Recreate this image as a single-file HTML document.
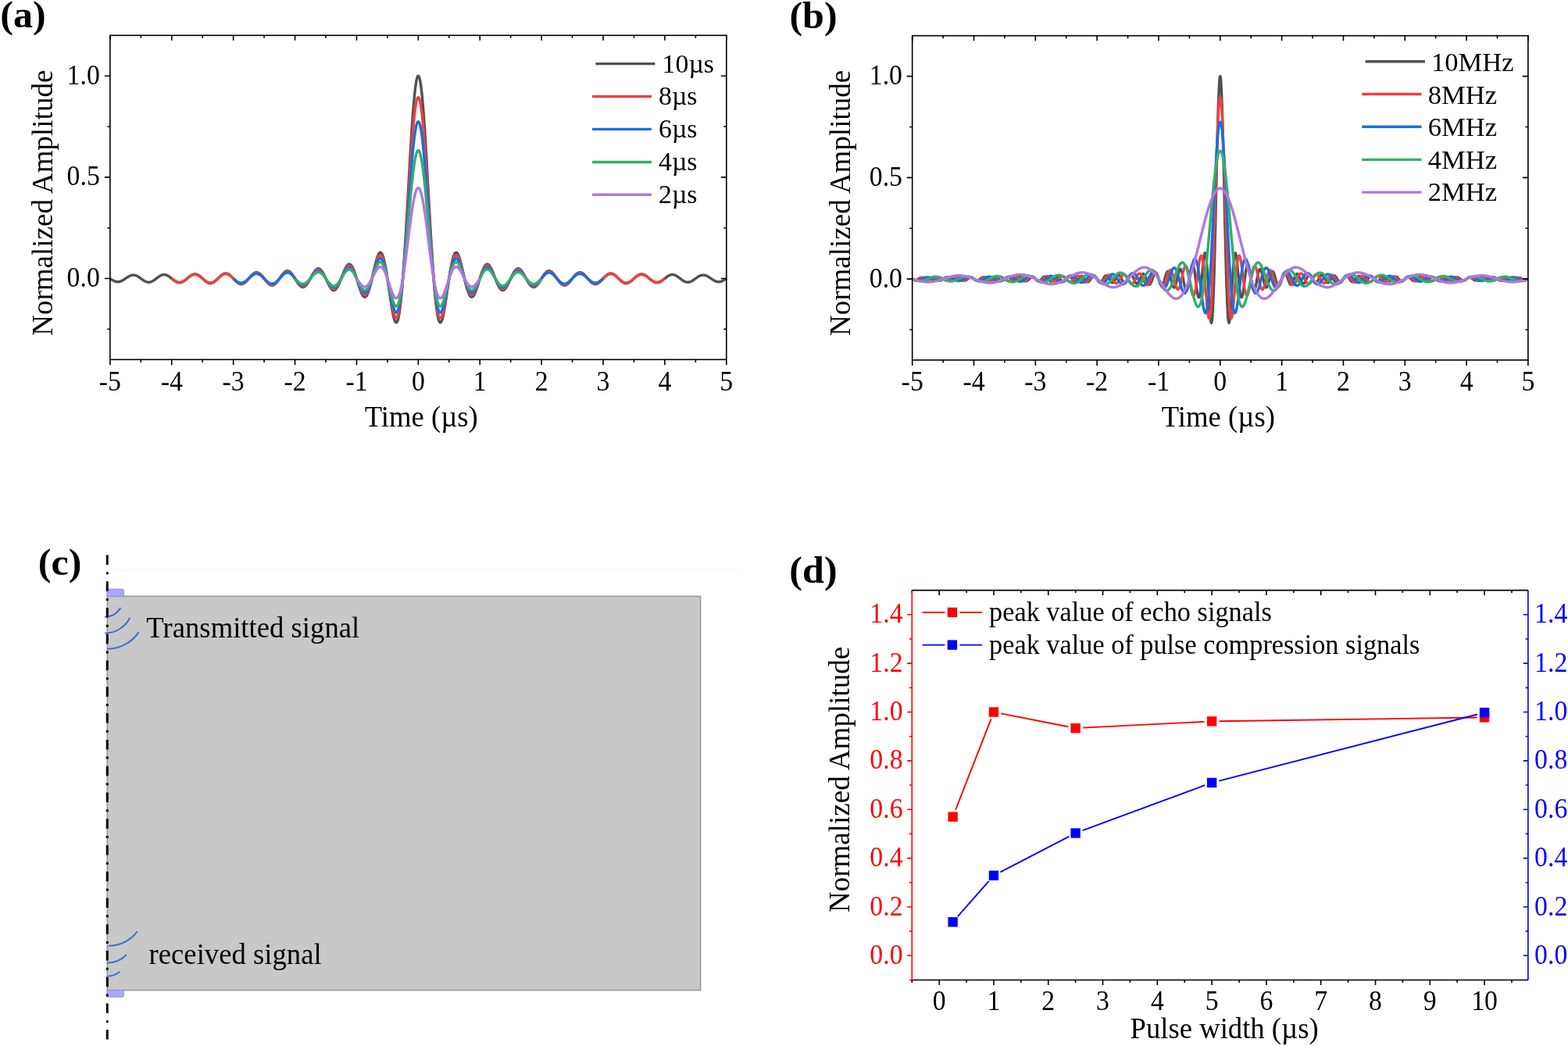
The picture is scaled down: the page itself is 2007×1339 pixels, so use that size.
<!DOCTYPE html><html><head><meta charset="utf-8"><style>html,body{margin:0;padding:0;background:#fff;overflow:hidden;width:2007px;height:1339px}svg{display:block}text{font-family:'Liberation Serif','Times New Roman',serif}</style></head><body>
<svg width="2007" height="1339" viewBox="0 0 2007 1339">
<rect width="2007" height="1339" fill="#fff"/>
<g fill="none" stroke-width="3.4" stroke-linejoin="round" stroke-linecap="butt">
<polyline stroke="#515151" points="140.9,356.6 141.5,357.0 142.2,357.4 142.8,357.8 143.4,358.2 144.1,358.6 144.7,358.9 145.3,359.2 145.9,359.6 146.6,359.8 147.2,360.1 147.8,360.3 148.5,360.5 149.1,360.6 149.7,360.7 150.4,360.8 151.0,360.8 151.6,360.8 152.3,360.7 152.9,360.6 153.5,360.4 154.1,360.2 154.8,360.0 155.4,359.7 156.0,359.4 156.7,359.1 157.3,358.7 157.9,358.3 158.6,357.9 159.2,357.5 159.8,357.1 160.4,356.7 161.1,356.2 161.7,355.8 162.3,355.4 163.0,355.0 163.6,354.5 164.2,354.2 164.9,353.8 165.5,353.5 166.1,353.2 166.8,352.9 167.4,352.7 168.0,352.5 168.6,352.3 169.3,352.2 169.9,352.1 170.5,352.1 171.2,352.1 171.8,352.2 172.4,352.3 173.1,352.4 173.7,352.6 174.3,352.9 175.0,353.1 175.6,353.4 176.2,353.8 176.8,354.1 177.5,354.5 178.1,355.0 178.7,355.4 179.4,355.8 180.0,356.3 180.6,356.8 181.3,357.2 181.9,357.7 182.5,358.1 183.2,358.5 183.8,359.0 184.4,359.4 185.0,359.7 185.7,360.0 186.3,360.3 186.9,360.6 187.6,360.8 188.2,361.0 188.8,361.1 189.5,361.2 190.1,361.3 190.7,361.3 191.3,361.2 192.0,361.1 192.6,361.0 193.2,360.8 193.9,360.5 194.5,360.3 195.1,359.9 195.8,359.6 196.4,359.2 197.0,358.8 197.7,358.4 198.3,357.9 198.9,357.4 199.5,357.0 200.2,356.5 200.8,356.0 201.4,355.5 202.1,355.0 202.7,354.6 203.3,354.1 204.0,353.7 204.6,353.3 205.2,352.9 205.9,352.6 206.5,352.3 207.1,352.1 207.7,351.9 208.4,351.7 209.0,351.6 209.6,351.6 210.3,351.5 210.9,351.6 211.5,351.7 212.2,351.8 212.8,352.0 213.4,352.3 214.1,352.5 214.7,352.9 215.3,353.2 215.9,353.6 216.6,354.0 217.2,354.5 217.8,355.0 218.5,355.5 219.1,356.0 219.7,356.5 220.4,357.0 221.0,357.5 221.6,358.0 222.2,358.5 222.9,359.0 223.5,359.5 224.1,359.9 224.8,360.3 225.4,360.6 226.0,361.0 226.7,361.2 227.3,361.5 227.9,361.6 228.6,361.8 229.2,361.9 229.8,361.9 230.4,361.8 231.1,361.8 231.7,361.6 232.3,361.4 233.0,361.2 233.6,360.9 234.2,360.6 234.9,360.2 235.5,359.8 236.1,359.3 236.8,358.9 237.4,358.4 238.0,357.8 238.6,357.3 239.3,356.8 239.9,356.2 240.5,355.7 241.2,355.1 241.8,354.6 242.4,354.1 243.1,353.6 243.7,353.1 244.3,352.7 245.0,352.3 245.6,351.9 246.2,351.6 246.8,351.4 247.5,351.2 248.1,351.0 248.7,350.9 249.4,350.9 250.0,350.9 250.6,350.9 251.3,351.1 251.9,351.3 252.5,351.5 253.1,351.8 253.8,352.1 254.4,352.5 255.0,353.0 255.7,353.4 256.3,353.9 256.9,354.5 257.6,355.0 258.2,355.6 258.8,356.2 259.5,356.8 260.1,357.3 260.7,357.9 261.3,358.5 262.0,359.1 262.6,359.6 263.2,360.1 263.9,360.6 264.5,361.0 265.1,361.4 265.8,361.8 266.4,362.1 267.0,362.3 267.7,362.5 268.3,362.6 268.9,362.7 269.5,362.7 270.2,362.6 270.8,362.5 271.4,362.3 272.1,362.1 272.7,361.8 273.3,361.4 274.0,361.0 274.6,360.6 275.2,360.1 275.9,359.5 276.5,359.0 277.1,358.4 277.7,357.8 278.4,357.1 279.0,356.5 279.6,355.9 280.3,355.2 280.9,354.6 281.5,354.0 282.2,353.4 282.8,352.9 283.4,352.3 284.0,351.9 284.7,351.4 285.3,351.0 285.9,350.7 286.6,350.4 287.2,350.2 287.8,350.1 288.5,350.0 289.1,349.9 289.7,350.0 290.4,350.1 291.0,350.3 291.6,350.5 292.2,350.8 292.9,351.2 293.5,351.6 294.1,352.1 294.8,352.6 295.4,353.2 296.0,353.8 296.7,354.4 297.3,355.1 297.9,355.7 298.6,356.4 299.2,357.1 299.8,357.8 300.4,358.5 301.1,359.1 301.7,359.8 302.3,360.4 303.0,361.0 303.6,361.5 304.2,362.0 304.9,362.4 305.5,362.8 306.1,363.1 306.8,363.4 307.4,363.6 308.0,363.7 308.6,363.7 309.3,363.7 309.9,363.6 310.5,363.4 311.2,363.2 311.8,362.9 312.4,362.5 313.1,362.1 313.7,361.6 314.3,361.0 314.9,360.4 315.6,359.8 316.2,359.1 316.8,358.4 317.5,357.7 318.1,356.9 318.7,356.2 319.4,355.4 320.0,354.7 320.6,353.9 321.3,353.2 321.9,352.5 322.5,351.9 323.1,351.3 323.8,350.7 324.4,350.2 325.0,349.8 325.7,349.4 326.3,349.1 326.9,348.9 327.6,348.8 328.2,348.7 328.8,348.7 329.5,348.8 330.1,348.9 330.7,349.2 331.3,349.5 332.0,349.9 332.6,350.4 333.2,350.9 333.9,351.5 334.5,352.1 335.1,352.8 335.8,353.5 336.4,354.3 337.0,355.1 337.7,355.9 338.3,356.8 338.9,357.6 339.5,358.4 340.2,359.2 340.8,360.0 341.4,360.8 342.1,361.5 342.7,362.2 343.3,362.8 344.0,363.4 344.6,363.9 345.2,364.3 345.9,364.7 346.5,364.9 347.1,365.1 347.7,365.2 348.4,365.2 349.0,365.2 349.6,365.0 350.3,364.8 350.9,364.4 351.5,364.0 352.2,363.5 352.8,363.0 353.4,362.4 354.0,361.7 354.7,360.9 355.3,360.1 355.9,359.3 356.6,358.4 357.2,357.5 357.8,356.6 358.5,355.6 359.1,354.7 359.7,353.8 360.4,352.9 361.0,352.1 361.6,351.3 362.2,350.5 362.9,349.8 363.5,349.1 364.1,348.5 364.8,348.0 365.4,347.6 366.0,347.3 366.7,347.0 367.3,346.9 367.9,346.8 368.6,346.9 369.2,347.0 369.8,347.3 370.4,347.6 371.1,348.0 371.7,348.5 372.3,349.2 373.0,349.8 373.6,350.6 374.2,351.4 374.9,352.3 375.5,353.2 376.1,354.2 376.8,355.2 377.4,356.2 378.0,357.3 378.6,358.3 379.3,359.3 379.9,360.4 380.5,361.3 381.2,362.3 381.8,363.2 382.4,364.0 383.1,364.7 383.7,365.4 384.3,366.0 384.9,366.5 385.6,367.0 386.2,367.3 386.8,367.5 387.5,367.6 388.1,367.5 388.7,367.4 389.4,367.2 390.0,366.8 390.6,366.4 391.3,365.8 391.9,365.2 392.5,364.4 393.1,363.6 393.8,362.7 394.4,361.7 395.0,360.6 395.7,359.5 396.3,358.4 396.9,357.2 397.6,356.0 398.2,354.9 398.8,353.7 399.5,352.5 400.1,351.4 400.7,350.3 401.3,349.2 402.0,348.3 402.6,347.4 403.2,346.5 403.9,345.8 404.5,345.2 405.1,344.7 405.8,344.3 406.4,344.0 407.0,343.9 407.7,343.8 408.3,343.9 408.9,344.2 409.5,344.5 410.2,345.0 410.8,345.6 411.4,346.3 412.1,347.2 412.7,348.1 413.3,349.2 414.0,350.3 414.6,351.5 415.2,352.7 415.8,354.0 416.5,355.4 417.1,356.8 417.7,358.1 418.4,359.5 419.0,360.9 419.6,362.2 420.3,363.5 420.9,364.8 421.5,366.0 422.2,367.1 422.8,368.1 423.4,368.9 424.0,369.7 424.7,370.4 425.3,370.9 425.9,371.3 426.6,371.5 427.2,371.6 427.8,371.5 428.5,371.3 429.1,370.9 429.7,370.4 430.4,369.7 431.0,368.9 431.6,368.0 432.2,366.9 432.9,365.7 433.5,364.4 434.1,363.0 434.8,361.5 435.4,360.0 436.0,358.4 436.7,356.8 437.3,355.1 437.9,353.4 438.6,351.8 439.2,350.1 439.8,348.5 440.4,347.0 441.1,345.5 441.7,344.2 442.3,342.9 443.0,341.8 443.6,340.8 444.2,339.9 444.9,339.2 445.5,338.7 446.1,338.4 446.7,338.2 447.4,338.2 448.0,338.4 448.6,338.8 449.3,339.3 449.9,340.1 450.5,341.0 451.2,342.1 451.8,343.4 452.4,344.8 453.1,346.3 453.7,348.0 454.3,349.8 454.9,351.7 455.6,353.7 456.2,355.7 456.8,357.8 457.5,359.9 458.1,362.0 458.7,364.1 459.4,366.1 460.0,368.1 460.6,370.0 461.3,371.7 461.9,373.4 462.5,374.9 463.1,376.3 463.8,377.5 464.4,378.4 465.0,379.2 465.7,379.8 466.3,380.1 466.9,380.2 467.6,380.1 468.2,379.7 468.8,379.1 469.5,378.3 470.1,377.2 470.7,375.8 471.3,374.3 472.0,372.5 472.6,370.6 473.2,368.4 473.9,366.1 474.5,363.7 475.1,361.1 475.8,358.4 476.4,355.6 477.0,352.8 477.6,350.0 478.3,347.2 478.9,344.4 479.5,341.7 480.2,339.0 480.8,336.5 481.4,334.1 482.1,331.9 482.7,329.9 483.3,328.1 484.0,326.6 484.6,325.3 485.2,324.4 485.8,323.7 486.5,323.3 487.1,323.3 487.7,323.6 488.4,324.2 489.0,325.2 489.6,326.6 490.3,328.3 490.9,330.3 491.5,332.7 492.2,335.3 492.8,338.3 493.4,341.5 494.0,345.0 494.7,348.8 495.3,352.7 495.9,356.8 496.6,361.0 497.2,365.3 497.8,369.6 498.5,374.0 499.1,378.4 499.7,382.6 500.4,386.8 501.0,390.8 501.6,394.6 502.2,398.2 502.9,401.5 503.5,404.4 504.1,407.0 504.8,409.1 505.4,410.8 506.0,412.0 506.7,412.7 507.3,412.9 507.9,412.5 508.5,411.4 509.2,409.8 509.8,407.5 510.4,404.6 511.1,401.1 511.7,396.9 512.3,392.0 513.0,386.5 513.6,380.4 514.2,373.6 514.9,366.3 515.5,358.4 516.1,350.0 516.7,341.0 517.4,331.6 518.0,321.8 518.6,311.6 519.3,301.0 519.9,290.2 520.5,279.2 521.2,268.0 521.8,256.7 522.4,245.3 523.1,234.0 523.7,222.7 524.3,211.6 524.9,200.6 525.6,190.0 526.2,179.6 526.8,169.7 527.5,160.2 528.1,151.1 528.7,142.7 529.4,134.8 530.0,127.6 530.6,121.0 531.3,115.2 531.9,110.2 532.5,105.9 533.1,102.5 533.8,99.9 534.4,98.2 535.0,97.3 535.7,97.3 536.3,98.2 536.9,99.9 537.6,102.5 538.2,105.9 538.8,110.2 539.4,115.2 540.1,121.0 540.7,127.6 541.3,134.8 542.0,142.7 542.6,151.1 543.2,160.2 543.9,169.7 544.5,179.6 545.1,190.0 545.8,200.6 546.4,211.6 547.0,222.7 547.6,234.0 548.3,245.3 548.9,256.7 549.5,268.0 550.2,279.2 550.8,290.2 551.4,301.0 552.1,311.6 552.7,321.8 553.3,331.6 554.0,341.0 554.6,350.0 555.2,358.4 555.8,366.3 556.5,373.6 557.1,380.4 557.7,386.5 558.4,392.0 559.0,396.9 559.6,401.1 560.3,404.6 560.9,407.5 561.5,409.8 562.2,411.4 562.8,412.5 563.4,412.9 564.0,412.7 564.7,412.0 565.3,410.8 565.9,409.1 566.6,407.0 567.2,404.4 567.8,401.5 568.5,398.2 569.1,394.6 569.7,390.8 570.3,386.8 571.0,382.6 571.6,378.4 572.2,374.0 572.9,369.6 573.5,365.3 574.1,361.0 574.8,356.8 575.4,352.7 576.0,348.8 576.7,345.0 577.3,341.5 577.9,338.3 578.5,335.3 579.2,332.7 579.8,330.3 580.4,328.3 581.1,326.6 581.7,325.2 582.3,324.2 583.0,323.6 583.6,323.3 584.2,323.3 584.9,323.7 585.5,324.4 586.1,325.3 586.7,326.6 587.4,328.1 588.0,329.9 588.6,331.9 589.3,334.1 589.9,336.5 590.5,339.0 591.2,341.7 591.8,344.4 592.4,347.2 593.1,350.0 593.7,352.8 594.3,355.6 594.9,358.4 595.6,361.1 596.2,363.7 596.8,366.1 597.5,368.4 598.1,370.6 598.7,372.5 599.4,374.3 600.0,375.8 600.6,377.2 601.2,378.3 601.9,379.1 602.5,379.7 603.1,380.1 603.8,380.2 604.4,380.1 605.0,379.8 605.7,379.2 606.3,378.4 606.9,377.5 607.6,376.3 608.2,374.9 608.8,373.4 609.4,371.7 610.1,370.0 610.7,368.1 611.3,366.1 612.0,364.1 612.6,362.0 613.2,359.9 613.9,357.8 614.5,355.7 615.1,353.7 615.8,351.7 616.4,349.8 617.0,348.0 617.6,346.3 618.3,344.8 618.9,343.4 619.5,342.1 620.2,341.0 620.8,340.1 621.4,339.3 622.1,338.8 622.7,338.4 623.3,338.2 624.0,338.2 624.6,338.4 625.2,338.7 625.8,339.2 626.5,339.9 627.1,340.8 627.7,341.8 628.4,342.9 629.0,344.2 629.6,345.5 630.3,347.0 630.9,348.5 631.5,350.1 632.1,351.8 632.8,353.4 633.4,355.1 634.0,356.8 634.7,358.4 635.3,360.0 635.9,361.5 636.6,363.0 637.2,364.4 637.8,365.7 638.5,366.9 639.1,368.0 639.7,368.9 640.3,369.7 641.0,370.4 641.6,370.9 642.2,371.3 642.9,371.5 643.5,371.6 644.1,371.5 644.8,371.3 645.4,370.9 646.0,370.4 646.7,369.7 647.3,368.9 647.9,368.1 648.5,367.1 649.2,366.0 649.8,364.8 650.4,363.5 651.1,362.2 651.7,360.9 652.3,359.5 653.0,358.1 653.6,356.8 654.2,355.4 654.9,354.0 655.5,352.7 656.1,351.5 656.7,350.3 657.4,349.2 658.0,348.1 658.6,347.2 659.3,346.3 659.9,345.6 660.5,345.0 661.2,344.5 661.8,344.2 662.4,343.9 663.0,343.8 663.7,343.9 664.3,344.0 664.9,344.3 665.6,344.7 666.2,345.2 666.8,345.8 667.5,346.5 668.1,347.4 668.7,348.3 669.4,349.2 670.0,350.3 670.6,351.4 671.2,352.5 671.9,353.7 672.5,354.9 673.1,356.0 673.8,357.2 674.4,358.4 675.0,359.5 675.7,360.6 676.3,361.7 676.9,362.7 677.6,363.6 678.2,364.4 678.8,365.2 679.4,365.8 680.1,366.4 680.7,366.8 681.3,367.2 682.0,367.4 682.6,367.5 683.2,367.6 683.9,367.5 684.5,367.3 685.1,367.0 685.8,366.5 686.4,366.0 687.0,365.4 687.6,364.7 688.3,364.0 688.9,363.2 689.5,362.3 690.2,361.3 690.8,360.4 691.4,359.3 692.1,358.3 692.7,357.3 693.3,356.2 693.9,355.2 694.6,354.2 695.2,353.2 695.8,352.3 696.5,351.4 697.1,350.6 697.7,349.8 698.4,349.2 699.0,348.5 699.6,348.0 700.3,347.6 700.9,347.3 701.5,347.0 702.1,346.9 702.8,346.8 703.4,346.9 704.0,347.0 704.7,347.3 705.3,347.6 705.9,348.0 706.6,348.5 707.2,349.1 707.8,349.8 708.5,350.5 709.1,351.3 709.7,352.1 710.3,352.9 711.0,353.8 711.6,354.7 712.2,355.6 712.9,356.6 713.5,357.5 714.1,358.4 714.8,359.3 715.4,360.1 716.0,360.9 716.7,361.7 717.3,362.4 717.9,363.0 718.5,363.5 719.2,364.0 719.8,364.4 720.4,364.8 721.1,365.0 721.7,365.2 722.3,365.2 723.0,365.2 723.6,365.1 724.2,364.9 724.8,364.7 725.5,364.3 726.1,363.9 726.7,363.4 727.4,362.8 728.0,362.2 728.6,361.5 729.3,360.8 729.9,360.0 730.5,359.2 731.2,358.4 731.8,357.6 732.4,356.8 733.0,355.9 733.7,355.1 734.3,354.3 734.9,353.5 735.6,352.8 736.2,352.1 736.8,351.5 737.5,350.9 738.1,350.4 738.7,349.9 739.4,349.5 740.0,349.2 740.6,348.9 741.2,348.8 741.9,348.7 742.5,348.7 743.1,348.8 743.8,348.9 744.4,349.1 745.0,349.4 745.7,349.8 746.3,350.2 746.9,350.7 747.6,351.3 748.2,351.9 748.8,352.5 749.4,353.2 750.1,353.9 750.7,354.7 751.3,355.4 752.0,356.2 752.6,356.9 753.2,357.7 753.9,358.4 754.5,359.1 755.1,359.8 755.8,360.4 756.4,361.0 757.0,361.6 757.6,362.1 758.3,362.5 758.9,362.9 759.5,363.2 760.2,363.4 760.8,363.6 761.4,363.7 762.1,363.7 762.7,363.7 763.3,363.6 763.9,363.4 764.6,363.1 765.2,362.8 765.8,362.4 766.5,362.0 767.1,361.5 767.7,361.0 768.4,360.4 769.0,359.8 769.6,359.1 770.3,358.5 770.9,357.8 771.5,357.1 772.1,356.4 772.8,355.7 773.4,355.1 774.0,354.4 774.7,353.8 775.3,353.2 775.9,352.6 776.6,352.1 777.2,351.6 777.8,351.2 778.5,350.8 779.1,350.5 779.7,350.3 780.3,350.1 781.0,350.0 781.6,349.9 782.2,350.0 782.9,350.1 783.5,350.2 784.1,350.4 784.8,350.7 785.4,351.0 786.0,351.4 786.7,351.9 787.3,352.3 787.9,352.9 788.5,353.4 789.2,354.0 789.8,354.6 790.4,355.2 791.1,355.9 791.7,356.5 792.3,357.1 793.0,357.8 793.6,358.4 794.2,359.0 794.8,359.5 795.5,360.1 796.1,360.6 796.7,361.0 797.4,361.4 798.0,361.8 798.6,362.1 799.3,362.3 799.9,362.5 800.5,362.6 801.2,362.7 801.8,362.7 802.4,362.6 803.0,362.5 803.7,362.3 804.3,362.1 804.9,361.8 805.6,361.4 806.2,361.0 806.8,360.6 807.5,360.1 808.1,359.6 808.7,359.1 809.4,358.5 810.0,357.9 810.6,357.3 811.2,356.8 811.9,356.2 812.5,355.6 813.1,355.0 813.8,354.5 814.4,353.9 815.0,353.4 815.7,353.0 816.3,352.5 816.9,352.1 817.6,351.8 818.2,351.5 818.8,351.3 819.4,351.1 820.1,350.9 820.7,350.9 821.3,350.9 822.0,350.9 822.6,351.0 823.2,351.2 823.9,351.4 824.5,351.6 825.1,351.9 825.7,352.3 826.4,352.7 827.0,353.1 827.6,353.6 828.3,354.1 828.9,354.6 829.5,355.1 830.2,355.7 830.8,356.2 831.4,356.8 832.1,357.3 832.7,357.8 833.3,358.4 833.9,358.9 834.6,359.3 835.2,359.8 835.8,360.2 836.5,360.6 837.1,360.9 837.7,361.2 838.4,361.4 839.0,361.6 839.6,361.8 840.3,361.8 840.9,361.9 841.5,361.9 842.1,361.8 842.8,361.6 843.4,361.5 844.0,361.2 844.7,361.0 845.3,360.6 845.9,360.3 846.6,359.9 847.2,359.5 847.8,359.0 848.5,358.5 849.1,358.0 849.7,357.5 850.3,357.0 851.0,356.5 851.6,356.0 852.2,355.5 852.9,355.0 853.5,354.5 854.1,354.0 854.8,353.6 855.4,353.2 856.0,352.9 856.6,352.5 857.3,352.3 857.9,352.0 858.5,351.8 859.2,351.7 859.8,351.6 860.4,351.5 861.1,351.6 861.7,351.6 862.3,351.7 863.0,351.9 863.6,352.1 864.2,352.3 864.8,352.6 865.5,352.9 866.1,353.3 866.7,353.7 867.4,354.1 868.0,354.6 868.6,355.0 869.3,355.5 869.9,356.0 870.5,356.5 871.2,357.0 871.8,357.4 872.4,357.9 873.0,358.4 873.7,358.8 874.3,359.2 874.9,359.6 875.6,359.9 876.2,360.3 876.8,360.5 877.5,360.8 878.1,361.0 878.7,361.1 879.4,361.2 880.0,361.3 880.6,361.3 881.2,361.2 881.9,361.1 882.5,361.0 883.1,360.8 883.8,360.6 884.4,360.3 885.0,360.0 885.7,359.7 886.3,359.4 886.9,359.0 887.5,358.5 888.2,358.1 888.8,357.7 889.4,357.2 890.1,356.8 890.7,356.3 891.3,355.8 892.0,355.4 892.6,355.0 893.2,354.5 893.9,354.1 894.5,353.8 895.1,353.4 895.7,353.1 896.4,352.9 897.0,352.6 897.6,352.4 898.3,352.3 898.9,352.2 899.5,352.1 900.2,352.1 900.8,352.1 901.4,352.2 902.1,352.3 902.7,352.5 903.3,352.7 903.9,352.9 904.6,353.2 905.2,353.5 905.8,353.8 906.5,354.2 907.1,354.5 907.7,355.0 908.4,355.4 909.0,355.8 909.6,356.2 910.3,356.7 910.9,357.1 911.5,357.5 912.1,357.9 912.8,358.3 913.4,358.7 914.0,359.1 914.7,359.4 915.3,359.7 915.9,360.0 916.6,360.2 917.2,360.4 917.8,360.6 918.4,360.7 919.1,360.8 919.7,360.8 920.3,360.8 921.0,360.7 921.6,360.6 922.2,360.5 922.9,360.3 923.5,360.1 924.1,359.8 924.8,359.6 925.4,359.2 926.0,358.9 926.6,358.6 927.3,358.2 927.9,357.8 928.5,357.4 929.2,357.0 929.8,356.6"/>
<polyline stroke="#F14040" points="219.8,356.6 220.4,357.0 221.1,357.5 221.7,357.9 222.3,358.4 222.9,358.8 223.6,359.2 224.2,359.6 224.8,359.9 225.5,360.2 226.1,360.5 226.7,360.8 227.4,361.0 228.0,361.1 228.6,361.2 229.2,361.3 229.9,361.3 230.5,361.3 231.1,361.2 231.8,361.1 232.4,360.9 233.0,360.7 233.7,360.4 234.3,360.1 234.9,359.8 235.6,359.4 236.2,359.0 236.8,358.6 237.4,358.1 238.1,357.7 238.7,357.2 239.3,356.7 240.0,356.2 240.6,355.7 241.2,355.2 241.9,354.7 242.5,354.3 243.1,353.8 243.7,353.4 244.4,353.0 245.0,352.7 245.6,352.4 246.3,352.1 246.9,351.9 247.5,351.7 248.2,351.6 248.8,351.5 249.4,351.5 250.1,351.5 250.7,351.5 251.3,351.7 251.9,351.8 252.6,352.1 253.2,352.3 253.8,352.6 254.5,353.0 255.1,353.4 255.7,353.8 256.4,354.2 257.0,354.7 257.6,355.2 258.2,355.7 258.9,356.3 259.5,356.8 260.1,357.3 260.8,357.8 261.4,358.3 262.0,358.8 262.7,359.3 263.3,359.8 263.9,360.2 264.6,360.6 265.2,360.9 265.8,361.2 266.4,361.5 267.1,361.7 267.7,361.9 268.3,362.0 269.0,362.0 269.6,362.0 270.2,362.0 270.9,361.8 271.5,361.7 272.1,361.5 272.8,361.2 273.4,360.9 274.0,360.5 274.6,360.1 275.3,359.7 275.9,359.2 276.5,358.7 277.2,358.1 277.8,357.6 278.4,357.0 279.1,356.5 279.7,355.9 280.3,355.3 280.9,354.8 281.6,354.2 282.2,353.7 282.8,353.2 283.5,352.7 284.1,352.3 284.7,351.9 285.4,351.6 286.0,351.3 286.6,351.0 287.3,350.9 287.9,350.7 288.5,350.7 289.1,350.6 289.8,350.7 290.4,350.8 291.0,351.0 291.7,351.2 292.3,351.5 292.9,351.8 293.6,352.2 294.2,352.6 294.8,353.1 295.4,353.6 296.1,354.1 296.7,354.7 297.3,355.3 298.0,355.9 298.6,356.5 299.2,357.1 299.9,357.7 300.5,358.3 301.1,358.9 301.8,359.5 302.4,360.0 303.0,360.5 303.6,361.0 304.3,361.5 304.9,361.8 305.5,362.2 306.2,362.5 306.8,362.7 307.4,362.8 308.1,362.9 308.7,363.0 309.3,362.9 309.9,362.8 310.6,362.7 311.2,362.5 311.8,362.2 312.5,361.8 313.1,361.4 313.7,361.0 314.4,360.5 315.0,360.0 315.6,359.4 316.3,358.8 316.9,358.1 317.5,357.5 318.1,356.8 318.8,356.1 319.4,355.5 320.0,354.8 320.7,354.2 321.3,353.5 321.9,352.9 322.6,352.3 323.2,351.8 323.8,351.3 324.5,350.9 325.1,350.5 325.7,350.2 326.3,349.9 327.0,349.7 327.6,349.6 328.2,349.5 328.9,349.5 329.5,349.6 330.1,349.8 330.8,350.0 331.4,350.3 332.0,350.6 332.6,351.0 333.3,351.5 333.9,352.1 334.5,352.6 335.2,353.3 335.8,353.9 336.4,354.6 337.1,355.3 337.7,356.0 338.3,356.8 339.0,357.5 339.6,358.3 340.2,359.0 340.8,359.7 341.5,360.4 342.1,361.0 342.7,361.6 343.4,362.2 344.0,362.7 344.6,363.1 345.3,363.5 345.9,363.8 346.5,364.1 347.1,364.2 347.8,364.3 348.4,364.3 349.0,364.3 349.7,364.1 350.3,363.9 350.9,363.6 351.6,363.2 352.2,362.8 352.8,362.3 353.5,361.7 354.1,361.1 354.7,360.4 355.3,359.7 356.0,358.9 356.6,358.2 357.2,357.3 357.9,356.5 358.5,355.7 359.1,354.9 359.8,354.1 360.4,353.3 361.0,352.5 361.7,351.8 362.3,351.1 362.9,350.5 363.5,349.9 364.2,349.4 364.8,348.9 365.4,348.5 366.1,348.2 366.7,348.0 367.3,347.9 368.0,347.9 368.6,347.9 369.2,348.0 369.8,348.3 370.5,348.6 371.1,349.0 371.7,349.4 372.4,350.0 373.0,350.6 373.6,351.3 374.3,352.0 374.9,352.8 375.5,353.6 376.2,354.5 376.8,355.4 377.4,356.3 378.0,357.2 378.7,358.2 379.3,359.1 379.9,360.0 380.6,360.9 381.2,361.7 381.8,362.5 382.5,363.2 383.1,363.9 383.7,364.5 384.3,365.1 385.0,365.5 385.6,365.9 386.2,366.1 386.9,366.3 387.5,366.4 388.1,366.4 388.8,366.3 389.4,366.0 390.0,365.7 390.7,365.3 391.3,364.8 391.9,364.2 392.5,363.5 393.2,362.8 393.8,362.0 394.4,361.1 395.1,360.2 395.7,359.2 396.3,358.2 397.0,357.1 397.6,356.1 398.2,355.0 398.8,353.9 399.5,352.9 400.1,351.9 400.7,350.9 401.4,350.0 402.0,349.1 402.6,348.3 403.3,347.6 403.9,346.9 404.5,346.4 405.2,345.9 405.8,345.6 406.4,345.3 407.0,345.2 407.7,345.2 408.3,345.3 408.9,345.5 409.6,345.8 410.2,346.3 410.8,346.8 411.5,347.5 412.1,348.2 412.7,349.0 413.4,350.0 414.0,351.0 414.6,352.0 415.2,353.2 415.9,354.3 416.5,355.6 417.1,356.8 417.8,358.0 418.4,359.3 419.0,360.5 419.7,361.7 420.3,362.9 420.9,364.0 421.5,365.0 422.2,366.0 422.8,366.9 423.4,367.7 424.1,368.4 424.7,368.9 425.3,369.4 426.0,369.7 426.6,369.9 427.2,370.0 427.9,369.9 428.5,369.7 429.1,369.4 429.7,368.9 430.4,368.3 431.0,367.6 431.6,366.7 432.3,365.8 432.9,364.7 433.5,363.6 434.2,362.3 434.8,361.0 435.4,359.6 436.0,358.2 436.7,356.7 437.3,355.2 437.9,353.7 438.6,352.2 439.2,350.8 439.8,349.3 440.5,348.0 441.1,346.7 441.7,345.5 442.4,344.3 443.0,343.3 443.6,342.4 444.2,341.7 444.9,341.1 445.5,340.6 446.1,340.3 446.8,340.1 447.4,340.1 448.0,340.3 448.7,340.6 449.3,341.2 449.9,341.8 450.5,342.7 451.2,343.7 451.8,344.8 452.4,346.1 453.1,347.5 453.7,349.0 454.3,350.6 455.0,352.3 455.6,354.0 456.2,355.9 456.9,357.7 457.5,359.6 458.1,361.5 458.7,363.3 459.4,365.1 460.0,366.9 460.6,368.6 461.3,370.2 461.9,371.7 462.5,373.0 463.2,374.2 463.8,375.3 464.4,376.1 465.1,376.8 465.7,377.3 466.3,377.6 466.9,377.7 467.6,377.6 468.2,377.3 468.8,376.7 469.5,375.9 470.1,375.0 470.7,373.8 471.4,372.4 472.0,370.8 472.6,369.0 473.2,367.1 473.9,365.1 474.5,362.9 475.1,360.6 475.8,358.2 476.4,355.7 477.0,353.2 477.7,350.7 478.3,348.1 478.9,345.6 479.6,343.2 480.2,340.8 480.8,338.6 481.4,336.5 482.1,334.5 482.7,332.7 483.3,331.1 484.0,329.7 484.6,328.6 485.2,327.7 485.9,327.1 486.5,326.8 487.1,326.8 487.7,327.1 488.4,327.7 489.0,328.6 489.6,329.8 490.3,331.3 490.9,333.1 491.5,335.2 492.2,337.6 492.8,340.3 493.4,343.2 494.1,346.3 494.7,349.6 495.3,353.1 495.9,356.8 496.6,360.6 497.2,364.4 497.8,368.3 498.5,372.2 499.1,376.1 499.7,379.9 500.4,383.7 501.0,387.2 501.6,390.6 502.2,393.8 502.9,396.7 503.5,399.4 504.1,401.7 504.8,403.6 505.4,405.1 506.0,406.2 506.7,406.8 507.3,406.9 507.9,406.5 508.6,405.6 509.2,404.2 509.8,402.1 510.4,399.5 511.1,396.3 511.7,392.6 512.3,388.2 513.0,383.3 513.6,377.8 514.2,371.8 514.9,365.2 515.5,358.2 516.1,350.6 516.8,342.6 517.4,334.2 518.0,325.4 518.6,316.3 519.3,306.9 519.9,297.2 520.5,287.3 521.2,277.3 521.8,267.2 522.4,257.0 523.1,246.9 523.7,236.8 524.3,226.8 524.9,217.1 525.6,207.5 526.2,198.3 526.8,189.4 527.5,180.9 528.1,172.8 528.7,165.2 529.4,158.2 530.0,151.7 530.6,145.9 531.3,140.7 531.9,136.2 532.5,132.4 533.1,129.3 533.8,127.0 534.4,125.4 535.0,124.7 535.7,124.7 536.3,125.4 536.9,127.0 537.6,129.3 538.2,132.4 538.8,136.2 539.4,140.7 540.1,145.9 540.7,151.7 541.3,158.2 542.0,165.2 542.6,172.8 543.2,180.9 543.9,189.4 544.5,198.3 545.1,207.5 545.8,217.1 546.4,226.8 547.0,236.8 547.6,246.9 548.3,257.0 548.9,267.2 549.5,277.3 550.2,287.3 550.8,297.2 551.4,306.9 552.1,316.3 552.7,325.4 553.3,334.2 553.9,342.6 554.6,350.6 555.2,358.2 555.8,365.2 556.5,371.8 557.1,377.8 557.7,383.3 558.4,388.2 559.0,392.6 559.6,396.3 560.3,399.5 560.9,402.1 561.5,404.2 562.1,405.6 562.8,406.5 563.4,406.9 564.0,406.8 564.7,406.2 565.3,405.1 565.9,403.6 566.6,401.7 567.2,399.4 567.8,396.7 568.5,393.8 569.1,390.6 569.7,387.2 570.3,383.7 571.0,379.9 571.6,376.1 572.2,372.2 572.9,368.3 573.5,364.4 574.1,360.6 574.8,356.8 575.4,353.1 576.0,349.6 576.6,346.3 577.3,343.2 577.9,340.3 578.5,337.6 579.2,335.2 579.8,333.1 580.4,331.3 581.1,329.8 581.7,328.6 582.3,327.7 583.0,327.1 583.6,326.8 584.2,326.8 584.8,327.1 585.5,327.7 586.1,328.6 586.7,329.7 587.4,331.1 588.0,332.7 588.6,334.5 589.3,336.5 589.9,338.6 590.5,340.8 591.1,343.2 591.8,345.6 592.4,348.1 593.0,350.7 593.7,353.2 594.3,355.7 594.9,358.2 595.6,360.6 596.2,362.9 596.8,365.1 597.5,367.1 598.1,369.0 598.7,370.8 599.3,372.4 600.0,373.8 600.6,375.0 601.2,375.9 601.9,376.7 602.5,377.3 603.1,377.6 603.8,377.7 604.4,377.6 605.0,377.3 605.6,376.8 606.3,376.1 606.9,375.3 607.5,374.2 608.2,373.0 608.8,371.7 609.4,370.2 610.1,368.6 610.7,366.9 611.3,365.1 612.0,363.3 612.6,361.5 613.2,359.6 613.8,357.7 614.5,355.9 615.1,354.0 615.7,352.3 616.4,350.6 617.0,349.0 617.6,347.5 618.3,346.1 618.9,344.8 619.5,343.7 620.2,342.7 620.8,341.8 621.4,341.2 622.0,340.6 622.7,340.3 623.3,340.1 623.9,340.1 624.6,340.3 625.2,340.6 625.8,341.1 626.5,341.7 627.1,342.4 627.7,343.3 628.3,344.3 629.0,345.5 629.6,346.7 630.2,348.0 630.9,349.3 631.5,350.8 632.1,352.2 632.8,353.7 633.4,355.2 634.0,356.7 634.7,358.2 635.3,359.6 635.9,361.0 636.5,362.3 637.2,363.6 637.8,364.7 638.4,365.8 639.1,366.7 639.7,367.6 640.3,368.3 641.0,368.9 641.6,369.4 642.2,369.7 642.8,369.9 643.5,370.0 644.1,369.9 644.7,369.7 645.4,369.4 646.0,368.9 646.6,368.4 647.3,367.7 647.9,366.9 648.5,366.0 649.2,365.0 649.8,364.0 650.4,362.9 651.0,361.7 651.7,360.5 652.3,359.3 652.9,358.0 653.6,356.8 654.2,355.6 654.8,354.3 655.5,353.2 656.1,352.0 656.7,351.0 657.3,350.0 658.0,349.0 658.6,348.2 659.2,347.5 659.9,346.8 660.5,346.3 661.1,345.8 661.8,345.5 662.4,345.3 663.0,345.2 663.7,345.2 664.3,345.3 664.9,345.6 665.5,345.9 666.2,346.4 666.8,346.9 667.4,347.6 668.1,348.3 668.7,349.1 669.3,350.0 670.0,350.9 670.6,351.9 671.2,352.9 671.9,353.9 672.5,355.0 673.1,356.1 673.7,357.1 674.4,358.2 675.0,359.2 675.6,360.2 676.3,361.1 676.9,362.0 677.5,362.8 678.2,363.5 678.8,364.2 679.4,364.8 680.0,365.3 680.7,365.7 681.3,366.0 681.9,366.3 682.6,366.4 683.2,366.4 683.8,366.3 684.5,366.1 685.1,365.9 685.7,365.5 686.4,365.1 687.0,364.5 687.6,363.9 688.2,363.2 688.9,362.5 689.5,361.7 690.1,360.9 690.8,360.0 691.4,359.1 692.0,358.2 692.7,357.2 693.3,356.3 693.9,355.4 694.5,354.5 695.2,353.6 695.8,352.8 696.4,352.0 697.1,351.3 697.7,350.6 698.3,350.0 699.0,349.4 699.6,349.0 700.2,348.6 700.9,348.3 701.5,348.0 702.1,347.9 702.7,347.9 703.4,347.9 704.0,348.0 704.6,348.2 705.3,348.5 705.9,348.9 706.5,349.4 707.2,349.9 707.8,350.5 708.4,351.1 709.0,351.8 709.7,352.5 710.3,353.3 710.9,354.1 711.6,354.9 712.2,355.7 712.8,356.5 713.5,357.3 714.1,358.2 714.7,358.9 715.4,359.7 716.0,360.4 716.6,361.1 717.2,361.7 717.9,362.3 718.5,362.8 719.1,363.2 719.8,363.6 720.4,363.9 721.0,364.1 721.7,364.3 722.3,364.3 722.9,364.3 723.6,364.2 724.2,364.1 724.8,363.8 725.4,363.5 726.1,363.1 726.7,362.7 727.3,362.2 728.0,361.6 728.6,361.0 729.2,360.4 729.9,359.7 730.5,359.0 731.1,358.3 731.7,357.5 732.4,356.8 733.0,356.0 733.6,355.3 734.3,354.6 734.9,353.9 735.5,353.3 736.2,352.6 736.8,352.1 737.4,351.5 738.1,351.0 738.7,350.6 739.3,350.3 739.9,350.0 740.6,349.8 741.2,349.6 741.8,349.5 742.5,349.5 743.1,349.6 743.7,349.7 744.4,349.9 745.0,350.2 745.6,350.5 746.2,350.9 746.9,351.3 747.5,351.8 748.1,352.3 748.8,352.9 749.4,353.5 750.0,354.2 750.7,354.8 751.3,355.5 751.9,356.1 752.6,356.8 753.2,357.5 753.8,358.1 754.4,358.8 755.1,359.4 755.7,360.0 756.3,360.5 757.0,361.0 757.6,361.4 758.2,361.8 758.9,362.2 759.5,362.5 760.1,362.7 760.8,362.8 761.4,362.9 762.0,363.0 762.6,362.9 763.3,362.8 763.9,362.7 764.5,362.5 765.2,362.2 765.8,361.8 766.4,361.5 767.1,361.0 767.7,360.5 768.3,360.0 768.9,359.5 769.6,358.9 770.2,358.3 770.8,357.7 771.5,357.1 772.1,356.5 772.7,355.9 773.4,355.3 774.0,354.7 774.6,354.1 775.3,353.6 775.9,353.1 776.5,352.6 777.1,352.2 777.8,351.8 778.4,351.5 779.0,351.2 779.7,351.0 780.3,350.8 780.9,350.7 781.6,350.6 782.2,350.7 782.8,350.7 783.4,350.9 784.1,351.0 784.7,351.3 785.3,351.6 786.0,351.9 786.6,352.3 787.2,352.7 787.9,353.2 788.5,353.7 789.1,354.2 789.8,354.8 790.4,355.3 791.0,355.9 791.6,356.5 792.3,357.0 792.9,357.6 793.5,358.1 794.2,358.7 794.8,359.2 795.4,359.7 796.1,360.1 796.7,360.5 797.3,360.9 797.9,361.2 798.6,361.5 799.2,361.7 799.8,361.8 800.5,362.0 801.1,362.0 801.7,362.0 802.4,362.0 803.0,361.9 803.6,361.7 804.3,361.5 804.9,361.2 805.5,360.9 806.1,360.6 806.8,360.2 807.4,359.8 808.0,359.3 808.7,358.8 809.3,358.3 809.9,357.8 810.6,357.3 811.2,356.8 811.8,356.3 812.5,355.7 813.1,355.2 813.7,354.7 814.3,354.2 815.0,353.8 815.6,353.4 816.2,353.0 816.9,352.6 817.5,352.3 818.1,352.1 818.8,351.8 819.4,351.7 820.0,351.5 820.6,351.5 821.3,351.5 821.9,351.5 822.5,351.6 823.2,351.7 823.8,351.9 824.4,352.1 825.1,352.4 825.7,352.7 826.3,353.0 827.0,353.4 827.6,353.8 828.2,354.3 828.8,354.7 829.5,355.2 830.1,355.7 830.7,356.2 831.4,356.7 832.0,357.2 832.6,357.7 833.3,358.1 833.9,358.6 834.5,359.0 835.1,359.4 835.8,359.8 836.4,360.1 837.0,360.4 837.7,360.7 838.3,360.9 838.9,361.1 839.6,361.2 840.2,361.3 840.8,361.3 841.5,361.3 842.1,361.2 842.7,361.1 843.3,361.0 844.0,360.8 844.6,360.5 845.2,360.2 845.9,359.9 846.5,359.6 847.1,359.2 847.8,358.8 848.4,358.4 849.0,357.9 849.6,357.5 850.3,357.0 850.9,356.6"/>
<polyline stroke="#1A6FDF" points="298.7,356.6 299.3,357.1 299.9,357.6 300.6,358.1 301.2,358.7 301.8,359.1 302.5,359.6 303.1,360.1 303.7,360.5 304.4,360.8 305.0,361.2 305.6,361.5 306.2,361.7 306.9,361.9 307.5,362.0 308.1,362.1 308.8,362.1 309.4,362.1 310.0,362.0 310.7,361.8 311.3,361.6 311.9,361.4 312.5,361.1 313.2,360.7 313.8,360.4 314.4,359.9 315.1,359.5 315.7,358.9 316.3,358.4 317.0,357.9 317.6,357.3 318.2,356.7 318.8,356.1 319.5,355.6 320.1,355.0 320.7,354.4 321.4,353.9 322.0,353.3 322.6,352.9 323.3,352.4 323.9,352.0 324.5,351.6 325.2,351.3 325.8,351.0 326.4,350.8 327.0,350.6 327.7,350.5 328.3,350.5 328.9,350.5 329.6,350.6 330.2,350.7 330.8,350.9 331.5,351.1 332.1,351.5 332.7,351.8 333.3,352.2 334.0,352.7 334.6,353.2 335.2,353.8 335.9,354.3 336.5,354.9 337.1,355.5 337.8,356.2 338.4,356.8 339.0,357.5 339.6,358.1 340.3,358.7 340.9,359.3 341.5,359.9 342.2,360.5 342.8,361.0 343.4,361.5 344.1,361.9 344.7,362.3 345.3,362.6 346.0,362.9 346.6,363.1 347.2,363.2 347.8,363.3 348.5,363.3 349.1,363.2 349.7,363.1 350.4,362.9 351.0,362.6 351.6,362.3 352.3,361.9 352.9,361.5 353.5,361.0 354.1,360.4 354.8,359.8 355.4,359.2 356.0,358.6 356.7,357.9 357.3,357.2 357.9,356.5 358.6,355.7 359.2,355.0 359.8,354.3 360.4,353.6 361.1,353.0 361.7,352.4 362.3,351.8 363.0,351.2 363.6,350.7 364.2,350.3 364.9,349.9 365.5,349.6 366.1,349.3 366.8,349.2 367.4,349.1 368.0,349.0 368.6,349.1 369.3,349.2 369.9,349.4 370.5,349.7 371.2,350.0 371.8,350.4 372.4,350.9 373.1,351.4 373.7,352.0 374.3,352.7 374.9,353.4 375.6,354.1 376.2,354.8 376.8,355.6 377.5,356.4 378.1,357.2 378.7,358.0 379.4,358.8 380.0,359.6 380.6,360.4 381.2,361.1 381.9,361.8 382.5,362.4 383.1,363.0 383.8,363.5 384.4,363.9 385.0,364.3 385.7,364.6 386.3,364.9 386.9,365.0 387.5,365.1 388.2,365.1 388.8,365.0 389.4,364.8 390.1,364.5 390.7,364.1 391.3,363.7 392.0,363.2 392.6,362.6 393.2,361.9 393.9,361.2 394.5,360.4 395.1,359.6 395.7,358.8 396.4,357.9 397.0,357.0 397.6,356.1 398.3,355.1 398.9,354.2 399.5,353.3 400.2,352.4 400.8,351.6 401.4,350.8 402.0,350.1 402.7,349.4 403.3,348.7 403.9,348.2 404.6,347.7 405.2,347.3 405.8,347.0 406.5,346.8 407.1,346.7 407.7,346.7 408.3,346.8 409.0,347.0 409.6,347.3 410.2,347.7 410.9,348.1 411.5,348.7 412.1,349.4 412.8,350.1 413.4,350.9 414.0,351.8 414.7,352.7 415.3,353.7 415.9,354.7 416.5,355.8 417.2,356.8 417.8,357.9 418.4,359.0 419.1,360.0 419.7,361.1 420.3,362.1 421.0,363.0 421.6,363.9 422.2,364.8 422.8,365.5 423.5,366.2 424.1,366.8 424.7,367.3 425.4,367.7 426.0,368.0 426.6,368.1 427.3,368.2 427.9,368.1 428.5,368.0 429.1,367.7 429.8,367.2 430.4,366.7 431.0,366.1 431.7,365.3 432.3,364.5 432.9,363.6 433.6,362.6 434.2,361.5 434.8,360.3 435.5,359.1 436.1,357.9 436.7,356.6 437.3,355.3 438.0,354.0 438.6,352.7 439.2,351.5 439.9,350.2 440.5,349.1 441.1,347.9 441.8,346.9 442.4,345.9 443.0,345.1 443.6,344.3 444.3,343.6 444.9,343.1 445.5,342.7 446.2,342.4 446.8,342.3 447.4,342.3 448.1,342.5 448.7,342.8 449.3,343.2 449.9,343.8 450.6,344.6 451.2,345.4 451.8,346.4 452.5,347.5 453.1,348.7 453.7,350.0 454.4,351.4 455.0,352.9 455.6,354.4 456.2,356.0 456.9,357.6 457.5,359.2 458.1,360.9 458.8,362.5 459.4,364.0 460.0,365.6 460.7,367.0 461.3,368.4 461.9,369.7 462.6,370.8 463.2,371.9 463.8,372.8 464.4,373.5 465.1,374.1 465.7,374.6 466.3,374.8 467.0,374.9 467.6,374.8 468.2,374.5 468.9,374.0 469.5,373.3 470.1,372.5 470.7,371.4 471.4,370.2 472.0,368.8 472.6,367.3 473.3,365.6 473.9,363.9 474.5,362.0 475.2,360.0 475.8,357.9 476.4,355.7 477.0,353.6 477.7,351.4 478.3,349.2 478.9,347.0 479.6,344.9 480.2,342.9 480.8,340.9 481.5,339.1 482.1,337.4 482.7,335.9 483.4,334.5 484.0,333.3 484.6,332.3 485.2,331.6 485.9,331.1 486.5,330.8 487.1,330.8 487.8,331.0 488.4,331.5 489.0,332.3 489.7,333.4 490.3,334.7 490.9,336.3 491.5,338.1 492.2,340.2 492.8,342.5 493.4,345.0 494.1,347.7 494.7,350.6 495.3,353.7 496.0,356.8 496.6,360.1 497.2,363.4 497.8,366.8 498.5,370.2 499.1,373.6 499.7,376.9 500.4,380.1 501.0,383.2 501.6,386.1 502.3,388.9 502.9,391.4 503.5,393.7 504.2,395.6 504.8,397.3 505.4,398.6 506.0,399.5 506.7,400.1 507.3,400.2 507.9,399.8 508.6,399.0 509.2,397.8 509.8,396.0 510.5,393.7 511.1,391.0 511.7,387.7 512.3,383.9 513.0,379.7 513.6,374.9 514.2,369.7 514.9,364.0 515.5,357.9 516.1,351.3 516.8,344.4 517.4,337.1 518.0,329.5 518.6,321.6 519.3,313.4 519.9,305.1 520.5,296.5 521.2,287.8 521.8,279.1 522.4,270.3 523.1,261.5 523.7,252.8 524.3,244.2 525.0,235.7 525.6,227.5 526.2,219.5 526.8,211.7 527.5,204.4 528.1,197.4 528.7,190.8 529.4,184.7 530.0,179.2 530.6,174.1 531.3,169.6 531.9,165.7 532.5,162.4 533.1,159.7 533.8,157.7 534.4,156.4 535.0,155.7 535.7,155.7 536.3,156.4 536.9,157.7 537.6,159.7 538.2,162.4 538.8,165.7 539.4,169.6 540.1,174.1 540.7,179.2 541.3,184.7 542.0,190.8 542.6,197.4 543.2,204.4 543.9,211.7 544.5,219.5 545.1,227.5 545.7,235.7 546.4,244.2 547.0,252.8 547.6,261.5 548.3,270.3 548.9,279.1 549.5,287.8 550.2,296.5 550.8,305.1 551.4,313.4 552.1,321.6 552.7,329.5 553.3,337.1 553.9,344.4 554.6,351.3 555.2,357.9 555.8,364.0 556.5,369.7 557.1,374.9 557.7,379.7 558.4,383.9 559.0,387.7 559.6,391.0 560.2,393.7 560.9,396.0 561.5,397.8 562.1,399.0 562.8,399.8 563.4,400.2 564.0,400.1 564.7,399.5 565.3,398.6 565.9,397.3 566.5,395.6 567.2,393.7 567.8,391.4 568.4,388.9 569.1,386.1 569.7,383.2 570.3,380.1 571.0,376.9 571.6,373.6 572.2,370.2 572.9,366.8 573.5,363.4 574.1,360.1 574.7,356.8 575.4,353.7 576.0,350.6 576.6,347.7 577.3,345.0 577.9,342.5 578.5,340.2 579.2,338.1 579.8,336.3 580.4,334.7 581.0,333.4 581.7,332.3 582.3,331.5 582.9,331.0 583.6,330.8 584.2,330.8 584.8,331.1 585.5,331.6 586.1,332.3 586.7,333.3 587.3,334.5 588.0,335.9 588.6,337.4 589.2,339.1 589.9,340.9 590.5,342.9 591.1,344.9 591.8,347.0 592.4,349.2 593.0,351.4 593.7,353.6 594.3,355.7 594.9,357.9 595.5,360.0 596.2,362.0 596.8,363.9 597.4,365.6 598.1,367.3 598.7,368.8 599.3,370.2 600.0,371.4 600.6,372.5 601.2,373.3 601.8,374.0 602.5,374.5 603.1,374.8 603.7,374.9 604.4,374.8 605.0,374.6 605.6,374.1 606.3,373.5 606.9,372.8 607.5,371.9 608.1,370.8 608.8,369.7 609.4,368.4 610.0,367.0 610.7,365.6 611.3,364.0 611.9,362.5 612.6,360.9 613.2,359.2 613.8,357.6 614.5,356.0 615.1,354.4 615.7,352.9 616.3,351.4 617.0,350.0 617.6,348.7 618.2,347.5 618.9,346.4 619.5,345.4 620.1,344.6 620.8,343.8 621.4,343.2 622.0,342.8 622.6,342.5 623.3,342.3 623.9,342.3 624.5,342.4 625.2,342.7 625.8,343.1 626.4,343.6 627.1,344.3 627.7,345.1 628.3,345.9 628.9,346.9 629.6,347.9 630.2,349.1 630.8,350.2 631.5,351.5 632.1,352.7 632.7,354.0 633.4,355.3 634.0,356.6 634.6,357.9 635.2,359.1 635.9,360.3 636.5,361.5 637.1,362.6 637.8,363.6 638.4,364.5 639.0,365.3 639.7,366.1 640.3,366.7 640.9,367.2 641.6,367.7 642.2,368.0 642.8,368.1 643.4,368.2 644.1,368.1 644.7,368.0 645.3,367.7 646.0,367.3 646.6,366.8 647.2,366.2 647.9,365.5 648.5,364.8 649.1,363.9 649.7,363.0 650.4,362.1 651.0,361.1 651.6,360.0 652.3,359.0 652.9,357.9 653.5,356.8 654.2,355.8 654.8,354.7 655.4,353.7 656.0,352.7 656.7,351.8 657.3,350.9 657.9,350.1 658.6,349.4 659.2,348.7 659.8,348.1 660.5,347.7 661.1,347.3 661.7,347.0 662.4,346.8 663.0,346.7 663.6,346.7 664.2,346.8 664.9,347.0 665.5,347.3 666.1,347.7 666.8,348.2 667.4,348.7 668.0,349.4 668.7,350.1 669.3,350.8 669.9,351.6 670.5,352.4 671.2,353.3 671.8,354.2 672.4,355.1 673.1,356.1 673.7,357.0 674.3,357.9 675.0,358.8 675.6,359.6 676.2,360.4 676.8,361.2 677.5,361.9 678.1,362.6 678.7,363.2 679.4,363.7 680.0,364.1 680.6,364.5 681.3,364.8 681.9,365.0 682.5,365.1 683.2,365.1 683.8,365.0 684.4,364.9 685.0,364.6 685.7,364.3 686.3,363.9 686.9,363.5 687.6,363.0 688.2,362.4 688.8,361.8 689.5,361.1 690.1,360.4 690.7,359.6 691.3,358.8 692.0,358.0 692.6,357.2 693.2,356.4 693.9,355.6 694.5,354.8 695.1,354.1 695.8,353.4 696.4,352.7 697.0,352.0 697.6,351.4 698.3,350.9 698.9,350.4 699.5,350.0 700.2,349.7 700.8,349.4 701.4,349.2 702.1,349.1 702.7,349.0 703.3,349.1 703.9,349.2 704.6,349.3 705.2,349.6 705.8,349.9 706.5,350.3 707.1,350.7 707.7,351.2 708.4,351.8 709.0,352.4 709.6,353.0 710.3,353.6 710.9,354.3 711.5,355.0 712.1,355.7 712.8,356.5 713.4,357.2 714.0,357.9 714.7,358.6 715.3,359.2 715.9,359.8 716.6,360.4 717.2,361.0 717.8,361.5 718.4,361.9 719.1,362.3 719.7,362.6 720.3,362.9 721.0,363.1 721.6,363.2 722.2,363.3 722.9,363.3 723.5,363.2 724.1,363.1 724.7,362.9 725.4,362.6 726.0,362.3 726.6,361.9 727.3,361.5 727.9,361.0 728.5,360.5 729.2,359.9 729.8,359.3 730.4,358.7 731.1,358.1 731.7,357.5 732.3,356.8 732.9,356.2 733.6,355.5 734.2,354.9 734.8,354.3 735.5,353.8 736.1,353.2 736.7,352.7 737.4,352.2 738.0,351.8 738.6,351.5 739.2,351.1 739.9,350.9 740.5,350.7 741.1,350.6 741.8,350.5 742.4,350.5 743.0,350.5 743.7,350.6 744.3,350.8 744.9,351.0 745.5,351.3 746.2,351.6 746.8,352.0 747.4,352.4 748.1,352.9 748.7,353.3 749.3,353.9 750.0,354.4 750.6,355.0 751.2,355.6 751.9,356.1 752.5,356.7 753.1,357.3 753.7,357.9 754.4,358.4 755.0,358.9 755.6,359.5 756.3,359.9 756.9,360.4 757.5,360.7 758.2,361.1 758.8,361.4 759.4,361.6 760.0,361.8 760.7,362.0 761.3,362.1 761.9,362.1 762.6,362.1 763.2,362.0 763.8,361.9 764.5,361.7 765.1,361.5 765.7,361.2 766.3,360.8 767.0,360.5 767.6,360.1 768.2,359.6 768.9,359.1 769.5,358.7 770.1,358.1 770.8,357.6 771.4,357.1 772.0,356.6"/>
<polyline stroke="#37AD6B" points="377.6,356.6 378.2,357.2 378.8,357.9 379.5,358.5 380.1,359.1 380.7,359.8 381.3,360.3 382.0,360.9 382.6,361.4 383.2,361.9 383.9,362.3 384.5,362.6 385.1,362.9 385.8,363.2 386.4,363.4 387.0,363.5 387.6,363.5 388.3,363.5 388.9,363.4 389.5,363.2 390.2,363.0 390.8,362.7 391.4,362.3 392.1,361.9 392.7,361.4 393.3,360.8 393.9,360.3 394.6,359.6 395.2,358.9 395.8,358.2 396.5,357.5 397.1,356.8 397.7,356.0 398.4,355.3 399.0,354.5 399.6,353.8 400.2,353.1 400.9,352.4 401.5,351.8 402.1,351.2 402.8,350.6 403.4,350.1 404.0,349.7 404.7,349.3 405.3,349.0 405.9,348.7 406.5,348.6 407.2,348.5 407.8,348.5 408.4,348.6 409.1,348.8 409.7,349.0 410.3,349.3 411.0,349.7 411.6,350.2 412.2,350.8 412.8,351.4 413.5,352.0 414.1,352.7 414.7,353.5 415.4,354.3 416.0,355.1 416.6,356.0 417.3,356.9 417.9,357.8 418.5,358.6 419.1,359.5 419.8,360.3 420.4,361.2 421.0,361.9 421.7,362.7 422.3,363.3 422.9,364.0 423.5,364.5 424.2,365.0 424.8,365.4 425.4,365.7 426.1,365.9 426.7,366.0 427.3,366.1 428.0,366.0 428.6,365.8 429.2,365.6 429.8,365.2 430.5,364.8 431.1,364.3 431.7,363.7 432.4,363.0 433.0,362.2 433.6,361.4 434.3,360.5 434.9,359.5 435.5,358.5 436.1,357.5 436.8,356.5 437.4,355.4 438.0,354.4 438.7,353.3 439.3,352.3 439.9,351.3 440.6,350.3 441.2,349.4 441.8,348.6 442.4,347.8 443.1,347.1 443.7,346.5 444.3,346.0 445.0,345.5 445.6,345.2 446.2,345.0 446.9,344.9 447.5,344.9 448.1,345.1 448.7,345.3 449.4,345.7 450.0,346.2 450.6,346.8 451.3,347.5 451.9,348.3 452.5,349.3 453.2,350.3 453.8,351.3 454.4,352.5 455.0,353.7 455.7,354.9 456.3,356.2 456.9,357.5 457.6,358.9 458.2,360.2 458.8,361.5 459.5,362.8 460.1,364.0 460.7,365.2 461.3,366.3 462.0,367.3 462.6,368.3 463.2,369.1 463.9,369.9 464.5,370.5 465.1,370.9 465.8,371.3 466.4,371.5 467.0,371.5 467.6,371.4 468.3,371.2 468.9,370.8 469.5,370.2 470.2,369.5 470.8,368.6 471.4,367.6 472.0,366.5 472.7,365.3 473.3,363.9 473.9,362.4 474.6,360.9 475.2,359.2 475.8,357.5 476.5,355.8 477.1,354.0 477.7,352.2 478.3,350.4 479.0,348.7 479.6,347.0 480.2,345.3 480.9,343.7 481.5,342.2 482.1,340.8 482.8,339.6 483.4,338.5 484.0,337.5 484.6,336.7 485.3,336.1 485.9,335.7 486.5,335.5 487.2,335.5 487.8,335.7 488.4,336.2 489.1,336.8 489.7,337.7 490.3,338.8 490.9,340.1 491.6,341.6 492.2,343.3 492.8,345.2 493.5,347.2 494.1,349.4 494.7,351.8 495.4,354.3 496.0,356.9 496.6,359.5 497.2,362.3 497.9,365.0 498.5,367.8 499.1,370.5 499.8,373.2 500.4,375.9 501.0,378.4 501.7,380.8 502.3,383.0 502.9,385.1 503.5,386.9 504.2,388.5 504.8,389.9 505.4,390.9 506.1,391.7 506.7,392.1 507.3,392.2 508.0,391.9 508.6,391.2 509.2,390.2 509.8,388.7 510.5,386.9 511.1,384.6 511.7,381.9 512.4,378.8 513.0,375.3 513.6,371.4 514.2,367.2 514.9,362.5 515.5,357.5 516.1,352.2 516.8,346.5 517.4,340.6 518.0,334.4 518.7,327.9 519.3,321.2 519.9,314.4 520.5,307.4 521.2,300.3 521.8,293.2 522.4,286.0 523.1,278.9 523.7,271.7 524.3,264.7 525.0,257.8 525.6,251.1 526.2,244.5 526.8,238.3 527.5,232.3 528.1,226.6 528.7,221.2 529.4,216.2 530.0,211.7 530.6,207.6 531.3,203.9 531.9,200.7 532.5,198.0 533.1,195.9 533.8,194.2 534.4,193.1 535.0,192.6 535.7,192.6 536.3,193.1 536.9,194.2 537.6,195.9 538.2,198.0 538.8,200.7 539.4,203.9 540.1,207.6 540.7,211.7 541.3,216.2 542.0,221.2 542.6,226.6 543.2,232.3 543.9,238.3 544.5,244.5 545.1,251.1 545.7,257.8 546.4,264.7 547.0,271.7 547.6,278.9 548.3,286.0 548.9,293.2 549.5,300.3 550.2,307.4 550.8,314.4 551.4,321.2 552.0,327.9 552.7,334.4 553.3,340.6 553.9,346.5 554.6,352.2 555.2,357.5 555.8,362.5 556.5,367.2 557.1,371.4 557.7,375.3 558.3,378.8 559.0,381.9 559.6,384.6 560.2,386.9 560.9,388.7 561.5,390.2 562.1,391.2 562.7,391.9 563.4,392.2 564.0,392.1 564.6,391.7 565.3,390.9 565.9,389.9 566.5,388.5 567.2,386.9 567.8,385.1 568.4,383.0 569.0,380.8 569.7,378.4 570.3,375.9 570.9,373.2 571.6,370.5 572.2,367.8 572.8,365.0 573.5,362.3 574.1,359.5 574.7,356.9 575.3,354.3 576.0,351.8 576.6,349.4 577.2,347.2 577.9,345.2 578.5,343.3 579.1,341.6 579.8,340.1 580.4,338.8 581.0,337.7 581.6,336.8 582.3,336.2 582.9,335.7 583.5,335.5 584.2,335.5 584.8,335.7 585.4,336.1 586.1,336.7 586.7,337.5 587.3,338.5 587.9,339.6 588.6,340.8 589.2,342.2 589.8,343.7 590.5,345.3 591.1,347.0 591.7,348.7 592.4,350.4 593.0,352.2 593.6,354.0 594.2,355.8 594.9,357.5 595.5,359.2 596.1,360.9 596.8,362.4 597.4,363.9 598.0,365.3 598.7,366.5 599.3,367.6 599.9,368.6 600.5,369.5 601.2,370.2 601.8,370.8 602.4,371.2 603.1,371.4 603.7,371.5 604.3,371.5 604.9,371.3 605.6,370.9 606.2,370.5 606.8,369.9 607.5,369.1 608.1,368.3 608.7,367.3 609.4,366.3 610.0,365.2 610.6,364.0 611.2,362.8 611.9,361.5 612.5,360.2 613.1,358.9 613.8,357.5 614.4,356.2 615.0,354.9 615.7,353.7 616.3,352.5 616.9,351.3 617.5,350.3 618.2,349.3 618.8,348.3 619.4,347.5 620.1,346.8 620.7,346.2 621.3,345.7 622.0,345.3 622.6,345.1 623.2,344.9 623.8,344.9 624.5,345.0 625.1,345.2 625.7,345.5 626.4,346.0 627.0,346.5 627.6,347.1 628.3,347.8 628.9,348.6 629.5,349.4 630.1,350.3 630.8,351.3 631.4,352.3 632.0,353.3 632.7,354.4 633.3,355.4 633.9,356.5 634.6,357.5 635.2,358.5 635.8,359.5 636.4,360.5 637.1,361.4 637.7,362.2 638.3,363.0 639.0,363.7 639.6,364.3 640.2,364.8 640.9,365.2 641.5,365.6 642.1,365.8 642.7,366.0 643.4,366.1 644.0,366.0 644.6,365.9 645.3,365.7 645.9,365.4 646.5,365.0 647.2,364.5 647.8,364.0 648.4,363.3 649.0,362.7 649.7,361.9 650.3,361.2 650.9,360.3 651.6,359.5 652.2,358.6 652.8,357.8 653.4,356.9 654.1,356.0 654.7,355.1 655.3,354.3 656.0,353.5 656.6,352.7 657.2,352.0 657.9,351.4 658.5,350.8 659.1,350.2 659.7,349.7 660.4,349.3 661.0,349.0 661.6,348.8 662.3,348.6 662.9,348.5 663.5,348.5 664.2,348.6 664.8,348.7 665.4,349.0 666.0,349.3 666.7,349.7 667.3,350.1 667.9,350.6 668.6,351.2 669.2,351.8 669.8,352.4 670.5,353.1 671.1,353.8 671.7,354.5 672.3,355.3 673.0,356.0 673.6,356.8 674.2,357.5 674.9,358.2 675.5,358.9 676.1,359.6 676.8,360.3 677.4,360.8 678.0,361.4 678.6,361.9 679.3,362.3 679.9,362.7 680.5,363.0 681.2,363.2 681.8,363.4 682.4,363.5 683.1,363.5 683.7,363.5 684.3,363.4 684.9,363.2 685.6,362.9 686.2,362.6 686.8,362.3 687.5,361.9 688.1,361.4 688.7,360.9 689.4,360.3 690.0,359.8 690.6,359.1 691.2,358.5 691.9,357.9 692.5,357.2 693.1,356.6"/>
<polyline stroke="#B177DE" points="456.5,356.6 457.1,357.5 457.7,358.4 458.3,359.3 459.0,360.3 459.6,361.2 460.2,362.0 460.9,362.9 461.5,363.6 462.1,364.3 462.7,365.0 463.4,365.6 464.0,366.1 464.6,366.5 465.3,366.8 465.9,367.0 466.5,367.1 467.1,367.1 467.8,367.0 468.4,366.8 469.0,366.5 469.7,366.1 470.3,365.6 470.9,365.0 471.5,364.2 472.2,363.4 472.8,362.5 473.4,361.5 474.1,360.5 474.7,359.4 475.3,358.2 475.9,357.0 476.6,355.8 477.2,354.5 477.8,353.3 478.5,352.0 479.1,350.8 479.7,349.6 480.3,348.4 481.0,347.3 481.6,346.2 482.2,345.3 482.9,344.4 483.5,343.7 484.1,343.0 484.7,342.5 485.4,342.1 486.0,341.8 486.6,341.7 487.3,341.7 487.9,341.9 488.5,342.2 489.1,342.7 489.8,343.3 490.4,344.1 491.0,345.0 491.7,346.1 492.3,347.3 492.9,348.7 493.5,350.2 494.2,351.7 494.8,353.4 495.4,355.2 496.1,357.0 496.7,358.9 497.3,360.8 497.9,362.8 498.6,364.7 499.2,366.7 499.8,368.6 500.5,370.4 501.1,372.2 501.7,373.9 502.3,375.4 503.0,376.9 503.6,378.1 504.2,379.3 504.9,380.2 505.5,380.9 506.1,381.4 506.7,381.7 507.4,381.7 508.0,381.5 508.6,381.0 509.3,380.2 509.9,379.2 510.5,377.9 511.1,376.2 511.8,374.3 512.4,372.1 513.0,369.6 513.7,366.9 514.3,363.9 514.9,360.6 515.5,357.0 516.2,353.2 516.8,349.2 517.4,345.0 518.1,340.6 518.7,336.0 519.3,331.3 519.9,326.5 520.6,321.6 521.2,316.6 521.8,311.5 522.5,306.5 523.1,301.4 523.7,296.4 524.3,291.4 525.0,286.6 525.6,281.8 526.2,277.2 526.9,272.8 527.5,268.6 528.1,264.5 528.7,260.8 529.4,257.3 530.0,254.1 530.6,251.2 531.3,248.6 531.9,246.3 532.5,244.4 533.1,242.9 533.8,241.8 534.4,241.0 535.0,240.6 535.7,240.6 536.3,241.0 536.9,241.8 537.6,242.9 538.2,244.4 538.8,246.3 539.4,248.6 540.1,251.2 540.7,254.1 541.3,257.3 542.0,260.8 542.6,264.5 543.2,268.6 543.8,272.8 544.5,277.2 545.1,281.8 545.7,286.6 546.4,291.4 547.0,296.4 547.6,301.4 548.2,306.5 548.9,311.5 549.5,316.6 550.1,321.6 550.8,326.5 551.4,331.3 552.0,336.0 552.6,340.6 553.3,345.0 553.9,349.2 554.5,353.2 555.2,357.0 555.8,360.6 556.4,363.9 557.0,366.9 557.7,369.6 558.3,372.1 558.9,374.3 559.6,376.2 560.2,377.9 560.8,379.2 561.4,380.2 562.1,381.0 562.7,381.5 563.3,381.7 564.0,381.7 564.6,381.4 565.2,380.9 565.8,380.2 566.5,379.3 567.1,378.1 567.7,376.9 568.4,375.4 569.0,373.9 569.6,372.2 570.2,370.4 570.9,368.6 571.5,366.7 572.1,364.7 572.8,362.8 573.4,360.8 574.0,358.9 574.6,357.0 575.3,355.2 575.9,353.4 576.5,351.7 577.2,350.2 577.8,348.7 578.4,347.3 579.0,346.1 579.7,345.0 580.3,344.1 580.9,343.3 581.6,342.7 582.2,342.2 582.8,341.9 583.4,341.7 584.1,341.7 584.7,341.8 585.3,342.1 586.0,342.5 586.6,343.0 587.2,343.7 587.8,344.4 588.5,345.3 589.1,346.2 589.7,347.3 590.4,348.4 591.0,349.6 591.6,350.8 592.2,352.0 592.9,353.3 593.5,354.5 594.1,355.8 594.8,357.0 595.4,358.2 596.0,359.4 596.6,360.5 597.3,361.5 597.9,362.5 598.5,363.4 599.2,364.2 599.8,365.0 600.4,365.6 601.0,366.1 601.7,366.5 602.3,366.8 602.9,367.0 603.6,367.1 604.2,367.1 604.8,367.0 605.4,366.8 606.1,366.5 606.7,366.1 607.3,365.6 608.0,365.0 608.6,364.3 609.2,363.6 609.8,362.9 610.5,362.0 611.1,361.2 611.7,360.3 612.4,359.3 613.0,358.4 613.6,357.5 614.2,356.6"/>
</g>
<rect x="140.90" y="45.30" width="788.90" height="415.00" fill="none" stroke="#000" stroke-width="1.6"/>
<path d="M140.90,460.30v7.0 M140.90,45.30v6.5 M180.34,460.30v3.7 M180.34,45.30v3.5 M219.79,460.30v7.0 M219.79,45.30v6.5 M259.24,460.30v3.7 M259.24,45.30v3.5 M298.68,460.30v7.0 M298.68,45.30v6.5 M338.12,460.30v3.7 M338.12,45.30v3.5 M377.57,460.30v7.0 M377.57,45.30v6.5 M417.01,460.30v3.7 M417.01,45.30v3.5 M456.46,460.30v7.0 M456.46,45.30v6.5 M495.90,460.30v3.7 M495.90,45.30v3.5 M535.35,460.30v7.0 M535.35,45.30v6.5 M574.80,460.30v3.7 M574.80,45.30v3.5 M614.24,460.30v7.0 M614.24,45.30v6.5 M653.68,460.30v3.7 M653.68,45.30v3.5 M693.13,460.30v7.0 M693.13,45.30v6.5 M732.57,460.30v3.7 M732.57,45.30v3.5 M772.02,460.30v7.0 M772.02,45.30v6.5 M811.46,460.30v3.7 M811.46,45.30v3.5 M850.91,460.30v7.0 M850.91,45.30v6.5 M890.35,460.30v3.7 M890.35,45.30v3.5 M929.80,460.30v7.0 M929.80,45.30v6.5 M140.90,421.39h-3.5 M929.80,421.39h-3.5 M140.90,356.55h-7.0 M929.80,356.55h-7.0 M140.90,291.71h-3.5 M929.80,291.71h-3.5 M140.90,226.86h-7.0 M929.80,226.86h-7.0 M140.90,162.02h-3.5 M929.80,162.02h-3.5 M140.90,97.18h-7.0 M929.80,97.18h-7.0" stroke="#000" stroke-width="1.6" fill="none"/>
<text transform="translate(140.90,499.50) scale(1,1.04)" text-anchor="middle" font-size="33.8" fill="#000" font-weight="normal" >-5</text>
<text transform="translate(219.79,499.50) scale(1,1.04)" text-anchor="middle" font-size="33.8" fill="#000" font-weight="normal" >-4</text>
<text transform="translate(298.68,499.50) scale(1,1.04)" text-anchor="middle" font-size="33.8" fill="#000" font-weight="normal" >-3</text>
<text transform="translate(377.57,499.50) scale(1,1.04)" text-anchor="middle" font-size="33.8" fill="#000" font-weight="normal" >-2</text>
<text transform="translate(456.46,499.50) scale(1,1.04)" text-anchor="middle" font-size="33.8" fill="#000" font-weight="normal" >-1</text>
<text transform="translate(535.35,499.50) scale(1,1.04)" text-anchor="middle" font-size="33.8" fill="#000" font-weight="normal" >0</text>
<text transform="translate(614.24,499.50) scale(1,1.04)" text-anchor="middle" font-size="33.8" fill="#000" font-weight="normal" >1</text>
<text transform="translate(693.13,499.50) scale(1,1.04)" text-anchor="middle" font-size="33.8" fill="#000" font-weight="normal" >2</text>
<text transform="translate(772.02,499.50) scale(1,1.04)" text-anchor="middle" font-size="33.8" fill="#000" font-weight="normal" >3</text>
<text transform="translate(850.91,499.50) scale(1,1.04)" text-anchor="middle" font-size="33.8" fill="#000" font-weight="normal" >4</text>
<text transform="translate(929.80,499.50) scale(1,1.04)" text-anchor="middle" font-size="33.8" fill="#000" font-weight="normal" >5</text>
<text transform="translate(127.80,107.78) scale(1,1.04)" text-anchor="end" font-size="33.8" fill="#000" font-weight="normal" >1.0</text>
<text transform="translate(127.80,237.46) scale(1,1.04)" text-anchor="end" font-size="33.8" fill="#000" font-weight="normal" >0.5</text>
<text transform="translate(127.80,367.15) scale(1,1.04)" text-anchor="end" font-size="33.8" fill="#000" font-weight="normal" >0.0</text>
<text transform="translate(539.20,545.70) scale(1,1.02)" text-anchor="middle" font-size="36.7" fill="#000" font-weight="normal" >Time (µs)</text>
<text transform="translate(66.70,259.70) rotate(-90) scale(1,1.0)" text-anchor="middle" font-size="37.0" fill="#000" font-weight="normal" >Normalized Amplitude</text>
<line x1="762.4" y1="81.6" x2="838.4" y2="81.6" stroke="#515151" stroke-width="3.4"/>
<text x="847.60" y="93.20" text-anchor="start" font-size="33.8" fill="#000" font-weight="normal" >10µs</text>
<line x1="758" y1="123.5" x2="834" y2="123.5" stroke="#F14040" stroke-width="3.4"/>
<text x="843.00" y="134.20" text-anchor="start" font-size="33.8" fill="#000" font-weight="normal" >8µs</text>
<line x1="758" y1="165.4" x2="834" y2="165.4" stroke="#1A6FDF" stroke-width="3.4"/>
<text x="843.00" y="176.20" text-anchor="start" font-size="33.8" fill="#000" font-weight="normal" >6µs</text>
<line x1="758" y1="207.5" x2="834" y2="207.5" stroke="#37AD6B" stroke-width="3.4"/>
<text x="843.00" y="218.00" text-anchor="start" font-size="33.8" fill="#000" font-weight="normal" >4µs</text>
<line x1="758" y1="249.3" x2="834" y2="249.3" stroke="#B177DE" stroke-width="3.4"/>
<text x="843.00" y="260.00" text-anchor="start" font-size="33.8" fill="#000" font-weight="normal" >2µs</text>
<text transform="translate(0.20,35.40) scale(1.045,1.0)" text-anchor="start" font-size="48" fill="#000" font-weight="bold" >(a)</text>
<g fill="none" stroke-width="3.4" stroke-linejoin="round" stroke-linecap="butt">
<polyline stroke="#515151" points="1167.7,357.1 1168.0,357.3 1168.3,357.5 1168.6,357.7 1169.0,357.9 1169.3,358.1 1169.6,358.2 1169.9,358.4 1170.2,358.5 1170.5,358.6 1170.9,358.7 1171.2,358.7 1171.5,358.8 1171.8,358.8 1172.1,358.7 1172.4,358.7 1172.7,358.6 1173.1,358.5 1173.4,358.4 1173.7,358.2 1174.0,358.1 1174.3,357.9 1174.6,357.7 1174.9,357.5 1175.3,357.3 1175.6,357.1 1175.9,356.9 1176.2,356.7 1176.5,356.5 1176.8,356.3 1177.2,356.1 1177.5,355.9 1177.8,355.8 1178.1,355.7 1178.4,355.6 1178.7,355.5 1179.0,355.4 1179.4,355.4 1179.7,355.4 1180.0,355.4 1180.3,355.5 1180.6,355.6 1180.9,355.7 1181.3,355.8 1181.6,355.9 1181.9,356.1 1182.2,356.3 1182.5,356.5 1182.8,356.7 1183.1,356.9 1183.5,357.1 1183.8,357.3 1184.1,357.5 1184.4,357.7 1184.7,357.9 1185.0,358.1 1185.3,358.3 1185.7,358.4 1186.0,358.6 1186.3,358.7 1186.6,358.7 1186.9,358.8 1187.2,358.8 1187.6,358.8 1187.9,358.8 1188.2,358.8 1188.5,358.7 1188.8,358.6 1189.1,358.4 1189.4,358.3 1189.8,358.1 1190.1,357.9 1190.4,357.8 1190.7,357.5 1191.0,357.3 1191.3,357.1 1191.7,356.9 1192.0,356.7 1192.3,356.5 1192.6,356.3 1192.9,356.1 1193.2,355.9 1193.5,355.7 1193.9,355.6 1194.2,355.5 1194.5,355.4 1194.8,355.4 1195.1,355.3 1195.4,355.3 1195.7,355.4 1196.1,355.4 1196.4,355.5 1196.7,355.6 1197.0,355.7 1197.3,355.9 1197.6,356.0 1198.0,356.2 1198.3,356.4 1198.6,356.6 1198.9,356.9 1199.2,357.1 1199.5,357.3 1199.8,357.5 1200.2,357.8 1200.5,358.0 1200.8,358.2 1201.1,358.3 1201.4,358.5 1201.7,358.6 1202.1,358.7 1202.4,358.8 1202.7,358.9 1203.0,358.9 1203.3,358.9 1203.6,358.9 1203.9,358.8 1204.3,358.8 1204.6,358.6 1204.9,358.5 1205.2,358.4 1205.5,358.2 1205.8,358.0 1206.1,357.8 1206.5,357.6 1206.8,357.3 1207.1,357.1 1207.4,356.9 1207.7,356.7 1208.0,356.4 1208.4,356.2 1208.7,356.0 1209.0,355.8 1209.3,355.7 1209.6,355.5 1209.9,355.4 1210.2,355.3 1210.6,355.3 1210.9,355.2 1211.2,355.2 1211.5,355.3 1211.8,355.3 1212.1,355.4 1212.5,355.5 1212.8,355.7 1213.1,355.8 1213.4,356.0 1213.7,356.2 1214.0,356.4 1214.3,356.6 1214.7,356.9 1215.0,357.1 1215.3,357.3 1215.6,357.6 1215.9,357.8 1216.2,358.0 1216.5,358.2 1216.9,358.4 1217.2,358.5 1217.5,358.7 1217.8,358.8 1218.1,358.9 1218.4,359.0 1218.8,359.0 1219.1,359.0 1219.4,359.0 1219.7,358.9 1220.0,358.8 1220.3,358.7 1220.6,358.6 1221.0,358.4 1221.3,358.2 1221.6,358.0 1221.9,357.8 1222.2,357.6 1222.5,357.4 1222.9,357.1 1223.2,356.9 1223.5,356.6 1223.8,356.4 1224.1,356.2 1224.4,356.0 1224.7,355.8 1225.1,355.6 1225.4,355.5 1225.7,355.4 1226.0,355.3 1226.3,355.2 1226.6,355.2 1226.9,355.2 1227.3,355.2 1227.6,355.2 1227.9,355.3 1228.2,355.4 1228.5,355.6 1228.8,355.7 1229.2,355.9 1229.5,356.1 1229.8,356.4 1230.1,356.6 1230.4,356.8 1230.7,357.1 1231.0,357.3 1231.4,357.6 1231.7,357.8 1232.0,358.0 1232.3,358.2 1232.6,358.4 1232.9,358.6 1233.3,358.8 1233.6,358.9 1233.9,359.0 1234.2,359.0 1234.5,359.1 1234.8,359.1 1235.1,359.1 1235.5,359.0 1235.8,358.9 1236.1,358.8 1236.4,358.7 1236.7,358.5 1237.0,358.3 1237.3,358.1 1237.7,357.9 1238.0,357.6 1238.3,357.4 1238.6,357.1 1238.9,356.9 1239.2,356.6 1239.6,356.4 1239.9,356.1 1240.2,355.9 1240.5,355.7 1240.8,355.6 1241.1,355.4 1241.4,355.3 1241.8,355.2 1242.1,355.1 1242.4,355.1 1242.7,355.1 1243.0,355.1 1243.3,355.1 1243.7,355.2 1244.0,355.4 1244.3,355.5 1244.6,355.7 1244.9,355.9 1245.2,356.1 1245.5,356.3 1245.9,356.6 1246.2,356.8 1246.5,357.1 1246.8,357.3 1247.1,357.6 1247.4,357.8 1247.7,358.1 1248.1,358.3 1248.4,358.5 1248.7,358.7 1249.0,358.8 1249.3,359.0 1249.6,359.1 1250.0,359.1 1250.3,359.2 1250.6,359.2 1250.9,359.2 1251.2,359.1 1251.5,359.0 1251.8,358.9 1252.2,358.7 1252.5,358.6 1252.8,358.4 1253.1,358.1 1253.4,357.9 1253.7,357.7 1254.1,357.4 1254.4,357.1 1254.7,356.9 1255.0,356.6 1255.3,356.3 1255.6,356.1 1255.9,355.9 1256.3,355.7 1256.6,355.5 1256.9,355.3 1257.2,355.2 1257.5,355.1 1257.8,355.0 1258.1,355.0 1258.5,355.0 1258.8,355.0 1259.1,355.0 1259.4,355.1 1259.7,355.3 1260.0,355.4 1260.4,355.6 1260.7,355.8 1261.0,356.0 1261.3,356.3 1261.6,356.5 1261.9,356.8 1262.2,357.1 1262.6,357.3 1262.9,357.6 1263.2,357.9 1263.5,358.1 1263.8,358.4 1264.1,358.6 1264.5,358.8 1264.8,358.9 1265.1,359.1 1265.4,359.2 1265.7,359.3 1266.0,359.3 1266.3,359.3 1266.7,359.3 1267.0,359.2 1267.3,359.1 1267.6,359.0 1267.9,358.8 1268.2,358.6 1268.5,358.4 1268.9,358.2 1269.2,358.0 1269.5,357.7 1269.8,357.4 1270.1,357.1 1270.4,356.9 1270.8,356.6 1271.1,356.3 1271.4,356.1 1271.7,355.8 1272.0,355.6 1272.3,355.4 1272.6,355.2 1273.0,355.1 1273.3,355.0 1273.6,354.9 1273.9,354.8 1274.2,354.8 1274.5,354.9 1274.9,354.9 1275.2,355.0 1275.5,355.2 1275.8,355.3 1276.1,355.5 1276.4,355.7 1276.7,356.0 1277.1,356.2 1277.4,356.5 1277.7,356.8 1278.0,357.1 1278.3,357.3 1278.6,357.6 1278.9,357.9 1279.3,358.2 1279.6,358.4 1279.9,358.7 1280.2,358.9 1280.5,359.0 1280.8,359.2 1281.2,359.3 1281.5,359.4 1281.8,359.4 1282.1,359.4 1282.4,359.4 1282.7,359.3 1283.0,359.2 1283.4,359.1 1283.7,358.9 1284.0,358.7 1284.3,358.5 1284.6,358.3 1284.9,358.0 1285.3,357.7 1285.6,357.4 1285.9,357.1 1286.2,356.8 1286.5,356.6 1286.8,356.3 1287.1,356.0 1287.5,355.7 1287.8,355.5 1288.1,355.3 1288.4,355.1 1288.7,355.0 1289.0,354.8 1289.3,354.8 1289.7,354.7 1290.0,354.7 1290.3,354.7 1290.6,354.8 1290.9,354.9 1291.2,355.0 1291.6,355.2 1291.9,355.4 1292.2,355.6 1292.5,355.9 1292.8,356.2 1293.1,356.5 1293.4,356.7 1293.8,357.1 1294.1,357.4 1294.4,357.7 1294.7,358.0 1295.0,358.2 1295.3,358.5 1295.7,358.7 1296.0,359.0 1296.3,359.1 1296.6,359.3 1296.9,359.4 1297.2,359.5 1297.5,359.6 1297.9,359.6 1298.2,359.5 1298.5,359.5 1298.8,359.4 1299.1,359.2 1299.4,359.0 1299.7,358.8 1300.1,358.6 1300.4,358.3 1300.7,358.1 1301.0,357.8 1301.3,357.5 1301.6,357.2 1302.0,356.8 1302.3,356.5 1302.6,356.2 1302.9,355.9 1303.2,355.7 1303.5,355.4 1303.8,355.2 1304.2,355.0 1304.5,354.8 1304.8,354.7 1305.1,354.6 1305.4,354.6 1305.7,354.6 1306.1,354.6 1306.4,354.7 1306.7,354.8 1307.0,354.9 1307.3,355.1 1307.6,355.3 1307.9,355.5 1308.3,355.8 1308.6,356.1 1308.9,356.4 1309.2,356.7 1309.5,357.0 1309.8,357.4 1310.1,357.7 1310.5,358.0 1310.8,358.3 1311.1,358.6 1311.4,358.8 1311.7,359.1 1312.0,359.3 1312.4,359.4 1312.7,359.6 1313.0,359.7 1313.3,359.7 1313.6,359.7 1313.9,359.7 1314.2,359.6 1314.6,359.5 1314.9,359.4 1315.2,359.2 1315.5,359.0 1315.8,358.7 1316.1,358.4 1316.5,358.1 1316.8,357.8 1317.1,357.5 1317.4,357.2 1317.7,356.8 1318.0,356.5 1318.3,356.2 1318.7,355.9 1319.0,355.6 1319.3,355.3 1319.6,355.1 1319.9,354.9 1320.2,354.7 1320.5,354.6 1320.9,354.5 1321.2,354.4 1321.5,354.4 1321.8,354.4 1322.1,354.5 1322.4,354.6 1322.8,354.8 1323.1,355.0 1323.4,355.2 1323.7,355.4 1324.0,355.7 1324.3,356.0 1324.6,356.4 1325.0,356.7 1325.3,357.0 1325.6,357.4 1325.9,357.7 1326.2,358.1 1326.5,358.4 1326.9,358.7 1327.2,358.9 1327.5,359.2 1327.8,359.4 1328.1,359.6 1328.4,359.7 1328.7,359.8 1329.1,359.9 1329.4,359.9 1329.7,359.9 1330.0,359.8 1330.3,359.7 1330.6,359.5 1330.9,359.3 1331.3,359.1 1331.6,358.8 1331.9,358.5 1332.2,358.2 1332.5,357.9 1332.8,357.5 1333.2,357.2 1333.5,356.8 1333.8,356.5 1334.1,356.1 1334.4,355.8 1334.7,355.5 1335.0,355.2 1335.4,354.9 1335.7,354.7 1336.0,354.5 1336.3,354.4 1336.6,354.3 1336.9,354.2 1337.3,354.2 1337.6,354.2 1337.9,354.3 1338.2,354.4 1338.5,354.6 1338.8,354.8 1339.1,355.0 1339.5,355.3 1339.8,355.6 1340.1,355.9 1340.4,356.3 1340.7,356.7 1341.0,357.0 1341.3,357.4 1341.7,357.8 1342.0,358.1 1342.3,358.5 1342.6,358.8 1342.9,359.1 1343.2,359.3 1343.6,359.6 1343.9,359.8 1344.2,359.9 1344.5,360.0 1344.8,360.1 1345.1,360.1 1345.4,360.1 1345.8,360.0 1346.1,359.9 1346.4,359.7 1346.7,359.5 1347.0,359.2 1347.3,359.0 1347.7,358.6 1348.0,358.3 1348.3,357.9 1348.6,357.6 1348.9,357.2 1349.2,356.8 1349.5,356.4 1349.9,356.1 1350.2,355.7 1350.5,355.4 1350.8,355.1 1351.1,354.8 1351.4,354.5 1351.7,354.3 1352.1,354.2 1352.4,354.1 1352.7,354.0 1353.0,354.0 1353.3,354.0 1353.6,354.1 1354.0,354.2 1354.3,354.4 1354.6,354.6 1354.9,354.9 1355.2,355.2 1355.5,355.5 1355.8,355.8 1356.2,356.2 1356.5,356.6 1356.8,357.0 1357.1,357.4 1357.4,357.8 1357.7,358.2 1358.1,358.6 1358.4,358.9 1358.7,359.2 1359.0,359.5 1359.3,359.8 1359.6,360.0 1359.9,360.1 1360.3,360.3 1360.6,360.3 1360.9,360.3 1361.2,360.3 1361.5,360.2 1361.8,360.1 1362.1,359.9 1362.5,359.7 1362.8,359.4 1363.1,359.1 1363.4,358.8 1363.7,358.4 1364.0,358.0 1364.4,357.6 1364.7,357.2 1365.0,356.8 1365.3,356.4 1365.6,356.0 1365.9,355.6 1366.2,355.2 1366.6,354.9 1366.9,354.6 1367.2,354.3 1367.5,354.1 1367.8,353.9 1368.1,353.8 1368.5,353.7 1368.8,353.7 1369.1,353.8 1369.4,353.8 1369.7,354.0 1370.0,354.2 1370.3,354.4 1370.7,354.7 1371.0,355.0 1371.3,355.4 1371.6,355.7 1371.9,356.1 1372.2,356.6 1372.6,357.0 1372.9,357.4 1373.2,357.8 1373.5,358.3 1373.8,358.7 1374.1,359.0 1374.4,359.4 1374.8,359.7 1375.1,360.0 1375.4,360.2 1375.7,360.4 1376.0,360.5 1376.3,360.6 1376.6,360.6 1377.0,360.6 1377.3,360.5 1377.6,360.3 1377.9,360.2 1378.2,359.9 1378.5,359.6 1378.9,359.3 1379.2,358.9 1379.5,358.5 1379.8,358.1 1380.1,357.7 1380.4,357.2 1380.7,356.8 1381.1,356.3 1381.4,355.9 1381.7,355.5 1382.0,355.1 1382.3,354.7 1382.6,354.4 1383.0,354.1 1383.3,353.9 1383.6,353.7 1383.9,353.5 1384.2,353.5 1384.5,353.4 1384.8,353.5 1385.2,353.6 1385.5,353.7 1385.8,353.9 1386.1,354.2 1386.4,354.5 1386.7,354.8 1387.0,355.2 1387.4,355.6 1387.7,356.0 1388.0,356.5 1388.3,357.0 1388.6,357.4 1388.9,357.9 1389.3,358.4 1389.6,358.8 1389.9,359.2 1390.2,359.6 1390.5,359.9 1390.8,360.2 1391.1,360.5 1391.5,360.7 1391.8,360.8 1392.1,360.9 1392.4,360.9 1392.7,360.9 1393.0,360.8 1393.4,360.7 1393.7,360.4 1394.0,360.2 1394.3,359.9 1394.6,359.5 1394.9,359.1 1395.2,358.7 1395.6,358.2 1395.9,357.7 1396.2,357.2 1396.5,356.7 1396.8,356.3 1397.1,355.8 1397.4,355.3 1397.8,354.9 1398.1,354.5 1398.4,354.1 1398.7,353.8 1399.0,353.5 1399.3,353.3 1399.7,353.2 1400.0,353.1 1400.3,353.1 1400.6,353.1 1400.9,353.2 1401.2,353.4 1401.5,353.6 1401.9,353.9 1402.2,354.2 1402.5,354.6 1402.8,355.0 1403.1,355.4 1403.4,355.9 1403.8,356.4 1404.1,356.9 1404.4,357.5 1404.7,358.0 1405.0,358.5 1405.3,359.0 1405.6,359.4 1406.0,359.8 1406.3,360.2 1406.6,360.6 1406.9,360.8 1407.2,361.1 1407.5,361.2 1407.8,361.3 1408.2,361.3 1408.5,361.3 1408.8,361.2 1409.1,361.0 1409.4,360.8 1409.7,360.5 1410.1,360.2 1410.4,359.8 1410.7,359.3 1411.0,358.8 1411.3,358.3 1411.6,357.8 1411.9,357.3 1412.3,356.7 1412.6,356.2 1412.9,355.7 1413.2,355.1 1413.5,354.7 1413.8,354.2 1414.2,353.8 1414.5,353.5 1414.8,353.2 1415.1,352.9 1415.4,352.8 1415.7,352.7 1416.0,352.6 1416.4,352.7 1416.7,352.8 1417.0,353.0 1417.3,353.2 1417.6,353.5 1417.9,353.9 1418.2,354.3 1418.6,354.8 1418.9,355.3 1419.2,355.8 1419.5,356.3 1419.8,356.9 1420.1,357.5 1420.5,358.1 1420.8,358.6 1421.1,359.2 1421.4,359.7 1421.7,360.1 1422.0,360.6 1422.3,360.9 1422.7,361.2 1423.0,361.5 1423.3,361.7 1423.6,361.8 1423.9,361.8 1424.2,361.8 1424.6,361.7 1424.9,361.5 1425.2,361.2 1425.5,360.9 1425.8,360.5 1426.1,360.1 1426.4,359.6 1426.8,359.1 1427.1,358.5 1427.4,357.9 1427.7,357.3 1428.0,356.7 1428.3,356.1 1428.6,355.5 1429.0,354.9 1429.3,354.4 1429.6,353.9 1429.9,353.4 1430.2,353.0 1430.5,352.7 1430.9,352.4 1431.2,352.2 1431.5,352.1 1431.8,352.1 1432.1,352.1 1432.4,352.3 1432.7,352.4 1433.1,352.7 1433.4,353.1 1433.7,353.5 1434.0,353.9 1434.3,354.5 1434.6,355.0 1435.0,355.6 1435.3,356.2 1435.6,356.9 1435.9,357.5 1436.2,358.2 1436.5,358.8 1436.8,359.4 1437.2,360.0 1437.5,360.5 1437.8,361.0 1438.1,361.4 1438.4,361.8 1438.7,362.1 1439.0,362.3 1439.4,362.4 1439.7,362.4 1440.0,362.4 1440.3,362.3 1440.6,362.1 1440.9,361.8 1441.3,361.4 1441.6,361.0 1441.9,360.5 1442.2,359.9 1442.5,359.3 1442.8,358.7 1443.1,358.0 1443.5,357.3 1443.8,356.7 1444.1,356.0 1444.4,355.3 1444.7,354.6 1445.0,354.0 1445.4,353.5 1445.7,352.9 1446.0,352.5 1446.3,352.1 1446.6,351.8 1446.9,351.6 1447.2,351.4 1447.6,351.4 1447.9,351.4 1448.2,351.6 1448.5,351.8 1448.8,352.1 1449.1,352.5 1449.4,352.9 1449.8,353.5 1450.1,354.1 1450.4,354.7 1450.7,355.4 1451.0,356.1 1451.3,356.8 1451.7,357.6 1452.0,358.3 1452.3,359.0 1452.6,359.7 1452.9,360.4 1453.2,361.0 1453.5,361.6 1453.9,362.0 1454.2,362.5 1454.5,362.8 1454.8,363.0 1455.1,363.2 1455.4,363.2 1455.8,363.2 1456.1,363.0 1456.4,362.8 1456.7,362.5 1457.0,362.1 1457.3,361.6 1457.6,361.0 1458.0,360.4 1458.3,359.7 1458.6,359.0 1458.9,358.2 1459.2,357.4 1459.5,356.6 1459.8,355.8 1460.2,355.0 1460.5,354.3 1460.8,353.6 1461.1,352.9 1461.4,352.3 1461.7,351.8 1462.1,351.3 1462.4,351.0 1462.7,350.7 1463.0,350.6 1463.3,350.5 1463.6,350.5 1463.9,350.7 1464.3,350.9 1464.6,351.3 1464.9,351.7 1465.2,352.3 1465.5,352.9 1465.8,353.6 1466.2,354.3 1466.5,355.1 1466.8,355.9 1467.1,356.8 1467.4,357.6 1467.7,358.5 1468.0,359.3 1468.4,360.2 1468.7,360.9 1469.0,361.7 1469.3,362.3 1469.6,362.9 1469.9,363.4 1470.2,363.7 1470.6,364.0 1470.9,364.2 1471.2,364.3 1471.5,364.2 1471.8,364.1 1472.1,363.8 1472.5,363.4 1472.8,363.0 1473.1,362.4 1473.4,361.7 1473.7,361.0 1474.0,360.2 1474.3,359.3 1474.7,358.4 1475.0,357.5 1475.3,356.5 1475.6,355.6 1475.9,354.7 1476.2,353.8 1476.6,352.9 1476.9,352.1 1477.2,351.4 1477.5,350.8 1477.8,350.3 1478.1,349.8 1478.4,349.5 1478.8,349.3 1479.1,349.2 1479.4,349.3 1479.7,349.4 1480.0,349.7 1480.3,350.1 1480.6,350.7 1481.0,351.3 1481.3,352.0 1481.6,352.8 1481.9,353.7 1482.2,354.7 1482.5,355.7 1482.9,356.7 1483.2,357.7 1483.5,358.8 1483.8,359.8 1484.1,360.8 1484.4,361.7 1484.7,362.6 1485.1,363.4 1485.4,364.1 1485.7,364.6 1486.0,365.1 1486.3,365.5 1486.6,365.7 1487.0,365.8 1487.3,365.8 1487.6,365.6 1487.9,365.3 1488.2,364.8 1488.5,364.2 1488.8,363.5 1489.2,362.7 1489.5,361.8 1489.8,360.9 1490.1,359.8 1490.4,358.7 1490.7,357.6 1491.0,356.4 1491.4,355.3 1491.7,354.1 1492.0,353.0 1492.3,352.0 1492.6,351.0 1492.9,350.1 1493.3,349.4 1493.6,348.7 1493.9,348.1 1494.2,347.7 1494.5,347.5 1494.8,347.4 1495.1,347.4 1495.5,347.6 1495.8,348.0 1496.1,348.5 1496.4,349.1 1496.7,349.9 1497.0,350.8 1497.4,351.8 1497.7,352.9 1498.0,354.0 1498.3,355.3 1498.6,356.6 1498.9,357.9 1499.2,359.2 1499.6,360.4 1499.9,361.7 1500.2,362.8 1500.5,363.9 1500.8,365.0 1501.1,365.8 1501.4,366.6 1501.8,367.2 1502.1,367.7 1502.4,368.0 1502.7,368.1 1503.0,368.1 1503.3,367.9 1503.7,367.5 1504.0,366.9 1504.3,366.2 1504.6,365.3 1504.9,364.3 1505.2,363.2 1505.5,361.9 1505.9,360.6 1506.2,359.2 1506.5,357.7 1506.8,356.3 1507.1,354.8 1507.4,353.3 1507.8,351.9 1508.1,350.5 1508.4,349.3 1508.7,348.1 1509.0,347.1 1509.3,346.2 1509.6,345.5 1510.0,344.9 1510.3,344.6 1510.6,344.4 1510.9,344.4 1511.2,344.7 1511.5,345.1 1511.8,345.7 1512.2,346.5 1512.5,347.5 1512.8,348.7 1513.1,350.0 1513.4,351.5 1513.7,353.0 1514.1,354.6 1514.4,356.3 1514.7,358.1 1515.0,359.8 1515.3,361.5 1515.6,363.2 1515.9,364.8 1516.3,366.3 1516.6,367.7 1516.9,368.9 1517.2,369.9 1517.5,370.8 1517.8,371.5 1518.2,371.9 1518.5,372.1 1518.8,372.1 1519.1,371.8 1519.4,371.3 1519.7,370.6 1520.0,369.7 1520.4,368.5 1520.7,367.1 1521.0,365.6 1521.3,363.9 1521.6,362.0 1521.9,360.1 1522.2,358.0 1522.6,356.0 1522.9,353.9 1523.2,351.8 1523.5,349.8 1523.8,347.8 1524.1,346.0 1524.5,344.3 1524.8,342.8 1525.1,341.5 1525.4,340.4 1525.7,339.6 1526.0,339.0 1526.3,338.7 1526.7,338.7 1527.0,339.0 1527.3,339.6 1527.6,340.5 1527.9,341.6 1528.2,343.0 1528.6,344.7 1528.9,346.6 1529.2,348.7 1529.5,351.0 1529.8,353.4 1530.1,355.9 1530.4,358.5 1530.8,361.1 1531.1,363.7 1531.4,366.3 1531.7,368.8 1532.0,371.1 1532.3,373.3 1532.6,375.2 1533.0,376.9 1533.3,378.4 1533.6,379.5 1533.9,380.3 1534.2,380.7 1534.5,380.8 1534.9,380.5 1535.2,379.8 1535.5,378.7 1535.8,377.3 1536.1,375.5 1536.4,373.4 1536.7,370.9 1537.1,368.2 1537.4,365.2 1537.7,362.1 1538.0,358.7 1538.3,355.3 1538.6,351.7 1539.0,348.2 1539.3,344.7 1539.6,341.3 1539.9,338.1 1540.2,335.0 1540.5,332.3 1540.8,329.8 1541.2,327.7 1541.5,326.1 1541.8,324.8 1542.1,324.0 1542.4,323.8 1542.7,324.1 1543.0,324.9 1543.4,326.2 1543.7,328.1 1544.0,330.5 1544.3,333.5 1544.6,336.9 1544.9,340.8 1545.3,345.0 1545.6,349.7 1545.9,354.6 1546.2,359.8 1546.5,365.2 1546.8,370.6 1547.1,376.1 1547.5,381.5 1547.8,386.8 1548.1,391.8 1548.4,396.5 1548.7,400.8 1549.0,404.6 1549.4,407.8 1549.7,410.3 1550.0,412.2 1550.3,413.2 1550.6,413.4 1550.9,412.7 1551.2,411.1 1551.6,408.5 1551.9,404.8 1552.2,400.2 1552.5,394.5 1552.8,387.9 1553.1,380.2 1553.4,371.6 1553.8,362.1 1554.1,351.7 1554.4,340.5 1554.7,328.6 1555.0,316.1 1555.3,303.0 1555.7,289.5 1556.0,275.6 1556.3,261.5 1556.6,247.3 1556.9,233.1 1557.2,219.1 1557.5,205.3 1557.9,191.8 1558.2,178.9 1558.5,166.6 1558.8,154.9 1559.1,144.2 1559.4,134.3 1559.8,125.5 1560.1,117.8 1560.4,111.2 1560.7,105.9 1561.0,101.8 1561.3,99.1 1561.6,97.8 1562.0,97.8 1562.3,99.1 1562.6,101.8 1562.9,105.9 1563.2,111.2 1563.5,117.8 1563.8,125.5 1564.2,134.3 1564.5,144.2 1564.8,154.9 1565.1,166.6 1565.4,178.9 1565.7,191.8 1566.1,205.3 1566.4,219.1 1566.7,233.1 1567.0,247.3 1567.3,261.5 1567.6,275.6 1567.9,289.5 1568.3,303.0 1568.6,316.1 1568.9,328.6 1569.2,340.5 1569.5,351.7 1569.8,362.1 1570.2,371.6 1570.5,380.2 1570.8,387.9 1571.1,394.5 1571.4,400.2 1571.7,404.8 1572.0,408.5 1572.4,411.1 1572.7,412.7 1573.0,413.4 1573.3,413.2 1573.6,412.2 1573.9,410.3 1574.2,407.8 1574.6,404.6 1574.9,400.8 1575.2,396.5 1575.5,391.8 1575.8,386.8 1576.1,381.5 1576.5,376.1 1576.8,370.6 1577.1,365.2 1577.4,359.8 1577.7,354.6 1578.0,349.7 1578.3,345.0 1578.7,340.8 1579.0,336.9 1579.3,333.5 1579.6,330.5 1579.9,328.1 1580.2,326.2 1580.6,324.9 1580.9,324.1 1581.2,323.8 1581.5,324.0 1581.8,324.8 1582.1,326.1 1582.4,327.7 1582.8,329.8 1583.1,332.3 1583.4,335.0 1583.7,338.1 1584.0,341.3 1584.3,344.7 1584.6,348.2 1585.0,351.7 1585.3,355.3 1585.6,358.7 1585.9,362.1 1586.2,365.2 1586.5,368.2 1586.9,370.9 1587.2,373.4 1587.5,375.5 1587.8,377.3 1588.1,378.7 1588.4,379.8 1588.7,380.5 1589.1,380.8 1589.4,380.7 1589.7,380.3 1590.0,379.5 1590.3,378.4 1590.6,376.9 1591.0,375.2 1591.3,373.3 1591.6,371.1 1591.9,368.8 1592.2,366.3 1592.5,363.7 1592.8,361.1 1593.2,358.5 1593.5,355.9 1593.8,353.4 1594.1,351.0 1594.4,348.7 1594.7,346.6 1595.0,344.7 1595.4,343.0 1595.7,341.6 1596.0,340.5 1596.3,339.6 1596.6,339.0 1596.9,338.7 1597.3,338.7 1597.6,339.0 1597.9,339.6 1598.2,340.4 1598.5,341.5 1598.8,342.8 1599.1,344.3 1599.5,346.0 1599.8,347.8 1600.1,349.8 1600.4,351.8 1600.7,353.9 1601.0,356.0 1601.4,358.0 1601.7,360.1 1602.0,362.0 1602.3,363.9 1602.6,365.6 1602.9,367.1 1603.2,368.5 1603.6,369.7 1603.9,370.6 1604.2,371.3 1604.5,371.8 1604.8,372.1 1605.1,372.1 1605.4,371.9 1605.8,371.5 1606.1,370.8 1606.4,369.9 1606.7,368.9 1607.0,367.7 1607.3,366.3 1607.7,364.8 1608.0,363.2 1608.3,361.5 1608.6,359.8 1608.9,358.1 1609.2,356.3 1609.5,354.6 1609.9,353.0 1610.2,351.5 1610.5,350.0 1610.8,348.7 1611.1,347.5 1611.4,346.5 1611.8,345.7 1612.1,345.1 1612.4,344.7 1612.7,344.4 1613.0,344.4 1613.3,344.6 1613.6,344.9 1614.0,345.5 1614.3,346.2 1614.6,347.1 1614.9,348.1 1615.2,349.3 1615.5,350.5 1615.8,351.9 1616.2,353.3 1616.5,354.8 1616.8,356.3 1617.1,357.7 1617.4,359.2 1617.7,360.6 1618.1,361.9 1618.4,363.2 1618.7,364.3 1619.0,365.3 1619.3,366.2 1619.6,366.9 1619.9,367.5 1620.3,367.9 1620.6,368.1 1620.9,368.1 1621.2,368.0 1621.5,367.7 1621.8,367.2 1622.2,366.6 1622.5,365.8 1622.8,365.0 1623.1,363.9 1623.4,362.8 1623.7,361.7 1624.0,360.4 1624.4,359.2 1624.7,357.9 1625.0,356.6 1625.3,355.3 1625.6,354.0 1625.9,352.9 1626.2,351.8 1626.6,350.8 1626.9,349.9 1627.2,349.1 1627.5,348.5 1627.8,348.0 1628.1,347.6 1628.5,347.4 1628.8,347.4 1629.1,347.5 1629.4,347.7 1629.7,348.1 1630.0,348.7 1630.3,349.4 1630.7,350.1 1631.0,351.0 1631.3,352.0 1631.6,353.0 1631.9,354.1 1632.2,355.3 1632.6,356.4 1632.9,357.6 1633.2,358.7 1633.5,359.8 1633.8,360.9 1634.1,361.8 1634.4,362.7 1634.8,363.5 1635.1,364.2 1635.4,364.8 1635.7,365.3 1636.0,365.6 1636.3,365.8 1636.6,365.8 1637.0,365.7 1637.3,365.5 1637.6,365.1 1637.9,364.6 1638.2,364.1 1638.5,363.4 1638.9,362.6 1639.2,361.7 1639.5,360.8 1639.8,359.8 1640.1,358.8 1640.4,357.7 1640.7,356.7 1641.1,355.7 1641.4,354.7 1641.7,353.7 1642.0,352.8 1642.3,352.0 1642.6,351.3 1643.0,350.7 1643.3,350.1 1643.6,349.7 1643.9,349.4 1644.2,349.3 1644.5,349.2 1644.8,349.3 1645.2,349.5 1645.5,349.8 1645.8,350.3 1646.1,350.8 1646.4,351.4 1646.7,352.1 1647.0,352.9 1647.4,353.8 1647.7,354.7 1648.0,355.6 1648.3,356.5 1648.6,357.5 1648.9,358.4 1649.3,359.3 1649.6,360.2 1649.9,361.0 1650.2,361.7 1650.5,362.4 1650.8,363.0 1651.1,363.4 1651.5,363.8 1651.8,364.1 1652.1,364.2 1652.4,364.3 1652.7,364.2 1653.0,364.0 1653.4,363.7 1653.7,363.4 1654.0,362.9 1654.3,362.3 1654.6,361.7 1654.9,360.9 1655.2,360.2 1655.6,359.3 1655.9,358.5 1656.2,357.6 1656.5,356.8 1656.8,355.9 1657.1,355.1 1657.4,354.3 1657.8,353.6 1658.1,352.9 1658.4,352.3 1658.7,351.7 1659.0,351.3 1659.3,350.9 1659.7,350.7 1660.0,350.5 1660.3,350.5 1660.6,350.6 1660.9,350.7 1661.2,351.0 1661.5,351.3 1661.9,351.8 1662.2,352.3 1662.5,352.9 1662.8,353.6 1663.1,354.3 1663.4,355.0 1663.8,355.8 1664.1,356.6 1664.4,357.4 1664.7,358.2 1665.0,359.0 1665.3,359.7 1665.6,360.4 1666.0,361.0 1666.3,361.6 1666.6,362.1 1666.9,362.5 1667.2,362.8 1667.5,363.0 1667.8,363.2 1668.2,363.2 1668.5,363.2 1668.8,363.0 1669.1,362.8 1669.4,362.5 1669.7,362.0 1670.1,361.6 1670.4,361.0 1670.7,360.4 1671.0,359.7 1671.3,359.0 1671.6,358.3 1671.9,357.6 1672.3,356.8 1672.6,356.1 1672.9,355.4 1673.2,354.7 1673.5,354.1 1673.8,353.5 1674.2,352.9 1674.5,352.5 1674.8,352.1 1675.1,351.8 1675.4,351.6 1675.7,351.4 1676.0,351.4 1676.4,351.4 1676.7,351.6 1677.0,351.8 1677.3,352.1 1677.6,352.5 1677.9,352.9 1678.2,353.5 1678.6,354.0 1678.9,354.6 1679.2,355.3 1679.5,356.0 1679.8,356.7 1680.1,357.3 1680.5,358.0 1680.8,358.7 1681.1,359.3 1681.4,359.9 1681.7,360.5 1682.0,361.0 1682.3,361.4 1682.7,361.8 1683.0,362.1 1683.3,362.3 1683.6,362.4 1683.9,362.4 1684.2,362.4 1684.6,362.3 1684.9,362.1 1685.2,361.8 1685.5,361.4 1685.8,361.0 1686.1,360.5 1686.4,360.0 1686.8,359.4 1687.1,358.8 1687.4,358.2 1687.7,357.5 1688.0,356.9 1688.3,356.2 1688.6,355.6 1689.0,355.0 1689.3,354.5 1689.6,353.9 1689.9,353.5 1690.2,353.1 1690.5,352.7 1690.9,352.4 1691.2,352.3 1691.5,352.1 1691.8,352.1 1692.1,352.1 1692.4,352.2 1692.7,352.4 1693.1,352.7 1693.4,353.0 1693.7,353.4 1694.0,353.9 1694.3,354.4 1694.6,354.9 1695.0,355.5 1695.3,356.1 1695.6,356.7 1695.9,357.3 1696.2,357.9 1696.5,358.5 1696.8,359.1 1697.2,359.6 1697.5,360.1 1697.8,360.5 1698.1,360.9 1698.4,361.2 1698.7,361.5 1699.0,361.7 1699.4,361.8 1699.7,361.8 1700.0,361.8 1700.3,361.7 1700.6,361.5 1700.9,361.2 1701.3,360.9 1701.6,360.6 1701.9,360.1 1702.2,359.7 1702.5,359.2 1702.8,358.6 1703.1,358.1 1703.5,357.5 1703.8,356.9 1704.1,356.3 1704.4,355.8 1704.7,355.3 1705.0,354.8 1705.4,354.3 1705.7,353.9 1706.0,353.5 1706.3,353.2 1706.6,353.0 1706.9,352.8 1707.2,352.7 1707.6,352.6 1707.9,352.7 1708.2,352.8 1708.5,352.9 1708.8,353.2 1709.1,353.5 1709.4,353.8 1709.8,354.2 1710.1,354.7 1710.4,355.1 1710.7,355.7 1711.0,356.2 1711.3,356.7 1711.7,357.3 1712.0,357.8 1712.3,358.3 1712.6,358.8 1712.9,359.3 1713.2,359.8 1713.5,360.2 1713.9,360.5 1714.2,360.8 1714.5,361.0 1714.8,361.2 1715.1,361.3 1715.4,361.3 1715.8,361.3 1716.1,361.2 1716.4,361.1 1716.7,360.8 1717.0,360.6 1717.3,360.2 1717.6,359.8 1718.0,359.4 1718.3,359.0 1718.6,358.5 1718.9,358.0 1719.2,357.5 1719.5,356.9 1719.8,356.4 1720.2,355.9 1720.5,355.4 1720.8,355.0 1721.1,354.6 1721.4,354.2 1721.7,353.9 1722.1,353.6 1722.4,353.4 1722.7,353.2 1723.0,353.1 1723.3,353.1 1723.6,353.1 1723.9,353.2 1724.3,353.3 1724.6,353.5 1724.9,353.8 1725.2,354.1 1725.5,354.5 1725.8,354.9 1726.2,355.3 1726.5,355.8 1726.8,356.3 1727.1,356.7 1727.4,357.2 1727.7,357.7 1728.0,358.2 1728.4,358.7 1728.7,359.1 1729.0,359.5 1729.3,359.9 1729.6,360.2 1729.9,360.4 1730.2,360.7 1730.6,360.8 1730.9,360.9 1731.2,360.9 1731.5,360.9 1731.8,360.8 1732.1,360.7 1732.5,360.5 1732.8,360.2 1733.1,359.9 1733.4,359.6 1733.7,359.2 1734.0,358.8 1734.3,358.4 1734.7,357.9 1735.0,357.4 1735.3,357.0 1735.6,356.5 1735.9,356.0 1736.2,355.6 1736.6,355.2 1736.9,354.8 1737.2,354.5 1737.5,354.2 1737.8,353.9 1738.1,353.7 1738.4,353.6 1738.8,353.5 1739.1,353.4 1739.4,353.5 1739.7,353.5 1740.0,353.7 1740.3,353.9 1740.6,354.1 1741.0,354.4 1741.3,354.7 1741.6,355.1 1741.9,355.5 1742.2,355.9 1742.5,356.3 1742.9,356.8 1743.2,357.2 1743.5,357.7 1743.8,358.1 1744.1,358.5 1744.4,358.9 1744.7,359.3 1745.1,359.6 1745.4,359.9 1745.7,360.2 1746.0,360.3 1746.3,360.5 1746.6,360.6 1747.0,360.6 1747.3,360.6 1747.6,360.5 1747.9,360.4 1748.2,360.2 1748.5,360.0 1748.8,359.7 1749.2,359.4 1749.5,359.0 1749.8,358.7 1750.1,358.3 1750.4,357.8 1750.7,357.4 1751.0,357.0 1751.4,356.6 1751.7,356.1 1752.0,355.7 1752.3,355.4 1752.6,355.0 1752.9,354.7 1753.3,354.4 1753.6,354.2 1753.9,354.0 1754.2,353.8 1754.5,353.8 1754.8,353.7 1755.1,353.7 1755.5,353.8 1755.8,353.9 1756.1,354.1 1756.4,354.3 1756.7,354.6 1757.0,354.9 1757.4,355.2 1757.7,355.6 1758.0,356.0 1758.3,356.4 1758.6,356.8 1758.9,357.2 1759.2,357.6 1759.6,358.0 1759.9,358.4 1760.2,358.8 1760.5,359.1 1760.8,359.4 1761.1,359.7 1761.5,359.9 1761.8,360.1 1762.1,360.2 1762.4,360.3 1762.7,360.3 1763.0,360.3 1763.3,360.3 1763.7,360.1 1764.0,360.0 1764.3,359.8 1764.6,359.5 1764.9,359.2 1765.2,358.9 1765.5,358.6 1765.9,358.2 1766.2,357.8 1766.5,357.4 1766.8,357.0 1767.1,356.6 1767.4,356.2 1767.8,355.8 1768.1,355.5 1768.4,355.2 1768.7,354.9 1769.0,354.6 1769.3,354.4 1769.6,354.2 1770.0,354.1 1770.3,354.0 1770.6,354.0 1770.9,354.0 1771.2,354.1 1771.5,354.2 1771.9,354.3 1772.2,354.5 1772.5,354.8 1772.8,355.1 1773.1,355.4 1773.4,355.7 1773.7,356.1 1774.1,356.4 1774.4,356.8 1774.7,357.2 1775.0,357.6 1775.3,357.9 1775.6,358.3 1775.9,358.6 1776.3,359.0 1776.6,359.2 1776.9,359.5 1777.2,359.7 1777.5,359.9 1777.8,360.0 1778.2,360.1 1778.5,360.1 1778.8,360.1 1779.1,360.0 1779.4,359.9 1779.7,359.8 1780.0,359.6 1780.4,359.3 1780.7,359.1 1781.0,358.8 1781.3,358.5 1781.6,358.1 1781.9,357.8 1782.3,357.4 1782.6,357.0 1782.9,356.7 1783.2,356.3 1783.5,355.9 1783.8,355.6 1784.1,355.3 1784.5,355.0 1784.8,354.8 1785.1,354.6 1785.4,354.4 1785.7,354.3 1786.0,354.2 1786.3,354.2 1786.7,354.2 1787.0,354.3 1787.3,354.4 1787.6,354.5 1787.9,354.7 1788.2,354.9 1788.6,355.2 1788.9,355.5 1789.2,355.8 1789.5,356.1 1789.8,356.5 1790.1,356.8 1790.4,357.2 1790.8,357.5 1791.1,357.9 1791.4,358.2 1791.7,358.5 1792.0,358.8 1792.3,359.1 1792.7,359.3 1793.0,359.5 1793.3,359.7 1793.6,359.8 1793.9,359.9 1794.2,359.9 1794.5,359.9 1794.9,359.8 1795.2,359.7 1795.5,359.6 1795.8,359.4 1796.1,359.2 1796.4,358.9 1796.7,358.7 1797.1,358.4 1797.4,358.1 1797.7,357.7 1798.0,357.4 1798.3,357.0 1798.6,356.7 1799.0,356.4 1799.3,356.0 1799.6,355.7 1799.9,355.4 1800.2,355.2 1800.5,355.0 1800.8,354.8 1801.2,354.6 1801.5,354.5 1801.8,354.4 1802.1,354.4 1802.4,354.4 1802.7,354.5 1803.1,354.6 1803.4,354.7 1803.7,354.9 1804.0,355.1 1804.3,355.3 1804.6,355.6 1804.9,355.9 1805.3,356.2 1805.6,356.5 1805.9,356.8 1806.2,357.2 1806.5,357.5 1806.8,357.8 1807.1,358.1 1807.5,358.4 1807.8,358.7 1808.1,359.0 1808.4,359.2 1808.7,359.4 1809.0,359.5 1809.4,359.6 1809.7,359.7 1810.0,359.7 1810.3,359.7 1810.6,359.7 1810.9,359.6 1811.2,359.4 1811.6,359.3 1811.9,359.1 1812.2,358.8 1812.5,358.6 1812.8,358.3 1813.1,358.0 1813.5,357.7 1813.8,357.4 1814.1,357.0 1814.4,356.7 1814.7,356.4 1815.0,356.1 1815.3,355.8 1815.7,355.5 1816.0,355.3 1816.3,355.1 1816.6,354.9 1816.9,354.8 1817.2,354.7 1817.5,354.6 1817.9,354.6 1818.2,354.6 1818.5,354.6 1818.8,354.7 1819.1,354.8 1819.4,355.0 1819.8,355.2 1820.1,355.4 1820.4,355.7 1820.7,355.9 1821.0,356.2 1821.3,356.5 1821.6,356.8 1822.0,357.2 1822.3,357.5 1822.6,357.8 1822.9,358.1 1823.2,358.3 1823.5,358.6 1823.9,358.8 1824.2,359.0 1824.5,359.2 1824.8,359.4 1825.1,359.5 1825.4,359.5 1825.7,359.6 1826.1,359.6 1826.4,359.5 1826.7,359.4 1827.0,359.3 1827.3,359.1 1827.6,359.0 1827.9,358.7 1828.3,358.5 1828.6,358.2 1828.9,358.0 1829.2,357.7 1829.5,357.4 1829.8,357.1 1830.2,356.7 1830.5,356.5 1830.8,356.2 1831.1,355.9 1831.4,355.6 1831.7,355.4 1832.0,355.2 1832.4,355.0 1832.7,354.9 1833.0,354.8 1833.3,354.7 1833.6,354.7 1833.9,354.7 1834.3,354.8 1834.6,354.8 1834.9,355.0 1835.2,355.1 1835.5,355.3 1835.8,355.5 1836.1,355.7 1836.5,356.0 1836.8,356.3 1837.1,356.6 1837.4,356.8 1837.7,357.1 1838.0,357.4 1838.3,357.7 1838.7,358.0 1839.0,358.3 1839.3,358.5 1839.6,358.7 1839.9,358.9 1840.2,359.1 1840.6,359.2 1840.9,359.3 1841.2,359.4 1841.5,359.4 1841.8,359.4 1842.1,359.4 1842.4,359.3 1842.8,359.2 1843.1,359.0 1843.4,358.9 1843.7,358.7 1844.0,358.4 1844.3,358.2 1844.7,357.9 1845.0,357.6 1845.3,357.3 1845.6,357.1 1845.9,356.8 1846.2,356.5 1846.5,356.2 1846.9,356.0 1847.2,355.7 1847.5,355.5 1847.8,355.3 1848.1,355.2 1848.4,355.0 1848.7,354.9 1849.1,354.9 1849.4,354.8 1849.7,354.8 1850.0,354.9 1850.3,355.0 1850.6,355.1 1851.0,355.2 1851.3,355.4 1851.6,355.6 1851.9,355.8 1852.2,356.1 1852.5,356.3 1852.8,356.6 1853.2,356.9 1853.5,357.1 1853.8,357.4 1854.1,357.7 1854.4,358.0 1854.7,358.2 1855.1,358.4 1855.4,358.6 1855.7,358.8 1856.0,359.0 1856.3,359.1 1856.6,359.2 1856.9,359.3 1857.3,359.3 1857.6,359.3 1857.9,359.3 1858.2,359.2 1858.5,359.1 1858.8,358.9 1859.1,358.8 1859.5,358.6 1859.8,358.4 1860.1,358.1 1860.4,357.9 1860.7,357.6 1861.0,357.3 1861.4,357.1 1861.7,356.8 1862.0,356.5 1862.3,356.3 1862.6,356.0 1862.9,355.8 1863.2,355.6 1863.6,355.4 1863.9,355.3 1864.2,355.1 1864.5,355.0 1864.8,355.0 1865.1,355.0 1865.5,355.0 1865.8,355.0 1866.1,355.1 1866.4,355.2 1866.7,355.3 1867.0,355.5 1867.3,355.7 1867.7,355.9 1868.0,356.1 1868.3,356.3 1868.6,356.6 1868.9,356.9 1869.2,357.1 1869.5,357.4 1869.9,357.7 1870.2,357.9 1870.5,358.1 1870.8,358.4 1871.1,358.6 1871.4,358.7 1871.8,358.9 1872.1,359.0 1872.4,359.1 1872.7,359.2 1873.0,359.2 1873.3,359.2 1873.6,359.1 1874.0,359.1 1874.3,359.0 1874.6,358.8 1874.9,358.7 1875.2,358.5 1875.5,358.3 1875.9,358.1 1876.2,357.8 1876.5,357.6 1876.8,357.3 1877.1,357.1 1877.4,356.8 1877.7,356.6 1878.1,356.3 1878.4,356.1 1878.7,355.9 1879.0,355.7 1879.3,355.5 1879.6,355.4 1879.9,355.2 1880.3,355.1 1880.6,355.1 1880.9,355.1 1881.2,355.1 1881.5,355.1 1881.8,355.2 1882.2,355.3 1882.5,355.4 1882.8,355.6 1883.1,355.7 1883.4,355.9 1883.7,356.1 1884.0,356.4 1884.4,356.6 1884.7,356.9 1885.0,357.1 1885.3,357.4 1885.6,357.6 1885.9,357.9 1886.3,358.1 1886.6,358.3 1886.9,358.5 1887.2,358.7 1887.5,358.8 1887.8,358.9 1888.1,359.0 1888.5,359.1 1888.8,359.1 1889.1,359.1 1889.4,359.0 1889.7,359.0 1890.0,358.9 1890.3,358.8 1890.7,358.6 1891.0,358.4 1891.3,358.2 1891.6,358.0 1891.9,357.8 1892.2,357.6 1892.6,357.3 1892.9,357.1 1893.2,356.8 1893.5,356.6 1893.8,356.4 1894.1,356.1 1894.4,355.9 1894.8,355.7 1895.1,355.6 1895.4,355.4 1895.7,355.3 1896.0,355.2 1896.3,355.2 1896.7,355.2 1897.0,355.2 1897.3,355.2 1897.6,355.3 1897.9,355.4 1898.2,355.5 1898.5,355.6 1898.9,355.8 1899.2,356.0 1899.5,356.2 1899.8,356.4 1900.1,356.6 1900.4,356.9 1900.7,357.1 1901.1,357.4 1901.4,357.6 1901.7,357.8 1902.0,358.0 1902.3,358.2 1902.6,358.4 1903.0,358.6 1903.3,358.7 1903.6,358.8 1903.9,358.9 1904.2,359.0 1904.5,359.0 1904.8,359.0 1905.2,359.0 1905.5,358.9 1905.8,358.8 1906.1,358.7 1906.4,358.5 1906.7,358.4 1907.1,358.2 1907.4,358.0 1907.7,357.8 1908.0,357.6 1908.3,357.3 1908.6,357.1 1908.9,356.9 1909.3,356.6 1909.6,356.4 1909.9,356.2 1910.2,356.0 1910.5,355.8 1910.8,355.7 1911.1,355.5 1911.5,355.4 1911.8,355.3 1912.1,355.3 1912.4,355.2 1912.7,355.2 1913.0,355.3 1913.4,355.3 1913.7,355.4 1914.0,355.5 1914.3,355.7 1914.6,355.8 1914.9,356.0 1915.2,356.2 1915.6,356.4 1915.9,356.7 1916.2,356.9 1916.5,357.1 1916.8,357.3 1917.1,357.6 1917.5,357.8 1917.8,358.0 1918.1,358.2 1918.4,358.4 1918.7,358.5 1919.0,358.6 1919.3,358.8 1919.7,358.8 1920.0,358.9 1920.3,358.9 1920.6,358.9 1920.9,358.9 1921.2,358.8 1921.5,358.7 1921.9,358.6 1922.2,358.5 1922.5,358.3 1922.8,358.2 1923.1,358.0 1923.4,357.8 1923.8,357.5 1924.1,357.3 1924.4,357.1 1924.7,356.9 1925.0,356.6 1925.3,356.4 1925.6,356.2 1926.0,356.0 1926.3,355.9 1926.6,355.7 1926.9,355.6 1927.2,355.5 1927.5,355.4 1927.9,355.4 1928.2,355.3 1928.5,355.3 1928.8,355.4 1929.1,355.4 1929.4,355.5 1929.7,355.6 1930.1,355.7 1930.4,355.9 1930.7,356.1 1931.0,356.3 1931.3,356.5 1931.6,356.7 1931.9,356.9 1932.3,357.1 1932.6,357.3 1932.9,357.5 1933.2,357.8 1933.5,357.9 1933.8,358.1 1934.2,358.3 1934.5,358.4 1934.8,358.6 1935.1,358.7 1935.4,358.8 1935.7,358.8 1936.0,358.8 1936.4,358.8 1936.7,358.8 1937.0,358.7 1937.3,358.7 1937.6,358.6 1937.9,358.4 1938.3,358.3 1938.6,358.1 1938.9,357.9 1939.2,357.7 1939.5,357.5 1939.8,357.3 1940.1,357.1 1940.5,356.9 1940.8,356.7 1941.1,356.5 1941.4,356.3 1941.7,356.1 1942.0,355.9 1942.3,355.8 1942.7,355.7 1943.0,355.6 1943.3,355.5 1943.6,355.4 1943.9,355.4 1944.2,355.4 1944.6,355.4 1944.9,355.5 1945.2,355.6 1945.5,355.7 1945.8,355.8 1946.1,355.9 1946.4,356.1 1946.8,356.3 1947.1,356.5 1947.4,356.7 1947.7,356.9 1948.0,357.1 1948.3,357.3 1948.7,357.5 1949.0,357.7 1949.3,357.9 1949.6,358.1 1949.9,358.2 1950.2,358.4 1950.5,358.5 1950.9,358.6 1951.2,358.7 1951.5,358.7 1951.8,358.8 1952.1,358.8 1952.4,358.7 1952.7,358.7 1953.1,358.6 1953.4,358.5 1953.7,358.4 1954.0,358.2 1954.3,358.1 1954.6,357.9 1955.0,357.7 1955.3,357.5 1955.6,357.3 1955.9,357.1"/>
<polyline stroke="#F14040" points="1167.7,357.1 1168.1,357.3 1168.5,357.6 1168.9,357.8 1169.3,358.0 1169.7,358.2 1170.1,358.4 1170.5,358.5 1170.9,358.7 1171.2,358.8 1171.6,358.9 1172.0,358.9 1172.4,359.0 1172.8,359.0 1173.2,358.9 1173.6,358.9 1174.0,358.8 1174.4,358.7 1174.8,358.6 1175.2,358.4 1175.6,358.2 1176.0,358.0 1176.4,357.8 1176.8,357.6 1177.2,357.3 1177.5,357.1 1177.9,356.9 1178.3,356.6 1178.7,356.4 1179.1,356.2 1179.5,356.0 1179.9,355.8 1180.3,355.6 1180.7,355.5 1181.1,355.4 1181.5,355.3 1181.9,355.2 1182.3,355.2 1182.7,355.2 1183.1,355.2 1183.5,355.3 1183.9,355.4 1184.2,355.5 1184.6,355.6 1185.0,355.8 1185.4,356.0 1185.8,356.2 1186.2,356.4 1186.6,356.6 1187.0,356.9 1187.4,357.1 1187.8,357.3 1188.2,357.6 1188.6,357.8 1189.0,358.0 1189.4,358.2 1189.8,358.4 1190.2,358.6 1190.5,358.8 1190.9,358.9 1191.3,359.0 1191.7,359.0 1192.1,359.1 1192.5,359.1 1192.9,359.0 1193.3,359.0 1193.7,358.9 1194.1,358.8 1194.5,358.6 1194.9,358.5 1195.3,358.3 1195.7,358.1 1196.1,357.8 1196.5,357.6 1196.8,357.4 1197.2,357.1 1197.6,356.9 1198.0,356.6 1198.4,356.4 1198.8,356.1 1199.2,355.9 1199.6,355.7 1200.0,355.6 1200.4,355.4 1200.8,355.3 1201.2,355.2 1201.6,355.1 1202.0,355.1 1202.4,355.1 1202.8,355.1 1203.2,355.2 1203.5,355.3 1203.9,355.4 1204.3,355.5 1204.7,355.7 1205.1,355.9 1205.5,356.1 1205.9,356.3 1206.3,356.6 1206.7,356.8 1207.1,357.1 1207.5,357.3 1207.9,357.6 1208.3,357.8 1208.7,358.1 1209.1,358.3 1209.5,358.5 1209.8,358.7 1210.2,358.8 1210.6,359.0 1211.0,359.1 1211.4,359.1 1211.8,359.2 1212.2,359.2 1212.6,359.2 1213.0,359.1 1213.4,359.0 1213.8,358.9 1214.2,358.7 1214.6,358.5 1215.0,358.3 1215.4,358.1 1215.8,357.9 1216.2,357.6 1216.5,357.4 1216.9,357.1 1217.3,356.9 1217.7,356.6 1218.1,356.3 1218.5,356.1 1218.9,355.9 1219.3,355.7 1219.7,355.5 1220.1,355.3 1220.5,355.2 1220.9,355.1 1221.3,355.0 1221.7,355.0 1222.1,355.0 1222.5,355.0 1222.8,355.1 1223.2,355.1 1223.6,355.3 1224.0,355.4 1224.4,355.6 1224.8,355.8 1225.2,356.0 1225.6,356.3 1226.0,356.5 1226.4,356.8 1226.8,357.1 1227.2,357.4 1227.6,357.6 1228.0,357.9 1228.4,358.1 1228.8,358.4 1229.1,358.6 1229.5,358.8 1229.9,358.9 1230.3,359.1 1230.7,359.2 1231.1,359.3 1231.5,359.3 1231.9,359.3 1232.3,359.3 1232.7,359.2 1233.1,359.1 1233.5,359.0 1233.9,358.8 1234.3,358.6 1234.7,358.4 1235.1,358.2 1235.5,357.9 1235.8,357.7 1236.2,357.4 1236.6,357.1 1237.0,356.8 1237.4,356.6 1237.8,356.3 1238.2,356.0 1238.6,355.8 1239.0,355.6 1239.4,355.4 1239.8,355.2 1240.2,355.1 1240.6,355.0 1241.0,354.9 1241.4,354.8 1241.8,354.8 1242.1,354.9 1242.5,354.9 1242.9,355.0 1243.3,355.2 1243.7,355.3 1244.1,355.5 1244.5,355.7 1244.9,356.0 1245.3,356.2 1245.7,356.5 1246.1,356.8 1246.5,357.1 1246.9,357.4 1247.3,357.6 1247.7,357.9 1248.1,358.2 1248.5,358.4 1248.8,358.7 1249.2,358.9 1249.6,359.1 1250.0,359.2 1250.4,359.3 1250.8,359.4 1251.2,359.4 1251.6,359.4 1252.0,359.4 1252.4,359.3 1252.8,359.2 1253.2,359.1 1253.6,358.9 1254.0,358.7 1254.4,358.5 1254.8,358.3 1255.1,358.0 1255.5,357.7 1255.9,357.4 1256.3,357.1 1256.7,356.8 1257.1,356.5 1257.5,356.3 1257.9,356.0 1258.3,355.7 1258.7,355.5 1259.1,355.3 1259.5,355.1 1259.9,354.9 1260.3,354.8 1260.7,354.7 1261.1,354.7 1261.4,354.7 1261.8,354.7 1262.2,354.8 1262.6,354.9 1263.0,355.0 1263.4,355.2 1263.8,355.4 1264.2,355.6 1264.6,355.9 1265.0,356.2 1265.4,356.5 1265.8,356.8 1266.2,357.1 1266.6,357.4 1267.0,357.7 1267.4,358.0 1267.8,358.3 1268.1,358.5 1268.5,358.8 1268.9,359.0 1269.3,359.2 1269.7,359.3 1270.1,359.5 1270.5,359.5 1270.9,359.6 1271.3,359.6 1271.7,359.6 1272.1,359.5 1272.5,359.4 1272.9,359.2 1273.3,359.1 1273.7,358.9 1274.1,358.6 1274.4,358.4 1274.8,358.1 1275.2,357.8 1275.6,357.5 1276.0,357.1 1276.4,356.8 1276.8,356.5 1277.2,356.2 1277.6,355.9 1278.0,355.6 1278.4,355.4 1278.8,355.1 1279.2,355.0 1279.6,354.8 1280.0,354.7 1280.4,354.6 1280.8,354.5 1281.1,354.5 1281.5,354.5 1281.9,354.6 1282.3,354.7 1282.7,354.9 1283.1,355.1 1283.5,355.3 1283.9,355.5 1284.3,355.8 1284.7,356.1 1285.1,356.4 1285.5,356.7 1285.9,357.1 1286.3,357.4 1286.7,357.7 1287.1,358.0 1287.4,358.3 1287.8,358.6 1288.2,358.9 1288.6,359.1 1289.0,359.3 1289.4,359.5 1289.8,359.6 1290.2,359.7 1290.6,359.8 1291.0,359.8 1291.4,359.8 1291.8,359.7 1292.2,359.6 1292.6,359.4 1293.0,359.2 1293.4,359.0 1293.7,358.7 1294.1,358.5 1294.5,358.2 1294.9,357.8 1295.3,357.5 1295.7,357.2 1296.1,356.8 1296.5,356.5 1296.9,356.1 1297.3,355.8 1297.7,355.5 1298.1,355.3 1298.5,355.0 1298.9,354.8 1299.3,354.6 1299.7,354.5 1300.1,354.4 1300.4,354.3 1300.8,354.3 1301.2,354.3 1301.6,354.4 1302.0,354.5 1302.4,354.7 1302.8,354.9 1303.2,355.1 1303.6,355.4 1304.0,355.7 1304.4,356.0 1304.8,356.3 1305.2,356.7 1305.6,357.0 1306.0,357.4 1306.4,357.7 1306.7,358.1 1307.1,358.4 1307.5,358.7 1307.9,359.0 1308.3,359.3 1308.7,359.5 1309.1,359.7 1309.5,359.8 1309.9,359.9 1310.3,360.0 1310.7,360.0 1311.1,360.0 1311.5,359.9 1311.9,359.8 1312.3,359.6 1312.7,359.4 1313.1,359.2 1313.4,358.9 1313.8,358.6 1314.2,358.2 1314.6,357.9 1315.0,357.5 1315.4,357.2 1315.8,356.8 1316.2,356.4 1316.6,356.1 1317.0,355.7 1317.4,355.4 1317.8,355.1 1318.2,354.8 1318.6,354.6 1319.0,354.4 1319.4,354.3 1319.7,354.2 1320.1,354.1 1320.5,354.1 1320.9,354.1 1321.3,354.2 1321.7,354.3 1322.1,354.5 1322.5,354.7 1322.9,355.0 1323.3,355.2 1323.7,355.6 1324.1,355.9 1324.5,356.3 1324.9,356.6 1325.3,357.0 1325.7,357.4 1326.0,357.8 1326.4,358.2 1326.8,358.5 1327.2,358.9 1327.6,359.2 1328.0,359.4 1328.4,359.7 1328.8,359.9 1329.2,360.1 1329.6,360.2 1330.0,360.2 1330.4,360.2 1330.8,360.2 1331.2,360.1 1331.6,360.0 1332.0,359.8 1332.4,359.6 1332.7,359.3 1333.1,359.0 1333.5,358.7 1333.9,358.4 1334.3,358.0 1334.7,357.6 1335.1,357.2 1335.5,356.8 1335.9,356.4 1336.3,356.0 1336.7,355.6 1337.1,355.3 1337.5,354.9 1337.9,354.7 1338.3,354.4 1338.7,354.2 1339.0,354.0 1339.4,353.9 1339.8,353.8 1340.2,353.8 1340.6,353.9 1341.0,353.9 1341.4,354.1 1341.8,354.3 1342.2,354.5 1342.6,354.8 1343.0,355.1 1343.4,355.4 1343.8,355.8 1344.2,356.2 1344.6,356.6 1345.0,357.0 1345.4,357.4 1345.7,357.8 1346.1,358.3 1346.5,358.6 1346.9,359.0 1347.3,359.4 1347.7,359.7 1348.1,359.9 1348.5,360.1 1348.9,360.3 1349.3,360.4 1349.7,360.5 1350.1,360.5 1350.5,360.5 1350.9,360.4 1351.3,360.3 1351.7,360.1 1352.0,359.8 1352.4,359.6 1352.8,359.2 1353.2,358.9 1353.6,358.5 1354.0,358.1 1354.4,357.6 1354.8,357.2 1355.2,356.8 1355.6,356.3 1356.0,355.9 1356.4,355.5 1356.8,355.1 1357.2,354.7 1357.6,354.4 1358.0,354.1 1358.3,353.9 1358.7,353.7 1359.1,353.6 1359.5,353.5 1359.9,353.5 1360.3,353.5 1360.7,353.6 1361.1,353.8 1361.5,354.0 1361.9,354.2 1362.3,354.5 1362.7,354.9 1363.1,355.2 1363.5,355.6 1363.9,356.1 1364.3,356.5 1364.7,357.0 1365.0,357.4 1365.4,357.9 1365.8,358.4 1366.2,358.8 1366.6,359.2 1367.0,359.6 1367.4,359.9 1367.8,360.2 1368.2,360.4 1368.6,360.6 1369.0,360.8 1369.4,360.9 1369.8,360.9 1370.2,360.9 1370.6,360.8 1371.0,360.6 1371.3,360.4 1371.7,360.1 1372.1,359.8 1372.5,359.5 1372.9,359.1 1373.3,358.6 1373.7,358.2 1374.1,357.7 1374.5,357.2 1374.9,356.7 1375.3,356.3 1375.7,355.8 1376.1,355.3 1376.5,354.9 1376.9,354.5 1377.3,354.1 1377.7,353.8 1378.0,353.6 1378.4,353.4 1378.8,353.2 1379.2,353.1 1379.6,353.1 1380.0,353.1 1380.4,353.2 1380.8,353.4 1381.2,353.6 1381.6,353.9 1382.0,354.2 1382.4,354.6 1382.8,355.0 1383.2,355.5 1383.6,355.9 1384.0,356.4 1384.3,357.0 1384.7,357.5 1385.1,358.0 1385.5,358.5 1385.9,359.0 1386.3,359.4 1386.7,359.8 1387.1,360.2 1387.5,360.5 1387.9,360.8 1388.3,361.0 1388.7,361.2 1389.1,361.3 1389.5,361.3 1389.9,361.3 1390.3,361.2 1390.6,361.0 1391.0,360.8 1391.4,360.5 1391.8,360.1 1392.2,359.7 1392.6,359.3 1393.0,358.8 1393.4,358.3 1393.8,357.8 1394.2,357.3 1394.6,356.7 1395.0,356.2 1395.4,355.6 1395.8,355.1 1396.2,354.6 1396.6,354.2 1397.0,353.8 1397.3,353.5 1397.7,353.2 1398.1,352.9 1398.5,352.8 1398.9,352.7 1399.3,352.6 1399.7,352.7 1400.1,352.8 1400.5,352.9 1400.9,353.2 1401.3,353.5 1401.7,353.9 1402.1,354.3 1402.5,354.8 1402.9,355.3 1403.3,355.8 1403.6,356.4 1404.0,356.9 1404.4,357.5 1404.8,358.1 1405.2,358.6 1405.6,359.2 1406.0,359.7 1406.4,360.2 1406.8,360.6 1407.2,361.0 1407.6,361.3 1408.0,361.5 1408.4,361.7 1408.8,361.8 1409.2,361.9 1409.6,361.8 1410.0,361.7 1410.3,361.5 1410.7,361.3 1411.1,360.9 1411.5,360.6 1411.9,360.1 1412.3,359.6 1412.7,359.1 1413.1,358.5 1413.5,357.9 1413.9,357.3 1414.3,356.7 1414.7,356.1 1415.1,355.5 1415.5,354.9 1415.9,354.3 1416.3,353.8 1416.6,353.4 1417.0,353.0 1417.4,352.6 1417.8,352.4 1418.2,352.2 1418.6,352.0 1419.0,352.0 1419.4,352.0 1419.8,352.2 1420.2,352.4 1420.6,352.6 1421.0,353.0 1421.4,353.4 1421.8,353.9 1422.2,354.4 1422.6,355.0 1422.9,355.6 1423.3,356.2 1423.7,356.9 1424.1,357.5 1424.5,358.2 1424.9,358.9 1425.3,359.5 1425.7,360.1 1426.1,360.6 1426.5,361.1 1426.9,361.5 1427.3,361.9 1427.7,362.2 1428.1,362.4 1428.5,362.5 1428.9,362.6 1429.3,362.5 1429.6,362.4 1430.0,362.2 1430.4,361.9 1430.8,361.5 1431.2,361.1 1431.6,360.6 1432.0,360.0 1432.4,359.4 1432.8,358.7 1433.2,358.0 1433.6,357.3 1434.0,356.6 1434.4,355.9 1434.8,355.2 1435.2,354.5 1435.6,353.9 1435.9,353.3 1436.3,352.8 1436.7,352.3 1437.1,351.9 1437.5,351.6 1437.9,351.4 1438.3,351.2 1438.7,351.2 1439.1,351.2 1439.5,351.4 1439.9,351.6 1440.3,351.9 1440.7,352.3 1441.1,352.8 1441.5,353.3 1441.9,353.9 1442.3,354.6 1442.6,355.3 1443.0,356.1 1443.4,356.8 1443.8,357.6 1444.2,358.4 1444.6,359.1 1445.0,359.9 1445.4,360.5 1445.8,361.2 1446.2,361.8 1446.6,362.3 1447.0,362.7 1447.4,363.1 1447.8,363.3 1448.2,363.5 1448.6,363.5 1448.9,363.5 1449.3,363.3 1449.7,363.1 1450.1,362.8 1450.5,362.3 1450.9,361.8 1451.3,361.2 1451.7,360.5 1452.1,359.8 1452.5,359.0 1452.9,358.2 1453.3,357.4 1453.7,356.6 1454.1,355.7 1454.5,354.9 1454.9,354.1 1455.2,353.3 1455.6,352.6 1456.0,352.0 1456.4,351.4 1456.8,351.0 1457.2,350.6 1457.6,350.3 1458.0,350.1 1458.4,350.1 1458.8,350.1 1459.2,350.3 1459.6,350.5 1460.0,350.9 1460.4,351.4 1460.8,351.9 1461.2,352.6 1461.6,353.3 1461.9,354.1 1462.3,354.9 1462.7,355.8 1463.1,356.8 1463.5,357.7 1463.9,358.6 1464.3,359.5 1464.7,360.4 1465.1,361.2 1465.5,362.0 1465.9,362.7 1466.3,363.3 1466.7,363.9 1467.1,364.3 1467.5,364.6 1467.9,364.8 1468.2,364.9 1468.6,364.8 1469.0,364.7 1469.4,364.4 1469.8,364.0 1470.2,363.5 1470.6,362.8 1471.0,362.1 1471.4,361.3 1471.8,360.4 1472.2,359.5 1472.6,358.5 1473.0,357.5 1473.4,356.5 1473.8,355.4 1474.2,354.4 1474.6,353.4 1474.9,352.5 1475.3,351.6 1475.7,350.9 1476.1,350.2 1476.5,349.6 1476.9,349.1 1477.3,348.7 1477.7,348.5 1478.1,348.4 1478.5,348.4 1478.9,348.6 1479.3,348.9 1479.7,349.4 1480.1,350.0 1480.5,350.7 1480.9,351.5 1481.2,352.4 1481.6,353.3 1482.0,354.4 1482.4,355.5 1482.8,356.6 1483.2,357.8 1483.6,359.0 1484.0,360.1 1484.4,361.2 1484.8,362.3 1485.2,363.2 1485.6,364.1 1486.0,364.9 1486.4,365.6 1486.8,366.2 1487.2,366.6 1487.5,366.8 1487.9,367.0 1488.3,366.9 1488.7,366.7 1489.1,366.4 1489.5,365.9 1489.9,365.2 1490.3,364.4 1490.7,363.5 1491.1,362.5 1491.5,361.4 1491.9,360.2 1492.3,358.9 1492.7,357.6 1493.1,356.3 1493.5,355.0 1493.9,353.7 1494.2,352.4 1494.6,351.2 1495.0,350.1 1495.4,349.0 1495.8,348.1 1496.2,347.3 1496.6,346.7 1497.0,346.2 1497.4,345.9 1497.8,345.7 1498.2,345.8 1498.6,346.0 1499.0,346.4 1499.4,346.9 1499.8,347.7 1500.2,348.6 1500.5,349.6 1500.9,350.8 1501.3,352.1 1501.7,353.5 1502.1,354.9 1502.5,356.4 1502.9,358.0 1503.3,359.5 1503.7,361.1 1504.1,362.6 1504.5,364.0 1504.9,365.3 1505.3,366.6 1505.7,367.7 1506.1,368.6 1506.5,369.4 1506.9,370.0 1507.2,370.4 1507.6,370.5 1508.0,370.5 1508.4,370.3 1508.8,369.8 1509.2,369.2 1509.6,368.3 1510.0,367.3 1510.4,366.0 1510.8,364.6 1511.2,363.1 1511.6,361.5 1512.0,359.7 1512.4,357.9 1512.8,356.1 1513.2,354.2 1513.5,352.3 1513.9,350.5 1514.3,348.8 1514.7,347.2 1515.1,345.7 1515.5,344.3 1515.9,343.1 1516.3,342.2 1516.7,341.4 1517.1,340.9 1517.5,340.7 1517.9,340.7 1518.3,340.9 1518.7,341.5 1519.1,342.2 1519.5,343.3 1519.8,344.5 1520.2,346.0 1520.6,347.7 1521.0,349.6 1521.4,351.6 1521.8,353.8 1522.2,356.1 1522.6,358.4 1523.0,360.7 1523.4,363.1 1523.8,365.4 1524.2,367.6 1524.6,369.7 1525.0,371.6 1525.4,373.3 1525.8,374.9 1526.2,376.1 1526.5,377.1 1526.9,377.8 1527.3,378.2 1527.7,378.3 1528.1,378.0 1528.5,377.4 1528.9,376.4 1529.3,375.2 1529.7,373.5 1530.1,371.6 1530.5,369.5 1530.9,367.0 1531.3,364.4 1531.7,361.5 1532.1,358.5 1532.5,355.4 1532.8,352.3 1533.2,349.1 1533.6,346.0 1534.0,343.0 1534.4,340.1 1534.8,337.4 1535.2,334.9 1535.6,332.7 1536.0,330.8 1536.4,329.3 1536.8,328.2 1537.2,327.5 1537.6,327.3 1538.0,327.5 1538.4,328.3 1538.8,329.5 1539.2,331.2 1539.5,333.3 1539.9,336.0 1540.3,339.0 1540.7,342.5 1541.1,346.3 1541.5,350.5 1541.9,354.9 1542.3,359.6 1542.7,364.4 1543.1,369.2 1543.5,374.1 1543.9,379.0 1544.3,383.7 1544.7,388.1 1545.1,392.3 1545.5,396.2 1545.8,399.6 1546.2,402.4 1546.6,404.7 1547.0,406.4 1547.4,407.3 1547.8,407.5 1548.2,406.9 1548.6,405.4 1549.0,403.0 1549.4,399.8 1549.8,395.6 1550.2,390.6 1550.6,384.6 1551.0,377.8 1551.4,370.1 1551.8,361.5 1552.1,352.2 1552.5,342.3 1552.9,331.6 1553.3,320.4 1553.7,308.7 1554.1,296.6 1554.5,284.2 1554.9,271.6 1555.3,258.9 1555.7,246.2 1556.1,233.6 1556.5,221.3 1556.9,209.3 1557.3,197.7 1557.7,186.7 1558.1,176.3 1558.5,166.6 1558.8,157.8 1559.2,149.9 1559.6,143.0 1560.0,137.2 1560.4,132.4 1560.8,128.8 1561.2,126.4 1561.6,125.1 1562.0,125.1 1562.4,126.4 1562.8,128.8 1563.2,132.4 1563.6,137.2 1564.0,143.0 1564.4,149.9 1564.8,157.8 1565.1,166.6 1565.5,176.3 1565.9,186.7 1566.3,197.7 1566.7,209.3 1567.1,221.3 1567.5,233.6 1567.9,246.2 1568.3,258.9 1568.7,271.6 1569.1,284.2 1569.5,296.6 1569.9,308.7 1570.3,320.4 1570.7,331.6 1571.1,342.3 1571.5,352.2 1571.8,361.5 1572.2,370.1 1572.6,377.8 1573.0,384.6 1573.4,390.6 1573.8,395.6 1574.2,399.8 1574.6,403.0 1575.0,405.4 1575.4,406.9 1575.8,407.5 1576.2,407.3 1576.6,406.4 1577.0,404.7 1577.4,402.4 1577.8,399.6 1578.1,396.2 1578.5,392.3 1578.9,388.1 1579.3,383.7 1579.7,379.0 1580.1,374.1 1580.5,369.2 1580.9,364.4 1581.3,359.6 1581.7,354.9 1582.1,350.5 1582.5,346.3 1582.9,342.5 1583.3,339.0 1583.7,336.0 1584.1,333.3 1584.4,331.2 1584.8,329.5 1585.2,328.3 1585.6,327.5 1586.0,327.3 1586.4,327.5 1586.8,328.2 1587.2,329.3 1587.6,330.8 1588.0,332.7 1588.4,334.9 1588.8,337.4 1589.2,340.1 1589.6,343.0 1590.0,346.0 1590.4,349.1 1590.8,352.3 1591.1,355.4 1591.5,358.5 1591.9,361.5 1592.3,364.4 1592.7,367.0 1593.1,369.5 1593.5,371.6 1593.9,373.5 1594.3,375.2 1594.7,376.4 1595.1,377.4 1595.5,378.0 1595.9,378.3 1596.3,378.2 1596.7,377.8 1597.1,377.1 1597.4,376.1 1597.8,374.9 1598.2,373.3 1598.6,371.6 1599.0,369.7 1599.4,367.6 1599.8,365.4 1600.2,363.1 1600.6,360.7 1601.0,358.4 1601.4,356.1 1601.8,353.8 1602.2,351.6 1602.6,349.6 1603.0,347.7 1603.4,346.0 1603.8,344.5 1604.1,343.3 1604.5,342.2 1604.9,341.5 1605.3,340.9 1605.7,340.7 1606.1,340.7 1606.5,340.9 1606.9,341.4 1607.3,342.2 1607.7,343.1 1608.1,344.3 1608.5,345.7 1608.9,347.2 1609.3,348.8 1609.7,350.5 1610.1,352.3 1610.4,354.2 1610.8,356.1 1611.2,357.9 1611.6,359.7 1612.0,361.5 1612.4,363.1 1612.8,364.6 1613.2,366.0 1613.6,367.3 1614.0,368.3 1614.4,369.2 1614.8,369.8 1615.2,370.3 1615.6,370.5 1616.0,370.5 1616.4,370.4 1616.7,370.0 1617.1,369.4 1617.5,368.6 1617.9,367.7 1618.3,366.6 1618.7,365.3 1619.1,364.0 1619.5,362.6 1619.9,361.1 1620.3,359.5 1620.7,358.0 1621.1,356.4 1621.5,354.9 1621.9,353.5 1622.3,352.1 1622.7,350.8 1623.1,349.6 1623.4,348.6 1623.8,347.7 1624.2,346.9 1624.6,346.4 1625.0,346.0 1625.4,345.8 1625.8,345.7 1626.2,345.9 1626.6,346.2 1627.0,346.7 1627.4,347.3 1627.8,348.1 1628.2,349.0 1628.6,350.1 1629.0,351.2 1629.4,352.4 1629.7,353.7 1630.1,355.0 1630.5,356.3 1630.9,357.6 1631.3,358.9 1631.7,360.2 1632.1,361.4 1632.5,362.5 1632.9,363.5 1633.3,364.4 1633.7,365.2 1634.1,365.9 1634.5,366.4 1634.9,366.7 1635.3,366.9 1635.7,367.0 1636.1,366.8 1636.4,366.6 1636.8,366.2 1637.2,365.6 1637.6,364.9 1638.0,364.1 1638.4,363.2 1638.8,362.3 1639.2,361.2 1639.6,360.1 1640.0,359.0 1640.4,357.8 1640.8,356.6 1641.2,355.5 1641.6,354.4 1642.0,353.3 1642.4,352.4 1642.7,351.5 1643.1,350.7 1643.5,350.0 1643.9,349.4 1644.3,348.9 1644.7,348.6 1645.1,348.4 1645.5,348.4 1645.9,348.5 1646.3,348.7 1646.7,349.1 1647.1,349.6 1647.5,350.2 1647.9,350.9 1648.3,351.6 1648.7,352.5 1649.0,353.4 1649.4,354.4 1649.8,355.4 1650.2,356.5 1650.6,357.5 1651.0,358.5 1651.4,359.5 1651.8,360.4 1652.2,361.3 1652.6,362.1 1653.0,362.8 1653.4,363.5 1653.8,364.0 1654.2,364.4 1654.6,364.7 1655.0,364.8 1655.4,364.9 1655.7,364.8 1656.1,364.6 1656.5,364.3 1656.9,363.9 1657.3,363.3 1657.7,362.7 1658.1,362.0 1658.5,361.2 1658.9,360.4 1659.3,359.5 1659.7,358.6 1660.1,357.7 1660.5,356.8 1660.9,355.8 1661.3,354.9 1661.7,354.1 1662.0,353.3 1662.4,352.6 1662.8,351.9 1663.2,351.4 1663.6,350.9 1664.0,350.5 1664.4,350.3 1664.8,350.1 1665.2,350.1 1665.6,350.1 1666.0,350.3 1666.4,350.6 1666.8,351.0 1667.2,351.4 1667.6,352.0 1668.0,352.6 1668.4,353.3 1668.7,354.1 1669.1,354.9 1669.5,355.7 1669.9,356.6 1670.3,357.4 1670.7,358.2 1671.1,359.0 1671.5,359.8 1671.9,360.5 1672.3,361.2 1672.7,361.8 1673.1,362.3 1673.5,362.8 1673.9,363.1 1674.3,363.3 1674.7,363.5 1675.0,363.5 1675.4,363.5 1675.8,363.3 1676.2,363.1 1676.6,362.7 1677.0,362.3 1677.4,361.8 1677.8,361.2 1678.2,360.5 1678.6,359.9 1679.0,359.1 1679.4,358.4 1679.8,357.6 1680.2,356.8 1680.6,356.1 1681.0,355.3 1681.3,354.6 1681.7,353.9 1682.1,353.3 1682.5,352.8 1682.9,352.3 1683.3,351.9 1683.7,351.6 1684.1,351.4 1684.5,351.2 1684.9,351.2 1685.3,351.2 1685.7,351.4 1686.1,351.6 1686.5,351.9 1686.9,352.3 1687.3,352.8 1687.7,353.3 1688.0,353.9 1688.4,354.5 1688.8,355.2 1689.2,355.9 1689.6,356.6 1690.0,357.3 1690.4,358.0 1690.8,358.7 1691.2,359.4 1691.6,360.0 1692.0,360.6 1692.4,361.1 1692.8,361.5 1693.2,361.9 1693.6,362.2 1694.0,362.4 1694.3,362.5 1694.7,362.6 1695.1,362.5 1695.5,362.4 1695.9,362.2 1696.3,361.9 1696.7,361.5 1697.1,361.1 1697.5,360.6 1697.9,360.1 1698.3,359.5 1698.7,358.9 1699.1,358.2 1699.5,357.5 1699.9,356.9 1700.3,356.2 1700.7,355.6 1701.0,355.0 1701.4,354.4 1701.8,353.9 1702.2,353.4 1702.6,353.0 1703.0,352.6 1703.4,352.4 1703.8,352.2 1704.2,352.0 1704.6,352.0 1705.0,352.0 1705.4,352.2 1705.8,352.4 1706.2,352.6 1706.6,353.0 1707.0,353.4 1707.3,353.8 1707.7,354.3 1708.1,354.9 1708.5,355.5 1708.9,356.1 1709.3,356.7 1709.7,357.3 1710.1,357.9 1710.5,358.5 1710.9,359.1 1711.3,359.6 1711.7,360.1 1712.1,360.6 1712.5,360.9 1712.9,361.3 1713.3,361.5 1713.6,361.7 1714.0,361.8 1714.4,361.9 1714.8,361.8 1715.2,361.7 1715.6,361.5 1716.0,361.3 1716.4,361.0 1716.8,360.6 1717.2,360.2 1717.6,359.7 1718.0,359.2 1718.4,358.6 1718.8,358.1 1719.2,357.5 1719.6,356.9 1720.0,356.4 1720.3,355.8 1720.7,355.3 1721.1,354.8 1721.5,354.3 1721.9,353.9 1722.3,353.5 1722.7,353.2 1723.1,352.9 1723.5,352.8 1723.9,352.7 1724.3,352.6 1724.7,352.7 1725.1,352.8 1725.5,352.9 1725.9,353.2 1726.3,353.5 1726.6,353.8 1727.0,354.2 1727.4,354.6 1727.8,355.1 1728.2,355.6 1728.6,356.2 1729.0,356.7 1729.4,357.3 1729.8,357.8 1730.2,358.3 1730.6,358.8 1731.0,359.3 1731.4,359.7 1731.8,360.1 1732.2,360.5 1732.6,360.8 1733.0,361.0 1733.3,361.2 1733.7,361.3 1734.1,361.3 1734.5,361.3 1734.9,361.2 1735.3,361.0 1735.7,360.8 1736.1,360.5 1736.5,360.2 1736.9,359.8 1737.3,359.4 1737.7,359.0 1738.1,358.5 1738.5,358.0 1738.9,357.5 1739.3,357.0 1739.6,356.4 1740.0,355.9 1740.4,355.5 1740.8,355.0 1741.2,354.6 1741.6,354.2 1742.0,353.9 1742.4,353.6 1742.8,353.4 1743.2,353.2 1743.6,353.1 1744.0,353.1 1744.4,353.1 1744.8,353.2 1745.2,353.4 1745.6,353.6 1745.9,353.8 1746.3,354.1 1746.7,354.5 1747.1,354.9 1747.5,355.3 1747.9,355.8 1748.3,356.3 1748.7,356.7 1749.1,357.2 1749.5,357.7 1749.9,358.2 1750.3,358.6 1750.7,359.1 1751.1,359.5 1751.5,359.8 1751.9,360.1 1752.3,360.4 1752.6,360.6 1753.0,360.8 1753.4,360.9 1753.8,360.9 1754.2,360.9 1754.6,360.8 1755.0,360.6 1755.4,360.4 1755.8,360.2 1756.2,359.9 1756.6,359.6 1757.0,359.2 1757.4,358.8 1757.8,358.4 1758.2,357.9 1758.6,357.4 1758.9,357.0 1759.3,356.5 1759.7,356.1 1760.1,355.6 1760.5,355.2 1760.9,354.9 1761.3,354.5 1761.7,354.2 1762.1,354.0 1762.5,353.8 1762.9,353.6 1763.3,353.5 1763.7,353.5 1764.1,353.5 1764.5,353.6 1764.9,353.7 1765.3,353.9 1765.6,354.1 1766.0,354.4 1766.4,354.7 1766.8,355.1 1767.2,355.5 1767.6,355.9 1768.0,356.3 1768.4,356.8 1768.8,357.2 1769.2,357.6 1769.6,358.1 1770.0,358.5 1770.4,358.9 1770.8,359.2 1771.2,359.6 1771.6,359.8 1771.9,360.1 1772.3,360.3 1772.7,360.4 1773.1,360.5 1773.5,360.5 1773.9,360.5 1774.3,360.4 1774.7,360.3 1775.1,360.1 1775.5,359.9 1775.9,359.7 1776.3,359.4 1776.7,359.0 1777.1,358.6 1777.5,358.3 1777.9,357.8 1778.2,357.4 1778.6,357.0 1779.0,356.6 1779.4,356.2 1779.8,355.8 1780.2,355.4 1780.6,355.1 1781.0,354.8 1781.4,354.5 1781.8,354.3 1782.2,354.1 1782.6,353.9 1783.0,353.9 1783.4,353.8 1783.8,353.8 1784.2,353.9 1784.6,354.0 1784.9,354.2 1785.3,354.4 1785.7,354.7 1786.1,354.9 1786.5,355.3 1786.9,355.6 1787.3,356.0 1787.7,356.4 1788.1,356.8 1788.5,357.2 1788.9,357.6 1789.3,358.0 1789.7,358.4 1790.1,358.7 1790.5,359.0 1790.9,359.3 1791.2,359.6 1791.6,359.8 1792.0,360.0 1792.4,360.1 1792.8,360.2 1793.2,360.2 1793.6,360.2 1794.0,360.2 1794.4,360.1 1794.8,359.9 1795.2,359.7 1795.6,359.4 1796.0,359.2 1796.4,358.9 1796.8,358.5 1797.2,358.2 1797.6,357.8 1797.9,357.4 1798.3,357.0 1798.7,356.6 1799.1,356.3 1799.5,355.9 1799.9,355.6 1800.3,355.2 1800.7,355.0 1801.1,354.7 1801.5,354.5 1801.9,354.3 1802.3,354.2 1802.7,354.1 1803.1,354.1 1803.5,354.1 1803.9,354.2 1804.2,354.3 1804.6,354.4 1805.0,354.6 1805.4,354.8 1805.8,355.1 1806.2,355.4 1806.6,355.7 1807.0,356.1 1807.4,356.4 1807.8,356.8 1808.2,357.2 1808.6,357.5 1809.0,357.9 1809.4,358.2 1809.8,358.6 1810.2,358.9 1810.5,359.2 1810.9,359.4 1811.3,359.6 1811.7,359.8 1812.1,359.9 1812.5,360.0 1812.9,360.0 1813.3,360.0 1813.7,359.9 1814.1,359.8 1814.5,359.7 1814.9,359.5 1815.3,359.3 1815.7,359.0 1816.1,358.7 1816.5,358.4 1816.9,358.1 1817.2,357.7 1817.6,357.4 1818.0,357.0 1818.4,356.7 1818.8,356.3 1819.2,356.0 1819.6,355.7 1820.0,355.4 1820.4,355.1 1820.8,354.9 1821.2,354.7 1821.6,354.5 1822.0,354.4 1822.4,354.3 1822.8,354.3 1823.2,354.3 1823.5,354.4 1823.9,354.5 1824.3,354.6 1824.7,354.8 1825.1,355.0 1825.5,355.3 1825.9,355.5 1826.3,355.8 1826.7,356.1 1827.1,356.5 1827.5,356.8 1827.9,357.2 1828.3,357.5 1828.7,357.8 1829.1,358.2 1829.5,358.5 1829.9,358.7 1830.2,359.0 1830.6,359.2 1831.0,359.4 1831.4,359.6 1831.8,359.7 1832.2,359.8 1832.6,359.8 1833.0,359.8 1833.4,359.7 1833.8,359.6 1834.2,359.5 1834.6,359.3 1835.0,359.1 1835.4,358.9 1835.8,358.6 1836.2,358.3 1836.5,358.0 1836.9,357.7 1837.3,357.4 1837.7,357.1 1838.1,356.7 1838.5,356.4 1838.9,356.1 1839.3,355.8 1839.7,355.5 1840.1,355.3 1840.5,355.1 1840.9,354.9 1841.3,354.7 1841.7,354.6 1842.1,354.5 1842.5,354.5 1842.8,354.5 1843.2,354.6 1843.6,354.7 1844.0,354.8 1844.4,355.0 1844.8,355.1 1845.2,355.4 1845.6,355.6 1846.0,355.9 1846.4,356.2 1846.8,356.5 1847.2,356.8 1847.6,357.1 1848.0,357.5 1848.4,357.8 1848.8,358.1 1849.2,358.4 1849.5,358.6 1849.9,358.9 1850.3,359.1 1850.7,359.2 1851.1,359.4 1851.5,359.5 1851.9,359.6 1852.3,359.6 1852.7,359.6 1853.1,359.5 1853.5,359.5 1853.9,359.3 1854.3,359.2 1854.7,359.0 1855.1,358.8 1855.5,358.5 1855.8,358.3 1856.2,358.0 1856.6,357.7 1857.0,357.4 1857.4,357.1 1857.8,356.8 1858.2,356.5 1858.6,356.2 1859.0,355.9 1859.4,355.6 1859.8,355.4 1860.2,355.2 1860.6,355.0 1861.0,354.9 1861.4,354.8 1861.8,354.7 1862.2,354.7 1862.5,354.7 1862.9,354.7 1863.3,354.8 1863.7,354.9 1864.1,355.1 1864.5,355.3 1864.9,355.5 1865.3,355.7 1865.7,356.0 1866.1,356.3 1866.5,356.5 1866.9,356.8 1867.3,357.1 1867.7,357.4 1868.1,357.7 1868.5,358.0 1868.8,358.3 1869.2,358.5 1869.6,358.7 1870.0,358.9 1870.4,359.1 1870.8,359.2 1871.2,359.3 1871.6,359.4 1872.0,359.4 1872.4,359.4 1872.8,359.4 1873.2,359.3 1873.6,359.2 1874.0,359.1 1874.4,358.9 1874.8,358.7 1875.1,358.4 1875.5,358.2 1875.9,357.9 1876.3,357.6 1876.7,357.4 1877.1,357.1 1877.5,356.8 1877.9,356.5 1878.3,356.2 1878.7,356.0 1879.1,355.7 1879.5,355.5 1879.9,355.3 1880.3,355.2 1880.7,355.0 1881.1,354.9 1881.5,354.9 1881.8,354.8 1882.2,354.8 1882.6,354.9 1883.0,355.0 1883.4,355.1 1883.8,355.2 1884.2,355.4 1884.6,355.6 1885.0,355.8 1885.4,356.0 1885.8,356.3 1886.2,356.6 1886.6,356.8 1887.0,357.1 1887.4,357.4 1887.8,357.7 1888.1,357.9 1888.5,358.2 1888.9,358.4 1889.3,358.6 1889.7,358.8 1890.1,359.0 1890.5,359.1 1890.9,359.2 1891.3,359.3 1891.7,359.3 1892.1,359.3 1892.5,359.3 1892.9,359.2 1893.3,359.1 1893.7,358.9 1894.1,358.8 1894.5,358.6 1894.8,358.4 1895.2,358.1 1895.6,357.9 1896.0,357.6 1896.4,357.4 1896.8,357.1 1897.2,356.8 1897.6,356.5 1898.0,356.3 1898.4,356.0 1898.8,355.8 1899.2,355.6 1899.6,355.4 1900.0,355.3 1900.4,355.1 1900.8,355.1 1901.1,355.0 1901.5,355.0 1901.9,355.0 1902.3,355.0 1902.7,355.1 1903.1,355.2 1903.5,355.3 1903.9,355.5 1904.3,355.7 1904.7,355.9 1905.1,356.1 1905.5,356.3 1905.9,356.6 1906.3,356.9 1906.7,357.1 1907.1,357.4 1907.4,357.6 1907.8,357.9 1908.2,358.1 1908.6,358.3 1909.0,358.5 1909.4,358.7 1909.8,358.9 1910.2,359.0 1910.6,359.1 1911.0,359.2 1911.4,359.2 1911.8,359.2 1912.2,359.1 1912.6,359.1 1913.0,359.0 1913.4,358.8 1913.8,358.7 1914.1,358.5 1914.5,358.3 1914.9,358.1 1915.3,357.8 1915.7,357.6 1916.1,357.3 1916.5,357.1 1916.9,356.8 1917.3,356.6 1917.7,356.3 1918.1,356.1 1918.5,355.9 1918.9,355.7 1919.3,355.5 1919.7,355.4 1920.1,355.3 1920.4,355.2 1920.8,355.1 1921.2,355.1 1921.6,355.1 1922.0,355.1 1922.4,355.2 1922.8,355.3 1923.2,355.4 1923.6,355.6 1924.0,355.7 1924.4,355.9 1924.8,356.1 1925.2,356.4 1925.6,356.6 1926.0,356.9 1926.4,357.1 1926.8,357.4 1927.1,357.6 1927.5,357.8 1927.9,358.1 1928.3,358.3 1928.7,358.5 1929.1,358.6 1929.5,358.8 1929.9,358.9 1930.3,359.0 1930.7,359.0 1931.1,359.1 1931.5,359.1 1931.9,359.0 1932.3,359.0 1932.7,358.9 1933.1,358.8 1933.4,358.6 1933.8,358.4 1934.2,358.2 1934.6,358.0 1935.0,357.8 1935.4,357.6 1935.8,357.3 1936.2,357.1 1936.6,356.9 1937.0,356.6 1937.4,356.4 1937.8,356.2 1938.2,356.0 1938.6,355.8 1939.0,355.6 1939.4,355.5 1939.7,355.4 1940.1,355.3 1940.5,355.2 1940.9,355.2 1941.3,355.2 1941.7,355.2 1942.1,355.3 1942.5,355.4 1942.9,355.5 1943.3,355.6 1943.7,355.8 1944.1,356.0 1944.5,356.2 1944.9,356.4 1945.3,356.6 1945.7,356.9 1946.1,357.1 1946.4,357.3 1946.8,357.6 1947.2,357.8 1947.6,358.0 1948.0,358.2 1948.4,358.4 1948.8,358.6 1949.2,358.7 1949.6,358.8 1950.0,358.9 1950.4,358.9 1950.8,359.0 1951.2,359.0 1951.6,358.9 1952.0,358.9 1952.4,358.8 1952.7,358.7 1953.1,358.5 1953.5,358.4 1953.9,358.2 1954.3,358.0 1954.7,357.8 1955.1,357.6 1955.5,357.3 1955.9,357.1"/>
<polyline stroke="#1A6FDF" points="1167.7,357.1 1168.2,357.4 1168.8,357.6 1169.3,357.9 1169.8,358.1 1170.3,358.4 1170.9,358.6 1171.4,358.8 1171.9,358.9 1172.4,359.1 1173.0,359.2 1173.5,359.2 1174.0,359.3 1174.5,359.3 1175.1,359.2 1175.6,359.2 1176.1,359.1 1176.6,358.9 1177.2,358.8 1177.7,358.6 1178.2,358.4 1178.7,358.2 1179.3,357.9 1179.8,357.7 1180.3,357.4 1180.8,357.1 1181.4,356.8 1181.9,356.6 1182.4,356.3 1182.9,356.0 1183.5,355.8 1184.0,355.6 1184.5,355.4 1185.0,355.2 1185.6,355.1 1186.1,355.0 1186.6,354.9 1187.1,354.9 1187.7,354.9 1188.2,354.9 1188.7,355.0 1189.2,355.1 1189.8,355.2 1190.3,355.4 1190.8,355.5 1191.3,355.8 1191.9,356.0 1192.4,356.3 1192.9,356.5 1193.4,356.8 1194.0,357.1 1194.5,357.4 1195.0,357.7 1195.5,357.9 1196.1,358.2 1196.6,358.4 1197.1,358.7 1197.6,358.9 1198.2,359.0 1198.7,359.2 1199.2,359.3 1199.7,359.4 1200.3,359.4 1200.8,359.4 1201.3,359.4 1201.8,359.3 1202.4,359.2 1202.9,359.1 1203.4,358.9 1203.9,358.7 1204.5,358.5 1205.0,358.2 1205.5,358.0 1206.0,357.7 1206.6,357.4 1207.1,357.1 1207.6,356.8 1208.1,356.5 1208.7,356.2 1209.2,356.0 1209.7,355.7 1210.2,355.5 1210.8,355.3 1211.3,355.1 1211.8,354.9 1212.3,354.8 1212.9,354.7 1213.4,354.7 1213.9,354.7 1214.4,354.7 1215.0,354.8 1215.5,354.9 1216.0,355.0 1216.5,355.2 1217.1,355.4 1217.6,355.6 1218.1,355.9 1218.6,356.2 1219.2,356.5 1219.7,356.8 1220.2,357.1 1220.7,357.4 1221.3,357.7 1221.8,358.0 1222.3,358.3 1222.8,358.5 1223.4,358.8 1223.9,359.0 1224.4,359.2 1224.9,359.3 1225.5,359.5 1226.0,359.6 1226.5,359.6 1227.0,359.6 1227.6,359.6 1228.1,359.5 1228.6,359.4 1229.1,359.2 1229.7,359.1 1230.2,358.9 1230.7,358.6 1231.2,358.3 1231.8,358.1 1232.3,357.8 1232.8,357.4 1233.3,357.1 1233.9,356.8 1234.4,356.5 1234.9,356.2 1235.4,355.9 1236.0,355.6 1236.5,355.4 1237.0,355.1 1237.5,354.9 1238.1,354.8 1238.6,354.6 1239.1,354.5 1239.6,354.5 1240.2,354.5 1240.7,354.5 1241.2,354.6 1241.7,354.7 1242.3,354.9 1242.8,355.0 1243.3,355.3 1243.8,355.5 1244.4,355.8 1244.9,356.1 1245.4,356.4 1245.9,356.7 1246.5,357.1 1247.0,357.4 1247.5,357.7 1248.0,358.1 1248.6,358.4 1249.1,358.7 1249.6,358.9 1250.1,359.2 1250.7,359.4 1251.2,359.5 1251.7,359.7 1252.2,359.8 1252.8,359.8 1253.3,359.8 1253.8,359.8 1254.3,359.7 1254.9,359.6 1255.4,359.4 1255.9,359.2 1256.4,359.0 1257.0,358.8 1257.5,358.5 1258.0,358.2 1258.5,357.8 1259.1,357.5 1259.6,357.1 1260.1,356.8 1260.6,356.4 1261.2,356.1 1261.7,355.8 1262.2,355.5 1262.7,355.2 1263.3,355.0 1263.8,354.7 1264.3,354.6 1264.8,354.4 1265.4,354.3 1265.9,354.3 1266.4,354.3 1266.9,354.3 1267.5,354.4 1268.0,354.5 1268.5,354.7 1269.0,354.9 1269.6,355.1 1270.1,355.4 1270.6,355.7 1271.1,356.0 1271.7,356.3 1272.2,356.7 1272.7,357.1 1273.2,357.4 1273.8,357.8 1274.3,358.1 1274.8,358.5 1275.3,358.8 1275.9,359.1 1276.4,359.3 1276.9,359.6 1277.4,359.8 1278.0,359.9 1278.5,360.0 1279.0,360.1 1279.5,360.1 1280.1,360.0 1280.6,360.0 1281.1,359.8 1281.7,359.7 1282.2,359.5 1282.7,359.2 1283.2,358.9 1283.8,358.6 1284.3,358.3 1284.8,357.9 1285.3,357.5 1285.9,357.2 1286.4,356.8 1286.9,356.4 1287.4,356.0 1288.0,355.7 1288.5,355.3 1289.0,355.0 1289.5,354.8 1290.1,354.5 1290.6,354.3 1291.1,354.2 1291.6,354.1 1292.2,354.0 1292.7,354.0 1293.2,354.0 1293.7,354.1 1294.3,354.2 1294.8,354.4 1295.3,354.6 1295.8,354.9 1296.4,355.2 1296.9,355.5 1297.4,355.9 1297.9,356.2 1298.5,356.6 1299.0,357.0 1299.5,357.4 1300.0,357.8 1300.6,358.2 1301.1,358.6 1301.6,358.9 1302.1,359.3 1302.7,359.6 1303.2,359.8 1303.7,360.0 1304.2,360.2 1304.8,360.3 1305.3,360.4 1305.8,360.4 1306.3,360.3 1306.9,360.3 1307.4,360.1 1307.9,359.9 1308.4,359.7 1309.0,359.4 1309.5,359.1 1310.0,358.8 1310.5,358.4 1311.1,358.0 1311.6,357.6 1312.1,357.2 1312.6,356.8 1313.2,356.3 1313.7,355.9 1314.2,355.5 1314.7,355.2 1315.3,354.8 1315.8,354.5 1316.3,354.3 1316.8,354.0 1317.4,353.9 1317.9,353.7 1318.4,353.7 1318.9,353.6 1319.5,353.7 1320.0,353.8 1320.5,353.9 1321.0,354.1 1321.6,354.4 1322.1,354.6 1322.6,355.0 1323.1,355.3 1323.7,355.7 1324.2,356.1 1324.7,356.6 1325.2,357.0 1325.8,357.5 1326.3,357.9 1326.8,358.3 1327.3,358.7 1327.9,359.1 1328.4,359.5 1328.9,359.8 1329.4,360.1 1330.0,360.3 1330.5,360.5 1331.0,360.7 1331.5,360.7 1332.1,360.8 1332.6,360.7 1333.1,360.6 1333.6,360.5 1334.2,360.3 1334.7,360.0 1335.2,359.7 1335.7,359.4 1336.3,359.0 1336.8,358.6 1337.3,358.1 1337.8,357.7 1338.4,357.2 1338.9,356.7 1339.4,356.3 1339.9,355.8 1340.5,355.4 1341.0,354.9 1341.5,354.6 1342.0,354.2 1342.6,353.9 1343.1,353.7 1343.6,353.5 1344.1,353.3 1344.7,353.2 1345.2,353.2 1345.7,353.3 1346.2,353.4 1346.8,353.5 1347.3,353.7 1347.8,354.0 1348.3,354.3 1348.9,354.7 1349.4,355.1 1349.9,355.5 1350.4,356.0 1351.0,356.5 1351.5,357.0 1352.0,357.5 1352.5,358.0 1353.1,358.5 1353.6,358.9 1354.1,359.4 1354.6,359.8 1355.2,360.2 1355.7,360.5 1356.2,360.7 1356.7,361.0 1357.3,361.1 1357.8,361.2 1358.3,361.2 1358.8,361.2 1359.4,361.1 1359.9,360.9 1360.4,360.7 1360.9,360.4 1361.5,360.1 1362.0,359.7 1362.5,359.2 1363.0,358.8 1363.6,358.3 1364.1,357.8 1364.6,357.2 1365.1,356.7 1365.7,356.2 1366.2,355.6 1366.7,355.1 1367.2,354.7 1367.8,354.2 1368.3,353.8 1368.8,353.5 1369.3,353.2 1369.9,353.0 1370.4,352.8 1370.9,352.7 1371.4,352.7 1372.0,352.7 1372.5,352.8 1373.0,353.0 1373.5,353.3 1374.1,353.6 1374.6,353.9 1375.1,354.3 1375.6,354.8 1376.2,355.3 1376.7,355.8 1377.2,356.4 1377.7,356.9 1378.3,357.5 1378.8,358.1 1379.3,358.7 1379.8,359.2 1380.4,359.7 1380.9,360.2 1381.4,360.6 1381.9,361.0 1382.5,361.3 1383.0,361.5 1383.5,361.7 1384.0,361.8 1384.6,361.8 1385.1,361.8 1385.6,361.7 1386.1,361.5 1386.7,361.2 1387.2,360.9 1387.7,360.5 1388.2,360.1 1388.8,359.6 1389.3,359.1 1389.8,358.5 1390.3,357.9 1390.9,357.3 1391.4,356.7 1391.9,356.0 1392.4,355.4 1393.0,354.9 1393.5,354.3 1394.0,353.8 1394.6,353.3 1395.1,352.9 1395.6,352.6 1396.1,352.3 1396.7,352.1 1397.2,352.0 1397.7,352.0 1398.2,352.0 1398.8,352.1 1399.3,352.3 1399.8,352.6 1400.3,353.0 1400.9,353.4 1401.4,353.9 1401.9,354.4 1402.4,355.0 1403.0,355.6 1403.5,356.2 1404.0,356.9 1404.5,357.6 1405.1,358.2 1405.6,358.9 1406.1,359.5 1406.6,360.1 1407.2,360.7 1407.7,361.2 1408.2,361.6 1408.7,362.0 1409.3,362.3 1409.8,362.5 1410.3,362.6 1410.8,362.7 1411.4,362.6 1411.9,362.5 1412.4,362.3 1412.9,362.0 1413.5,361.6 1414.0,361.2 1414.5,360.6 1415.0,360.1 1415.6,359.4 1416.1,358.8 1416.6,358.1 1417.1,357.3 1417.7,356.6 1418.2,355.9 1418.7,355.2 1419.2,354.5 1419.8,353.8 1420.3,353.2 1420.8,352.7 1421.3,352.2 1421.9,351.8 1422.4,351.4 1422.9,351.2 1423.4,351.1 1424.0,351.0 1424.5,351.0 1425.0,351.2 1425.5,351.4 1426.1,351.7 1426.6,352.2 1427.1,352.6 1427.6,353.2 1428.2,353.8 1428.7,354.5 1429.2,355.3 1429.7,356.0 1430.3,356.8 1430.8,357.6 1431.3,358.4 1431.8,359.2 1432.4,360.0 1432.9,360.7 1433.4,361.4 1433.9,362.0 1434.5,362.5 1435.0,363.0 1435.5,363.3 1436.0,363.6 1436.6,363.8 1437.1,363.8 1437.6,363.8 1438.1,363.6 1438.7,363.4 1439.2,363.0 1439.7,362.6 1440.2,362.0 1440.8,361.4 1441.3,360.7 1441.8,360.0 1442.3,359.1 1442.9,358.3 1443.4,357.4 1443.9,356.5 1444.4,355.6 1445.0,354.7 1445.5,353.9 1446.0,353.1 1446.5,352.3 1447.1,351.7 1447.6,351.1 1448.1,350.6 1448.6,350.1 1449.2,349.8 1449.7,349.6 1450.2,349.6 1450.7,349.6 1451.3,349.8 1451.8,350.0 1452.3,350.4 1452.8,350.9 1453.4,351.5 1453.9,352.2 1454.4,353.0 1454.9,353.9 1455.5,354.8 1456.0,355.7 1456.5,356.7 1457.0,357.7 1457.6,358.7 1458.1,359.7 1458.6,360.7 1459.1,361.6 1459.7,362.4 1460.2,363.2 1460.7,363.9 1461.2,364.5 1461.8,365.0 1462.3,365.3 1462.8,365.5 1463.3,365.6 1463.9,365.6 1464.4,365.4 1464.9,365.1 1465.4,364.7 1466.0,364.1 1466.5,363.4 1467.0,362.6 1467.5,361.8 1468.1,360.8 1468.6,359.8 1469.1,358.7 1469.6,357.5 1470.2,356.4 1470.7,355.2 1471.2,354.1 1471.7,353.0 1472.3,352.0 1472.8,351.0 1473.3,350.1 1473.8,349.3 1474.4,348.6 1474.9,348.1 1475.4,347.6 1475.9,347.4 1476.5,347.3 1477.0,347.3 1477.5,347.5 1478.0,347.8 1478.6,348.3 1479.1,349.0 1479.6,349.7 1480.1,350.6 1480.7,351.7 1481.2,352.8 1481.7,354.0 1482.2,355.3 1482.8,356.6 1483.3,357.9 1483.8,359.3 1484.3,360.6 1484.9,361.9 1485.4,363.1 1485.9,364.3 1486.4,365.3 1487.0,366.3 1487.5,367.1 1488.0,367.7 1488.5,368.2 1489.1,368.6 1489.6,368.7 1490.1,368.7 1490.6,368.5 1491.2,368.1 1491.7,367.5 1492.2,366.8 1492.7,365.9 1493.3,364.8 1493.8,363.6 1494.3,362.3 1494.8,360.9 1495.4,359.3 1495.9,357.8 1496.4,356.2 1496.9,354.5 1497.5,352.9 1498.0,351.4 1498.5,349.9 1499.0,348.5 1499.6,347.2 1500.1,346.0 1500.6,345.0 1501.1,344.2 1501.7,343.5 1502.2,343.1 1502.7,342.9 1503.2,342.9 1503.8,343.1 1504.3,343.6 1504.8,344.2 1505.3,345.1 1505.9,346.2 1506.4,347.5 1506.9,349.0 1507.5,350.6 1508.0,352.4 1508.5,354.3 1509.0,356.2 1509.6,358.2 1510.1,360.3 1510.6,362.3 1511.1,364.3 1511.7,366.2 1512.2,368.0 1512.7,369.7 1513.2,371.2 1513.8,372.5 1514.3,373.6 1514.8,374.5 1515.3,375.1 1515.9,375.4 1516.4,375.4 1516.9,375.2 1517.4,374.7 1518.0,373.8 1518.5,372.7 1519.0,371.3 1519.5,369.7 1520.1,367.8 1520.6,365.7 1521.1,363.4 1521.6,360.9 1522.2,358.3 1522.7,355.6 1523.2,352.9 1523.7,350.2 1524.3,347.4 1524.8,344.8 1525.3,342.3 1525.8,340.0 1526.4,337.8 1526.9,335.9 1527.4,334.3 1527.9,333.0 1528.5,332.1 1529.0,331.5 1529.5,331.3 1530.0,331.5 1530.6,332.1 1531.1,333.2 1531.6,334.7 1532.1,336.5 1532.7,338.8 1533.2,341.5 1533.7,344.5 1534.2,347.8 1534.8,351.4 1535.3,355.2 1535.8,359.3 1536.3,363.4 1536.9,367.6 1537.4,371.9 1537.9,376.1 1538.4,380.1 1539.0,384.0 1539.5,387.6 1540.0,391.0 1540.5,393.9 1541.1,396.4 1541.6,398.4 1542.1,399.8 1542.6,400.6 1543.2,400.7 1543.7,400.2 1544.2,398.9 1544.7,396.9 1545.3,394.0 1545.8,390.4 1546.3,386.1 1546.8,380.9 1547.4,375.0 1547.9,368.3 1548.4,360.9 1548.9,352.9 1549.5,344.2 1550.0,335.0 1550.5,325.3 1551.0,315.1 1551.6,304.7 1552.1,293.9 1552.6,283.0 1553.1,272.0 1553.7,261.0 1554.2,250.1 1554.7,239.5 1555.2,229.0 1555.8,219.0 1556.3,209.5 1556.8,200.5 1557.3,192.1 1557.9,184.5 1558.4,177.7 1558.9,171.7 1559.4,166.6 1560.0,162.5 1560.5,159.4 1561.0,157.3 1561.5,156.2 1562.1,156.2 1562.6,157.3 1563.1,159.4 1563.6,162.5 1564.2,166.6 1564.7,171.7 1565.2,177.7 1565.7,184.5 1566.3,192.1 1566.8,200.5 1567.3,209.5 1567.8,219.0 1568.4,229.0 1568.9,239.5 1569.4,250.1 1569.9,261.0 1570.5,272.0 1571.0,283.0 1571.5,293.9 1572.0,304.7 1572.6,315.1 1573.1,325.3 1573.6,335.0 1574.1,344.2 1574.7,352.9 1575.2,360.9 1575.7,368.3 1576.2,375.0 1576.8,380.9 1577.3,386.1 1577.8,390.4 1578.3,394.0 1578.9,396.9 1579.4,398.9 1579.9,400.2 1580.4,400.7 1581.0,400.6 1581.5,399.8 1582.0,398.4 1582.5,396.4 1583.1,393.9 1583.6,391.0 1584.1,387.6 1584.6,384.0 1585.2,380.1 1585.7,376.1 1586.2,371.9 1586.7,367.6 1587.3,363.4 1587.8,359.3 1588.3,355.2 1588.8,351.4 1589.4,347.8 1589.9,344.5 1590.4,341.5 1590.9,338.8 1591.5,336.5 1592.0,334.7 1592.5,333.2 1593.0,332.1 1593.6,331.5 1594.1,331.3 1594.6,331.5 1595.1,332.1 1595.7,333.0 1596.2,334.3 1596.7,335.9 1597.2,337.8 1597.8,340.0 1598.3,342.3 1598.8,344.8 1599.3,347.4 1599.9,350.2 1600.4,352.9 1600.9,355.6 1601.4,358.3 1602.0,360.9 1602.5,363.4 1603.0,365.7 1603.5,367.8 1604.1,369.7 1604.6,371.3 1605.1,372.7 1605.6,373.8 1606.2,374.7 1606.7,375.2 1607.2,375.4 1607.7,375.4 1608.3,375.1 1608.8,374.5 1609.3,373.6 1609.8,372.5 1610.4,371.2 1610.9,369.7 1611.4,368.0 1611.9,366.2 1612.5,364.3 1613.0,362.3 1613.5,360.3 1614.0,358.2 1614.6,356.2 1615.1,354.3 1615.6,352.4 1616.1,350.6 1616.7,349.0 1617.2,347.5 1617.7,346.2 1618.3,345.1 1618.8,344.2 1619.3,343.6 1619.8,343.1 1620.4,342.9 1620.9,342.9 1621.4,343.1 1621.9,343.5 1622.5,344.2 1623.0,345.0 1623.5,346.0 1624.0,347.2 1624.6,348.5 1625.1,349.9 1625.6,351.4 1626.1,352.9 1626.7,354.5 1627.2,356.2 1627.7,357.8 1628.2,359.3 1628.8,360.9 1629.3,362.3 1629.8,363.6 1630.3,364.8 1630.9,365.9 1631.4,366.8 1631.9,367.5 1632.4,368.1 1633.0,368.5 1633.5,368.7 1634.0,368.7 1634.5,368.6 1635.1,368.2 1635.6,367.7 1636.1,367.1 1636.6,366.3 1637.2,365.3 1637.7,364.3 1638.2,363.1 1638.7,361.9 1639.3,360.6 1639.8,359.3 1640.3,357.9 1640.8,356.6 1641.4,355.3 1641.9,354.0 1642.4,352.8 1642.9,351.7 1643.5,350.6 1644.0,349.7 1644.5,349.0 1645.0,348.3 1645.6,347.8 1646.1,347.5 1646.6,347.3 1647.1,347.3 1647.7,347.4 1648.2,347.6 1648.7,348.1 1649.2,348.6 1649.8,349.3 1650.3,350.1 1650.8,351.0 1651.3,352.0 1651.9,353.0 1652.4,354.1 1652.9,355.2 1653.4,356.4 1654.0,357.5 1654.5,358.7 1655.0,359.8 1655.5,360.8 1656.1,361.8 1656.6,362.6 1657.1,363.4 1657.6,364.1 1658.2,364.7 1658.7,365.1 1659.2,365.4 1659.7,365.6 1660.3,365.6 1660.8,365.5 1661.3,365.3 1661.8,365.0 1662.4,364.5 1662.9,363.9 1663.4,363.2 1663.9,362.4 1664.5,361.6 1665.0,360.7 1665.5,359.7 1666.0,358.7 1666.6,357.7 1667.1,356.7 1667.6,355.7 1668.1,354.8 1668.7,353.9 1669.2,353.0 1669.7,352.2 1670.2,351.5 1670.8,350.9 1671.3,350.4 1671.8,350.0 1672.3,349.8 1672.9,349.6 1673.4,349.6 1673.9,349.6 1674.4,349.8 1675.0,350.1 1675.5,350.6 1676.0,351.1 1676.5,351.7 1677.1,352.3 1677.6,353.1 1678.1,353.9 1678.6,354.7 1679.2,355.6 1679.7,356.5 1680.2,357.4 1680.7,358.3 1681.3,359.1 1681.8,360.0 1682.3,360.7 1682.8,361.4 1683.4,362.0 1683.9,362.6 1684.4,363.0 1684.9,363.4 1685.5,363.6 1686.0,363.8 1686.5,363.8 1687.0,363.8 1687.6,363.6 1688.1,363.3 1688.6,363.0 1689.1,362.5 1689.7,362.0 1690.2,361.4 1690.7,360.7 1691.2,360.0 1691.8,359.2 1692.3,358.4 1692.8,357.6 1693.3,356.8 1693.9,356.0 1694.4,355.3 1694.9,354.5 1695.4,353.8 1696.0,353.2 1696.5,352.6 1697.0,352.2 1697.5,351.7 1698.1,351.4 1698.6,351.2 1699.1,351.0 1699.6,351.0 1700.2,351.1 1700.7,351.2 1701.2,351.4 1701.7,351.8 1702.3,352.2 1702.8,352.7 1703.3,353.2 1703.8,353.8 1704.4,354.5 1704.9,355.2 1705.4,355.9 1705.9,356.6 1706.5,357.3 1707.0,358.1 1707.5,358.8 1708.0,359.4 1708.6,360.1 1709.1,360.6 1709.6,361.2 1710.1,361.6 1710.7,362.0 1711.2,362.3 1711.7,362.5 1712.2,362.6 1712.8,362.7 1713.3,362.6 1713.8,362.5 1714.3,362.3 1714.9,362.0 1715.4,361.6 1715.9,361.2 1716.4,360.7 1717.0,360.1 1717.5,359.5 1718.0,358.9 1718.5,358.2 1719.1,357.6 1719.6,356.9 1720.1,356.2 1720.6,355.6 1721.2,355.0 1721.7,354.4 1722.2,353.9 1722.7,353.4 1723.3,353.0 1723.8,352.6 1724.3,352.3 1724.8,352.1 1725.4,352.0 1725.9,352.0 1726.4,352.0 1726.9,352.1 1727.5,352.3 1728.0,352.6 1728.5,352.9 1729.0,353.3 1729.6,353.8 1730.1,354.3 1730.6,354.9 1731.2,355.4 1731.7,356.0 1732.2,356.7 1732.7,357.3 1733.3,357.9 1733.8,358.5 1734.3,359.1 1734.8,359.6 1735.4,360.1 1735.9,360.5 1736.4,360.9 1736.9,361.2 1737.5,361.5 1738.0,361.7 1738.5,361.8 1739.0,361.8 1739.6,361.8 1740.1,361.7 1740.6,361.5 1741.1,361.3 1741.7,361.0 1742.2,360.6 1742.7,360.2 1743.2,359.7 1743.8,359.2 1744.3,358.7 1744.8,358.1 1745.3,357.5 1745.9,356.9 1746.4,356.4 1746.9,355.8 1747.4,355.3 1748.0,354.8 1748.5,354.3 1749.0,353.9 1749.5,353.6 1750.1,353.3 1750.6,353.0 1751.1,352.8 1751.6,352.7 1752.2,352.7 1752.7,352.7 1753.2,352.8 1753.7,353.0 1754.3,353.2 1754.8,353.5 1755.3,353.8 1755.8,354.2 1756.4,354.7 1756.9,355.1 1757.4,355.6 1757.9,356.2 1758.5,356.7 1759.0,357.2 1759.5,357.8 1760.0,358.3 1760.6,358.8 1761.1,359.2 1761.6,359.7 1762.1,360.1 1762.7,360.4 1763.2,360.7 1763.7,360.9 1764.2,361.1 1764.8,361.2 1765.3,361.2 1765.8,361.2 1766.3,361.1 1766.9,361.0 1767.4,360.7 1767.9,360.5 1768.4,360.2 1769.0,359.8 1769.5,359.4 1770.0,358.9 1770.5,358.5 1771.1,358.0 1771.6,357.5 1772.1,357.0 1772.6,356.5 1773.2,356.0 1773.7,355.5 1774.2,355.1 1774.7,354.7 1775.3,354.3 1775.8,354.0 1776.3,353.7 1776.8,353.5 1777.4,353.4 1777.9,353.3 1778.4,353.2 1778.9,353.2 1779.5,353.3 1780.0,353.5 1780.5,353.7 1781.0,353.9 1781.6,354.2 1782.1,354.6 1782.6,354.9 1783.1,355.4 1783.7,355.8 1784.2,356.3 1784.7,356.7 1785.2,357.2 1785.8,357.7 1786.3,358.1 1786.8,358.6 1787.3,359.0 1787.9,359.4 1788.4,359.7 1788.9,360.0 1789.4,360.3 1790.0,360.5 1790.5,360.6 1791.0,360.7 1791.5,360.8 1792.1,360.7 1792.6,360.7 1793.1,360.5 1793.6,360.3 1794.2,360.1 1794.7,359.8 1795.2,359.5 1795.7,359.1 1796.3,358.7 1796.8,358.3 1797.3,357.9 1797.8,357.5 1798.4,357.0 1798.9,356.6 1799.4,356.1 1799.9,355.7 1800.5,355.3 1801.0,355.0 1801.5,354.6 1802.0,354.4 1802.6,354.1 1803.1,353.9 1803.6,353.8 1804.1,353.7 1804.7,353.6 1805.2,353.7 1805.7,353.7 1806.2,353.9 1806.8,354.0 1807.3,354.3 1807.8,354.5 1808.3,354.8 1808.9,355.2 1809.4,355.5 1809.9,355.9 1810.4,356.3 1811.0,356.8 1811.5,357.2 1812.0,357.6 1812.5,358.0 1813.1,358.4 1813.6,358.8 1814.1,359.1 1814.6,359.4 1815.2,359.7 1815.7,359.9 1816.2,360.1 1816.7,360.3 1817.3,360.3 1817.8,360.4 1818.3,360.4 1818.8,360.3 1819.4,360.2 1819.9,360.0 1820.4,359.8 1820.9,359.6 1821.5,359.3 1822.0,358.9 1822.5,358.6 1823.0,358.2 1823.6,357.8 1824.1,357.4 1824.6,357.0 1825.1,356.6 1825.7,356.2 1826.2,355.9 1826.7,355.5 1827.2,355.2 1827.8,354.9 1828.3,354.6 1828.8,354.4 1829.3,354.2 1829.9,354.1 1830.4,354.0 1830.9,354.0 1831.4,354.0 1832.0,354.1 1832.5,354.2 1833.0,354.3 1833.5,354.5 1834.1,354.8 1834.6,355.0 1835.1,355.3 1835.6,355.7 1836.2,356.0 1836.7,356.4 1837.2,356.8 1837.7,357.2 1838.3,357.5 1838.8,357.9 1839.3,358.3 1839.8,358.6 1840.4,358.9 1840.9,359.2 1841.4,359.5 1841.9,359.7 1842.5,359.8 1843.0,360.0 1843.5,360.0 1844.1,360.1 1844.6,360.1 1845.1,360.0 1845.6,359.9 1846.2,359.8 1846.7,359.6 1847.2,359.3 1847.7,359.1 1848.3,358.8 1848.8,358.5 1849.3,358.1 1849.8,357.8 1850.4,357.4 1850.9,357.1 1851.4,356.7 1851.9,356.3 1852.5,356.0 1853.0,355.7 1853.5,355.4 1854.0,355.1 1854.6,354.9 1855.1,354.7 1855.6,354.5 1856.1,354.4 1856.7,354.3 1857.2,354.3 1857.7,354.3 1858.2,354.3 1858.8,354.4 1859.3,354.6 1859.8,354.7 1860.3,355.0 1860.9,355.2 1861.4,355.5 1861.9,355.8 1862.4,356.1 1863.0,356.4 1863.5,356.8 1864.0,357.1 1864.5,357.5 1865.1,357.8 1865.6,358.2 1866.1,358.5 1866.6,358.8 1867.2,359.0 1867.7,359.2 1868.2,359.4 1868.7,359.6 1869.3,359.7 1869.8,359.8 1870.3,359.8 1870.8,359.8 1871.4,359.8 1871.9,359.7 1872.4,359.5 1872.9,359.4 1873.5,359.2 1874.0,358.9 1874.5,358.7 1875.0,358.4 1875.6,358.1 1876.1,357.7 1876.6,357.4 1877.1,357.1 1877.7,356.7 1878.2,356.4 1878.7,356.1 1879.2,355.8 1879.8,355.5 1880.3,355.3 1880.8,355.0 1881.3,354.9 1881.9,354.7 1882.4,354.6 1882.9,354.5 1883.4,354.5 1884.0,354.5 1884.5,354.5 1885.0,354.6 1885.5,354.8 1886.1,354.9 1886.6,355.1 1887.1,355.4 1887.6,355.6 1888.2,355.9 1888.7,356.2 1889.2,356.5 1889.7,356.8 1890.3,357.1 1890.8,357.4 1891.3,357.8 1891.8,358.1 1892.4,358.3 1892.9,358.6 1893.4,358.9 1893.9,359.1 1894.5,359.2 1895.0,359.4 1895.5,359.5 1896.0,359.6 1896.6,359.6 1897.1,359.6 1897.6,359.6 1898.1,359.5 1898.7,359.3 1899.2,359.2 1899.7,359.0 1900.2,358.8 1900.8,358.5 1901.3,358.3 1901.8,358.0 1902.3,357.7 1902.9,357.4 1903.4,357.1 1903.9,356.8 1904.4,356.5 1905.0,356.2 1905.5,355.9 1906.0,355.6 1906.5,355.4 1907.1,355.2 1907.6,355.0 1908.1,354.9 1908.6,354.8 1909.2,354.7 1909.7,354.7 1910.2,354.7 1910.7,354.7 1911.3,354.8 1911.8,354.9 1912.3,355.1 1912.8,355.3 1913.4,355.5 1913.9,355.7 1914.4,356.0 1914.9,356.2 1915.5,356.5 1916.0,356.8 1916.5,357.1 1917.0,357.4 1917.6,357.7 1918.1,358.0 1918.6,358.2 1919.1,358.5 1919.7,358.7 1920.2,358.9 1920.7,359.1 1921.2,359.2 1921.8,359.3 1922.3,359.4 1922.8,359.4 1923.3,359.4 1923.9,359.4 1924.4,359.3 1924.9,359.2 1925.4,359.0 1926.0,358.9 1926.5,358.7 1927.0,358.4 1927.5,358.2 1928.1,357.9 1928.6,357.7 1929.1,357.4 1929.6,357.1 1930.2,356.8 1930.7,356.5 1931.2,356.3 1931.7,356.0 1932.3,355.8 1932.8,355.5 1933.3,355.4 1933.8,355.2 1934.4,355.1 1934.9,355.0 1935.4,354.9 1935.9,354.9 1936.5,354.9 1937.0,354.9 1937.5,355.0 1938.0,355.1 1938.6,355.2 1939.1,355.4 1939.6,355.6 1940.1,355.8 1940.7,356.0 1941.2,356.3 1941.7,356.6 1942.2,356.8 1942.8,357.1 1943.3,357.4 1943.8,357.7 1944.3,357.9 1944.9,358.2 1945.4,358.4 1945.9,358.6 1946.4,358.8 1947.0,358.9 1947.5,359.1 1948.0,359.2 1948.5,359.2 1949.1,359.3 1949.6,359.3 1950.1,359.2 1950.6,359.2 1951.2,359.1 1951.7,358.9 1952.2,358.8 1952.7,358.6 1953.3,358.4 1953.8,358.1 1954.3,357.9 1954.8,357.6 1955.4,357.4 1955.9,357.1"/>
<polyline stroke="#37AD6B" points="1167.7,357.1 1168.5,357.4 1169.3,357.8 1170.1,358.1 1170.8,358.4 1171.6,358.6 1172.4,358.9 1173.2,359.1 1174.0,359.3 1174.8,359.5 1175.6,359.6 1176.4,359.7 1177.1,359.8 1177.9,359.8 1178.7,359.7 1179.5,359.7 1180.3,359.5 1181.1,359.4 1181.9,359.2 1182.7,359.0 1183.4,358.7 1184.2,358.4 1185.0,358.1 1185.8,357.8 1186.6,357.5 1187.4,357.1 1188.2,356.8 1189.0,356.4 1189.7,356.1 1190.5,355.8 1191.3,355.5 1192.1,355.2 1192.9,355.0 1193.7,354.7 1194.5,354.6 1195.3,354.4 1196.0,354.3 1196.8,354.3 1197.6,354.3 1198.4,354.3 1199.2,354.4 1200.0,354.5 1200.8,354.7 1201.6,354.9 1202.3,355.1 1203.1,355.4 1203.9,355.7 1204.7,356.0 1205.5,356.4 1206.3,356.7 1207.1,357.1 1207.9,357.4 1208.6,357.8 1209.4,358.2 1210.2,358.5 1211.0,358.8 1211.8,359.1 1212.6,359.4 1213.4,359.6 1214.2,359.8 1214.9,359.9 1215.7,360.0 1216.5,360.1 1217.3,360.1 1218.1,360.0 1218.9,360.0 1219.7,359.8 1220.5,359.7 1221.2,359.4 1222.0,359.2 1222.8,358.9 1223.6,358.6 1224.4,358.2 1225.2,357.9 1226.0,357.5 1226.8,357.1 1227.5,356.7 1228.3,356.4 1229.1,356.0 1229.9,355.6 1230.7,355.3 1231.5,355.0 1232.3,354.7 1233.1,354.5 1233.8,354.3 1234.6,354.1 1235.4,354.0 1236.2,353.9 1237.0,353.9 1237.8,354.0 1238.6,354.1 1239.4,354.2 1240.1,354.4 1240.9,354.6 1241.7,354.9 1242.5,355.2 1243.3,355.5 1244.1,355.9 1244.9,356.3 1245.7,356.7 1246.4,357.1 1247.2,357.5 1248.0,357.9 1248.8,358.3 1249.6,358.7 1250.4,359.0 1251.2,359.3 1252.0,359.6 1252.7,359.9 1253.5,360.1 1254.3,360.3 1255.1,360.4 1255.9,360.5 1256.7,360.5 1257.5,360.4 1258.3,360.3 1259.0,360.2 1259.8,360.0 1260.6,359.8 1261.4,359.5 1262.2,359.2 1263.0,358.8 1263.8,358.4 1264.6,358.0 1265.3,357.6 1266.1,357.2 1266.9,356.7 1267.7,356.3 1268.5,355.9 1269.3,355.5 1270.1,355.1 1270.9,354.7 1271.6,354.4 1272.4,354.1 1273.2,353.9 1274.0,353.7 1274.8,353.6 1275.6,353.5 1276.4,353.5 1277.2,353.5 1277.9,353.6 1278.7,353.8 1279.5,354.0 1280.3,354.2 1281.1,354.5 1281.9,354.9 1282.7,355.3 1283.4,355.7 1284.2,356.1 1285.0,356.6 1285.8,357.0 1286.6,357.5 1287.4,358.0 1288.2,358.4 1289.0,358.9 1289.7,359.3 1290.5,359.6 1291.3,360.0 1292.1,360.3 1292.9,360.5 1293.7,360.7 1294.5,360.9 1295.3,360.9 1296.0,361.0 1296.8,360.9 1297.6,360.8 1298.4,360.7 1299.2,360.5 1300.0,360.2 1300.8,359.9 1301.6,359.5 1302.3,359.1 1303.1,358.6 1303.9,358.2 1304.7,357.7 1305.5,357.2 1306.3,356.7 1307.1,356.2 1307.9,355.7 1308.6,355.2 1309.4,354.8 1310.2,354.4 1311.0,354.0 1311.8,353.7 1312.6,353.4 1313.4,353.2 1314.2,353.0 1314.9,352.9 1315.7,352.9 1316.5,353.0 1317.3,353.1 1318.1,353.2 1318.9,353.5 1319.7,353.8 1320.5,354.1 1321.2,354.5 1322.0,354.9 1322.8,355.4 1323.6,355.9 1324.4,356.4 1325.2,357.0 1326.0,357.5 1326.8,358.1 1327.5,358.6 1328.3,359.1 1329.1,359.6 1329.9,360.1 1330.7,360.5 1331.5,360.8 1332.3,361.1 1333.1,361.3 1333.8,361.5 1334.6,361.6 1335.4,361.6 1336.2,361.6 1337.0,361.5 1337.8,361.3 1338.6,361.1 1339.4,360.7 1340.1,360.4 1340.9,359.9 1341.7,359.5 1342.5,358.9 1343.3,358.4 1344.1,357.8 1344.9,357.2 1345.7,356.6 1346.4,356.0 1347.2,355.5 1348.0,354.9 1348.8,354.4 1349.6,353.9 1350.4,353.4 1351.2,353.1 1352.0,352.7 1352.7,352.5 1353.5,352.3 1354.3,352.2 1355.1,352.1 1355.9,352.2 1356.7,352.3 1357.5,352.5 1358.3,352.7 1359.0,353.1 1359.8,353.5 1360.6,354.0 1361.4,354.5 1362.2,355.1 1363.0,355.7 1363.8,356.3 1364.6,356.9 1365.3,357.6 1366.1,358.2 1366.9,358.9 1367.7,359.5 1368.5,360.1 1369.3,360.6 1370.1,361.1 1370.9,361.6 1371.6,361.9 1372.4,362.2 1373.2,362.4 1374.0,362.6 1374.8,362.6 1375.6,362.6 1376.4,362.4 1377.2,362.2 1377.9,361.9 1378.7,361.6 1379.5,361.1 1380.3,360.6 1381.1,360.0 1381.9,359.4 1382.7,358.7 1383.5,358.0 1384.2,357.3 1385.0,356.6 1385.8,355.8 1386.6,355.1 1387.4,354.4 1388.2,353.8 1389.0,353.2 1389.8,352.6 1390.5,352.1 1391.3,351.7 1392.1,351.4 1392.9,351.2 1393.7,351.0 1394.5,350.9 1395.3,351.0 1396.0,351.1 1396.8,351.4 1397.6,351.7 1398.4,352.1 1399.2,352.6 1400.0,353.2 1400.8,353.8 1401.6,354.5 1402.3,355.3 1403.1,356.0 1403.9,356.9 1404.7,357.7 1405.5,358.5 1406.3,359.3 1407.1,360.1 1407.9,360.8 1408.6,361.5 1409.4,362.1 1410.2,362.7 1411.0,363.2 1411.8,363.5 1412.6,363.8 1413.4,364.0 1414.2,364.1 1414.9,364.0 1415.7,363.9 1416.5,363.6 1417.3,363.3 1418.1,362.8 1418.9,362.2 1419.7,361.6 1420.5,360.9 1421.2,360.1 1422.0,359.2 1422.8,358.3 1423.6,357.4 1424.4,356.5 1425.2,355.5 1426.0,354.6 1426.8,353.7 1427.5,352.9 1428.3,352.1 1429.1,351.3 1429.9,350.7 1430.7,350.1 1431.5,349.7 1432.3,349.4 1433.1,349.1 1433.8,349.1 1434.6,349.1 1435.4,349.3 1436.2,349.5 1437.0,350.0 1437.8,350.5 1438.6,351.1 1439.4,351.9 1440.1,352.7 1440.9,353.6 1441.7,354.6 1442.5,355.6 1443.3,356.7 1444.1,357.8 1444.9,358.9 1445.7,360.0 1446.4,361.0 1447.2,362.1 1448.0,363.0 1448.8,363.9 1449.6,364.6 1450.4,365.3 1451.2,365.8 1452.0,366.2 1452.7,366.5 1453.5,366.6 1454.3,366.6 1455.1,366.4 1455.9,366.1 1456.7,365.6 1457.5,365.0 1458.3,364.2 1459.0,363.4 1459.8,362.4 1460.6,361.3 1461.4,360.1 1462.2,358.9 1463.0,357.6 1463.8,356.3 1464.6,355.0 1465.3,353.6 1466.1,352.4 1466.9,351.1 1467.7,350.0 1468.5,348.9 1469.3,348.0 1470.1,347.2 1470.9,346.5 1471.6,346.0 1472.4,345.7 1473.2,345.5 1474.0,345.5 1474.8,345.7 1475.6,346.1 1476.4,346.6 1477.2,347.4 1477.9,348.3 1478.7,349.3 1479.5,350.5 1480.3,351.9 1481.1,353.3 1481.9,354.8 1482.7,356.4 1483.5,358.1 1484.2,359.7 1485.0,361.4 1485.8,363.0 1486.6,364.6 1487.4,366.0 1488.2,367.4 1489.0,368.6 1489.8,369.7 1490.5,370.6 1491.3,371.3 1492.1,371.8 1492.9,372.0 1493.7,372.1 1494.5,371.9 1495.3,371.4 1496.1,370.7 1496.8,369.8 1497.6,368.7 1498.4,367.3 1499.2,365.8 1500.0,364.0 1500.8,362.2 1501.6,360.1 1502.4,358.0 1503.1,355.8 1503.9,353.6 1504.7,351.4 1505.5,349.2 1506.3,347.0 1507.1,345.0 1507.9,343.1 1508.6,341.3 1509.4,339.8 1510.2,338.5 1511.0,337.4 1511.8,336.7 1512.6,336.2 1513.4,336.0 1514.2,336.2 1514.9,336.7 1515.7,337.6 1516.5,338.8 1517.3,340.3 1518.1,342.2 1518.9,344.4 1519.7,346.8 1520.5,349.6 1521.2,352.5 1522.0,355.6 1522.8,358.9 1523.6,362.3 1524.4,365.8 1525.2,369.2 1526.0,372.6 1526.8,376.0 1527.5,379.1 1528.3,382.1 1529.1,384.8 1529.9,387.2 1530.7,389.2 1531.5,390.8 1532.3,392.0 1533.1,392.6 1533.8,392.7 1534.6,392.3 1535.4,391.2 1536.2,389.5 1537.0,387.2 1537.8,384.3 1538.6,380.7 1539.4,376.5 1540.1,371.6 1540.9,366.2 1541.7,360.2 1542.5,353.6 1543.3,346.5 1544.1,339.0 1544.9,331.1 1545.7,322.8 1546.4,314.2 1547.2,305.5 1548.0,296.6 1548.8,287.6 1549.6,278.6 1550.4,269.7 1551.2,261.0 1552.0,252.5 1552.7,244.3 1553.5,236.5 1554.3,229.2 1555.1,222.4 1555.9,216.2 1556.7,210.6 1557.5,205.7 1558.3,201.6 1559.0,198.2 1559.8,195.7 1560.6,193.9 1561.4,193.1 1562.2,193.1 1563.0,193.9 1563.8,195.7 1564.6,198.2 1565.3,201.6 1566.1,205.7 1566.9,210.6 1567.7,216.2 1568.5,222.4 1569.3,229.2 1570.1,236.5 1570.9,244.3 1571.6,252.5 1572.4,261.0 1573.2,269.7 1574.0,278.6 1574.8,287.6 1575.6,296.6 1576.4,305.5 1577.2,314.2 1577.9,322.8 1578.7,331.1 1579.5,339.0 1580.3,346.5 1581.1,353.6 1581.9,360.2 1582.7,366.2 1583.5,371.6 1584.2,376.5 1585.0,380.7 1585.8,384.3 1586.6,387.2 1587.4,389.5 1588.2,391.2 1589.0,392.3 1589.8,392.7 1590.5,392.6 1591.3,392.0 1592.1,390.8 1592.9,389.2 1593.7,387.2 1594.5,384.8 1595.3,382.1 1596.1,379.1 1596.8,376.0 1597.6,372.6 1598.4,369.2 1599.2,365.8 1600.0,362.3 1600.8,358.9 1601.6,355.6 1602.4,352.5 1603.1,349.6 1603.9,346.8 1604.7,344.4 1605.5,342.2 1606.3,340.3 1607.1,338.8 1607.9,337.6 1608.7,336.7 1609.4,336.2 1610.2,336.0 1611.0,336.2 1611.8,336.7 1612.6,337.4 1613.4,338.5 1614.2,339.8 1615.0,341.3 1615.7,343.1 1616.5,345.0 1617.3,347.0 1618.1,349.2 1618.9,351.4 1619.7,353.6 1620.5,355.8 1621.2,358.0 1622.0,360.1 1622.8,362.2 1623.6,364.0 1624.4,365.8 1625.2,367.3 1626.0,368.7 1626.8,369.8 1627.5,370.7 1628.3,371.4 1629.1,371.9 1629.9,372.1 1630.7,372.0 1631.5,371.8 1632.3,371.3 1633.1,370.6 1633.8,369.7 1634.6,368.6 1635.4,367.4 1636.2,366.0 1637.0,364.6 1637.8,363.0 1638.6,361.4 1639.4,359.7 1640.1,358.1 1640.9,356.4 1641.7,354.8 1642.5,353.3 1643.3,351.9 1644.1,350.5 1644.9,349.3 1645.7,348.3 1646.4,347.4 1647.2,346.6 1648.0,346.1 1648.8,345.7 1649.6,345.5 1650.4,345.5 1651.2,345.7 1652.0,346.0 1652.7,346.5 1653.5,347.2 1654.3,348.0 1655.1,348.9 1655.9,350.0 1656.7,351.1 1657.5,352.4 1658.3,353.6 1659.0,355.0 1659.8,356.3 1660.6,357.6 1661.4,358.9 1662.2,360.1 1663.0,361.3 1663.8,362.4 1664.6,363.4 1665.3,364.2 1666.1,365.0 1666.9,365.6 1667.7,366.1 1668.5,366.4 1669.3,366.6 1670.1,366.6 1670.9,366.5 1671.6,366.2 1672.4,365.8 1673.2,365.3 1674.0,364.6 1674.8,363.9 1675.6,363.0 1676.4,362.1 1677.2,361.0 1677.9,360.0 1678.7,358.9 1679.5,357.8 1680.3,356.7 1681.1,355.6 1681.9,354.6 1682.7,353.6 1683.5,352.7 1684.2,351.9 1685.0,351.1 1685.8,350.5 1686.6,350.0 1687.4,349.5 1688.2,349.3 1689.0,349.1 1689.8,349.1 1690.5,349.1 1691.3,349.4 1692.1,349.7 1692.9,350.1 1693.7,350.7 1694.5,351.3 1695.3,352.1 1696.1,352.9 1696.8,353.7 1697.6,354.6 1698.4,355.5 1699.2,356.5 1700.0,357.4 1700.8,358.3 1701.6,359.2 1702.4,360.1 1703.1,360.9 1703.9,361.6 1704.7,362.2 1705.5,362.8 1706.3,363.3 1707.1,363.6 1707.9,363.9 1708.7,364.0 1709.4,364.1 1710.2,364.0 1711.0,363.8 1711.8,363.5 1712.6,363.2 1713.4,362.7 1714.2,362.1 1715.0,361.5 1715.7,360.8 1716.5,360.1 1717.3,359.3 1718.1,358.5 1718.9,357.7 1719.7,356.9 1720.5,356.0 1721.3,355.3 1722.0,354.5 1722.8,353.8 1723.6,353.2 1724.4,352.6 1725.2,352.1 1726.0,351.7 1726.8,351.4 1727.6,351.1 1728.3,351.0 1729.1,350.9 1729.9,351.0 1730.7,351.2 1731.5,351.4 1732.3,351.7 1733.1,352.1 1733.8,352.6 1734.6,353.2 1735.4,353.8 1736.2,354.4 1737.0,355.1 1737.8,355.8 1738.6,356.6 1739.4,357.3 1740.1,358.0 1740.9,358.7 1741.7,359.4 1742.5,360.0 1743.3,360.6 1744.1,361.1 1744.9,361.6 1745.7,361.9 1746.4,362.2 1747.2,362.4 1748.0,362.6 1748.8,362.6 1749.6,362.6 1750.4,362.4 1751.2,362.2 1752.0,361.9 1752.7,361.6 1753.5,361.1 1754.3,360.6 1755.1,360.1 1755.9,359.5 1756.7,358.9 1757.5,358.2 1758.3,357.6 1759.0,356.9 1759.8,356.3 1760.6,355.7 1761.4,355.1 1762.2,354.5 1763.0,354.0 1763.8,353.5 1764.6,353.1 1765.3,352.7 1766.1,352.5 1766.9,352.3 1767.7,352.2 1768.5,352.1 1769.3,352.2 1770.1,352.3 1770.9,352.5 1771.6,352.7 1772.4,353.1 1773.2,353.4 1774.0,353.9 1774.8,354.4 1775.6,354.9 1776.4,355.5 1777.2,356.0 1777.9,356.6 1778.7,357.2 1779.5,357.8 1780.3,358.4 1781.1,358.9 1781.9,359.5 1782.7,359.9 1783.5,360.4 1784.2,360.7 1785.0,361.1 1785.8,361.3 1786.6,361.5 1787.4,361.6 1788.2,361.6 1789.0,361.6 1789.8,361.5 1790.5,361.3 1791.3,361.1 1792.1,360.8 1792.9,360.5 1793.7,360.1 1794.5,359.6 1795.3,359.1 1796.1,358.6 1796.8,358.1 1797.6,357.5 1798.4,357.0 1799.2,356.4 1800.0,355.9 1800.8,355.4 1801.6,354.9 1802.4,354.5 1803.1,354.1 1803.9,353.8 1804.7,353.5 1805.5,353.2 1806.3,353.1 1807.1,353.0 1807.9,352.9 1808.7,352.9 1809.4,353.0 1810.2,353.2 1811.0,353.4 1811.8,353.7 1812.6,354.0 1813.4,354.4 1814.2,354.8 1815.0,355.2 1815.7,355.7 1816.5,356.2 1817.3,356.7 1818.1,357.2 1818.9,357.7 1819.7,358.2 1820.5,358.6 1821.3,359.1 1822.0,359.5 1822.8,359.9 1823.6,360.2 1824.4,360.5 1825.2,360.7 1826.0,360.8 1826.8,360.9 1827.6,361.0 1828.3,360.9 1829.1,360.9 1829.9,360.7 1830.7,360.5 1831.5,360.3 1832.3,360.0 1833.1,359.6 1833.9,359.3 1834.6,358.9 1835.4,358.4 1836.2,358.0 1837.0,357.5 1837.8,357.0 1838.6,356.6 1839.4,356.1 1840.2,355.7 1840.9,355.3 1841.7,354.9 1842.5,354.5 1843.3,354.2 1844.1,354.0 1844.9,353.8 1845.7,353.6 1846.4,353.5 1847.2,353.5 1848.0,353.5 1848.8,353.6 1849.6,353.7 1850.4,353.9 1851.2,354.1 1852.0,354.4 1852.7,354.7 1853.5,355.1 1854.3,355.5 1855.1,355.9 1855.9,356.3 1856.7,356.7 1857.5,357.2 1858.3,357.6 1859.0,358.0 1859.8,358.4 1860.6,358.8 1861.4,359.2 1862.2,359.5 1863.0,359.8 1863.8,360.0 1864.6,360.2 1865.3,360.3 1866.1,360.4 1866.9,360.5 1867.7,360.5 1868.5,360.4 1869.3,360.3 1870.1,360.1 1870.9,359.9 1871.6,359.6 1872.4,359.3 1873.2,359.0 1874.0,358.7 1874.8,358.3 1875.6,357.9 1876.4,357.5 1877.2,357.1 1877.9,356.7 1878.7,356.3 1879.5,355.9 1880.3,355.5 1881.1,355.2 1881.9,354.9 1882.7,354.6 1883.5,354.4 1884.2,354.2 1885.0,354.1 1885.8,354.0 1886.6,353.9 1887.4,353.9 1888.2,354.0 1889.0,354.1 1889.8,354.3 1890.5,354.5 1891.3,354.7 1892.1,355.0 1892.9,355.3 1893.7,355.6 1894.5,356.0 1895.3,356.4 1896.1,356.7 1896.8,357.1 1897.6,357.5 1898.4,357.9 1899.2,358.2 1900.0,358.6 1900.8,358.9 1901.6,359.2 1902.4,359.4 1903.1,359.7 1903.9,359.8 1904.7,360.0 1905.5,360.0 1906.3,360.1 1907.1,360.1 1907.9,360.0 1908.7,359.9 1909.4,359.8 1910.2,359.6 1911.0,359.4 1911.8,359.1 1912.6,358.8 1913.4,358.5 1914.2,358.2 1915.0,357.8 1915.7,357.4 1916.5,357.1 1917.3,356.7 1918.1,356.4 1918.9,356.0 1919.7,355.7 1920.5,355.4 1921.3,355.1 1922.0,354.9 1922.8,354.7 1923.6,354.5 1924.4,354.4 1925.2,354.3 1926.0,354.3 1926.8,354.3 1927.6,354.3 1928.3,354.4 1929.1,354.6 1929.9,354.7 1930.7,355.0 1931.5,355.2 1932.3,355.5 1933.1,355.8 1933.9,356.1 1934.6,356.4 1935.4,356.8 1936.2,357.1 1937.0,357.5 1937.8,357.8 1938.6,358.1 1939.4,358.4 1940.2,358.7 1940.9,359.0 1941.7,359.2 1942.5,359.4 1943.3,359.5 1944.1,359.7 1944.9,359.7 1945.7,359.8 1946.5,359.8 1947.2,359.7 1948.0,359.6 1948.8,359.5 1949.6,359.3 1950.4,359.1 1951.2,358.9 1952.0,358.6 1952.8,358.4 1953.5,358.1 1954.3,357.8 1955.1,357.4 1955.9,357.1"/>
<polyline stroke="#B177DE" points="1167.7,357.1 1169.3,357.6 1170.8,358.0 1172.4,358.5 1174.0,358.9 1175.6,359.3 1177.1,359.7 1178.7,360.0 1180.3,360.3 1181.9,360.6 1183.4,360.8 1185.0,360.9 1186.6,361.0 1188.2,361.0 1189.7,360.9 1191.3,360.8 1192.9,360.7 1194.4,360.5 1196.0,360.2 1197.6,359.9 1199.2,359.5 1200.7,359.1 1202.3,358.6 1203.9,358.1 1205.5,357.6 1207.0,357.1 1208.6,356.6 1210.2,356.1 1211.8,355.6 1213.3,355.1 1214.9,354.7 1216.5,354.2 1218.0,353.9 1219.6,353.5 1221.2,353.2 1222.8,353.0 1224.3,352.9 1225.9,352.8 1227.5,352.8 1229.1,352.8 1230.6,352.9 1232.2,353.1 1233.8,353.3 1235.3,353.6 1236.9,354.0 1238.5,354.4 1240.1,354.9 1241.6,355.4 1243.2,355.9 1244.8,356.5 1246.4,357.0 1247.9,357.6 1249.5,358.2 1251.1,358.8 1252.7,359.3 1254.2,359.8 1255.8,360.3 1257.4,360.7 1258.9,361.1 1260.5,361.4 1262.1,361.7 1263.7,361.9 1265.2,362.0 1266.8,362.0 1268.4,362.0 1270.0,361.9 1271.5,361.7 1273.1,361.4 1274.7,361.1 1276.3,360.7 1277.8,360.2 1279.4,359.7 1281.0,359.1 1282.5,358.5 1284.1,357.9 1285.7,357.2 1287.3,356.5 1288.8,355.9 1290.4,355.2 1292.0,354.6 1293.6,354.0 1295.1,353.4 1296.7,352.9 1298.3,352.5 1299.9,352.1 1301.4,351.8 1303.0,351.6 1304.6,351.5 1306.1,351.4 1307.7,351.4 1309.3,351.6 1310.9,351.8 1312.4,352.1 1314.0,352.5 1315.6,353.0 1317.2,353.5 1318.7,354.1 1320.3,354.7 1321.9,355.4 1323.5,356.2 1325.0,356.9 1326.6,357.7 1328.2,358.5 1329.7,359.3 1331.3,360.0 1332.9,360.7 1334.5,361.4 1336.0,362.0 1337.6,362.5 1339.2,362.9 1340.8,363.3 1342.3,363.6 1343.9,363.8 1345.5,363.8 1347.1,363.8 1348.6,363.7 1350.2,363.4 1351.8,363.1 1353.3,362.6 1354.9,362.1 1356.5,361.4 1358.1,360.7 1359.6,360.0 1361.2,359.1 1362.8,358.2 1364.4,357.3 1365.9,356.4 1367.5,355.5 1369.1,354.5 1370.6,353.6 1372.2,352.8 1373.8,352.0 1375.4,351.3 1376.9,350.6 1378.5,350.0 1380.1,349.6 1381.7,349.2 1383.2,349.0 1384.8,348.9 1386.4,348.9 1388.0,349.0 1389.5,349.3 1391.1,349.7 1392.7,350.3 1394.2,350.9 1395.8,351.7 1397.4,352.6 1399.0,353.5 1400.5,354.5 1402.1,355.6 1403.7,356.8 1405.3,357.9 1406.8,359.1 1408.4,360.3 1410.0,361.4 1411.6,362.5 1413.1,363.5 1414.7,364.5 1416.3,365.3 1417.8,366.1 1419.4,366.7 1421.0,367.2 1422.6,367.5 1424.1,367.7 1425.7,367.7 1427.3,367.5 1428.9,367.2 1430.4,366.7 1432.0,366.0 1433.6,365.2 1435.2,364.2 1436.7,363.1 1438.3,361.9 1439.9,360.6 1441.4,359.1 1443.0,357.6 1444.6,356.1 1446.2,354.5 1447.7,352.9 1449.3,351.4 1450.9,349.9 1452.5,348.4 1454.0,347.1 1455.6,345.9 1457.2,344.8 1458.8,343.9 1460.3,343.1 1461.9,342.6 1463.5,342.3 1465.0,342.2 1466.6,342.3 1468.2,342.7 1469.8,343.4 1471.3,344.2 1472.9,345.3 1474.5,346.7 1476.1,348.2 1477.6,349.9 1479.2,351.9 1480.8,354.0 1482.4,356.2 1483.9,358.5 1485.5,360.9 1487.1,363.3 1488.6,365.8 1490.2,368.2 1491.8,370.5 1493.4,372.8 1494.9,374.9 1496.5,376.8 1498.1,378.4 1499.7,379.8 1501.2,381.0 1502.8,381.8 1504.4,382.2 1505.9,382.3 1507.5,382.0 1509.1,381.2 1510.7,380.0 1512.2,378.4 1513.8,376.3 1515.4,373.7 1517.0,370.7 1518.5,367.3 1520.1,363.4 1521.7,359.1 1523.3,354.5 1524.8,349.5 1526.4,344.2 1528.0,338.6 1529.5,332.7 1531.1,326.7 1532.7,320.5 1534.3,314.2 1535.8,307.8 1537.4,301.5 1539.0,295.2 1540.6,289.1 1542.1,283.1 1543.7,277.3 1545.3,271.8 1546.9,266.6 1548.4,261.8 1550.0,257.4 1551.6,253.5 1553.1,250.0 1554.7,247.1 1556.3,244.7 1557.9,242.9 1559.4,241.7 1561.0,241.1 1562.6,241.1 1564.2,241.7 1565.7,242.9 1567.3,244.7 1568.9,247.1 1570.5,250.0 1572.0,253.5 1573.6,257.4 1575.2,261.8 1576.7,266.6 1578.3,271.8 1579.9,277.3 1581.5,283.1 1583.0,289.1 1584.6,295.2 1586.2,301.5 1587.8,307.8 1589.3,314.2 1590.9,320.5 1592.5,326.7 1594.1,332.7 1595.6,338.6 1597.2,344.2 1598.8,349.5 1600.3,354.5 1601.9,359.1 1603.5,363.4 1605.1,367.3 1606.6,370.7 1608.2,373.7 1609.8,376.3 1611.4,378.4 1612.9,380.0 1614.5,381.2 1616.1,382.0 1617.7,382.3 1619.2,382.2 1620.8,381.8 1622.4,381.0 1623.9,379.8 1625.5,378.4 1627.1,376.8 1628.7,374.9 1630.2,372.8 1631.8,370.5 1633.4,368.2 1635.0,365.8 1636.5,363.3 1638.1,360.9 1639.7,358.5 1641.2,356.2 1642.8,354.0 1644.4,351.9 1646.0,349.9 1647.5,348.2 1649.1,346.7 1650.7,345.3 1652.3,344.2 1653.8,343.4 1655.4,342.7 1657.0,342.3 1658.6,342.2 1660.1,342.3 1661.7,342.6 1663.3,343.1 1664.8,343.9 1666.4,344.8 1668.0,345.9 1669.6,347.1 1671.1,348.4 1672.7,349.9 1674.3,351.4 1675.9,352.9 1677.4,354.5 1679.0,356.1 1680.6,357.6 1682.2,359.1 1683.7,360.6 1685.3,361.9 1686.9,363.1 1688.4,364.2 1690.0,365.2 1691.6,366.0 1693.2,366.7 1694.7,367.2 1696.3,367.5 1697.9,367.7 1699.5,367.7 1701.0,367.5 1702.6,367.2 1704.2,366.7 1705.8,366.1 1707.3,365.3 1708.9,364.5 1710.5,363.5 1712.0,362.5 1713.6,361.4 1715.2,360.3 1716.8,359.1 1718.3,357.9 1719.9,356.8 1721.5,355.6 1723.1,354.5 1724.6,353.5 1726.2,352.6 1727.8,351.7 1729.4,350.9 1730.9,350.3 1732.5,349.7 1734.1,349.3 1735.6,349.0 1737.2,348.9 1738.8,348.9 1740.4,349.0 1741.9,349.2 1743.5,349.6 1745.1,350.0 1746.7,350.6 1748.2,351.3 1749.8,352.0 1751.4,352.8 1753.0,353.6 1754.5,354.5 1756.1,355.5 1757.7,356.4 1759.2,357.3 1760.8,358.2 1762.4,359.1 1764.0,360.0 1765.5,360.7 1767.1,361.4 1768.7,362.1 1770.3,362.6 1771.8,363.1 1773.4,363.4 1775.0,363.7 1776.5,363.8 1778.1,363.8 1779.7,363.8 1781.3,363.6 1782.8,363.3 1784.4,362.9 1786.0,362.5 1787.6,362.0 1789.1,361.4 1790.7,360.7 1792.3,360.0 1793.9,359.3 1795.4,358.5 1797.0,357.7 1798.6,356.9 1800.1,356.2 1801.7,355.4 1803.3,354.7 1804.9,354.1 1806.4,353.5 1808.0,353.0 1809.6,352.5 1811.2,352.1 1812.7,351.8 1814.3,351.6 1815.9,351.4 1817.5,351.4 1819.0,351.5 1820.6,351.6 1822.2,351.8 1823.7,352.1 1825.3,352.5 1826.9,352.9 1828.5,353.4 1830.0,354.0 1831.6,354.6 1833.2,355.2 1834.8,355.9 1836.3,356.5 1837.9,357.2 1839.5,357.9 1841.1,358.5 1842.6,359.1 1844.2,359.7 1845.8,360.2 1847.3,360.7 1848.9,361.1 1850.5,361.4 1852.1,361.7 1853.6,361.9 1855.2,362.0 1856.8,362.0 1858.4,362.0 1859.9,361.9 1861.5,361.7 1863.1,361.4 1864.7,361.1 1866.2,360.7 1867.8,360.3 1869.4,359.8 1870.9,359.3 1872.5,358.8 1874.1,358.2 1875.7,357.6 1877.2,357.0 1878.8,356.5 1880.4,355.9 1882.0,355.4 1883.5,354.9 1885.1,354.4 1886.7,354.0 1888.3,353.6 1889.8,353.3 1891.4,353.1 1893.0,352.9 1894.5,352.8 1896.1,352.8 1897.7,352.8 1899.3,352.9 1900.8,353.0 1902.4,353.2 1904.0,353.5 1905.6,353.9 1907.1,354.2 1908.7,354.7 1910.3,355.1 1911.8,355.6 1913.4,356.1 1915.0,356.6 1916.6,357.1 1918.1,357.6 1919.7,358.1 1921.3,358.6 1922.9,359.1 1924.4,359.5 1926.0,359.9 1927.6,360.2 1929.2,360.5 1930.7,360.7 1932.3,360.8 1933.9,360.9 1935.4,361.0 1937.0,361.0 1938.6,360.9 1940.2,360.8 1941.7,360.6 1943.3,360.3 1944.9,360.0 1946.5,359.7 1948.0,359.3 1949.6,358.9 1951.2,358.5 1952.8,358.0 1954.3,357.6 1955.9,357.1"/>
</g>
<rect x="1167.70" y="45.70" width="788.20" height="415.20" fill="none" stroke="#000" stroke-width="1.6"/>
<path d="M1167.70,460.90v7.0 M1167.70,45.70v6.5 M1207.11,460.90v3.7 M1207.11,45.70v3.5 M1246.52,460.90v7.0 M1246.52,45.70v6.5 M1285.93,460.90v3.7 M1285.93,45.70v3.5 M1325.34,460.90v7.0 M1325.34,45.70v6.5 M1364.75,460.90v3.7 M1364.75,45.70v3.5 M1404.16,460.90v7.0 M1404.16,45.70v6.5 M1443.57,460.90v3.7 M1443.57,45.70v3.5 M1482.98,460.90v7.0 M1482.98,45.70v6.5 M1522.39,460.90v3.7 M1522.39,45.70v3.5 M1561.80,460.90v7.0 M1561.80,45.70v6.5 M1601.21,460.90v3.7 M1601.21,45.70v3.5 M1640.62,460.90v7.0 M1640.62,45.70v6.5 M1680.03,460.90v3.7 M1680.03,45.70v3.5 M1719.44,460.90v7.0 M1719.44,45.70v6.5 M1758.85,460.90v3.7 M1758.85,45.70v3.5 M1798.26,460.90v7.0 M1798.26,45.70v6.5 M1837.67,460.90v3.7 M1837.67,45.70v3.5 M1877.08,460.90v7.0 M1877.08,45.70v6.5 M1916.49,460.90v3.7 M1916.49,45.70v3.5 M1955.90,460.90v7.0 M1955.90,45.70v6.5 M1167.70,421.97h-3.5 M1955.90,421.97h-3.5 M1167.70,357.10h-7.0 M1955.90,357.10h-7.0 M1167.70,292.23h-3.5 M1955.90,292.23h-3.5 M1167.70,227.35h-7.0 M1955.90,227.35h-7.0 M1167.70,162.48h-3.5 M1955.90,162.48h-3.5 M1167.70,97.60h-7.0 M1955.90,97.60h-7.0" stroke="#000" stroke-width="1.6" fill="none"/>
<text transform="translate(1167.70,499.80) scale(1,1.04)" text-anchor="middle" font-size="33.8" fill="#000" font-weight="normal" >-5</text>
<text transform="translate(1246.52,499.80) scale(1,1.04)" text-anchor="middle" font-size="33.8" fill="#000" font-weight="normal" >-4</text>
<text transform="translate(1325.34,499.80) scale(1,1.04)" text-anchor="middle" font-size="33.8" fill="#000" font-weight="normal" >-3</text>
<text transform="translate(1404.16,499.80) scale(1,1.04)" text-anchor="middle" font-size="33.8" fill="#000" font-weight="normal" >-2</text>
<text transform="translate(1482.98,499.80) scale(1,1.04)" text-anchor="middle" font-size="33.8" fill="#000" font-weight="normal" >-1</text>
<text transform="translate(1561.80,499.80) scale(1,1.04)" text-anchor="middle" font-size="33.8" fill="#000" font-weight="normal" >0</text>
<text transform="translate(1640.62,499.80) scale(1,1.04)" text-anchor="middle" font-size="33.8" fill="#000" font-weight="normal" >1</text>
<text transform="translate(1719.44,499.80) scale(1,1.04)" text-anchor="middle" font-size="33.8" fill="#000" font-weight="normal" >2</text>
<text transform="translate(1798.26,499.80) scale(1,1.04)" text-anchor="middle" font-size="33.8" fill="#000" font-weight="normal" >3</text>
<text transform="translate(1877.08,499.80) scale(1,1.04)" text-anchor="middle" font-size="33.8" fill="#000" font-weight="normal" >4</text>
<text transform="translate(1955.90,499.80) scale(1,1.04)" text-anchor="middle" font-size="33.8" fill="#000" font-weight="normal" >5</text>
<text transform="translate(1155.00,108.20) scale(1,1.04)" text-anchor="end" font-size="33.8" fill="#000" font-weight="normal" >1.0</text>
<text transform="translate(1155.00,237.95) scale(1,1.04)" text-anchor="end" font-size="33.8" fill="#000" font-weight="normal" >0.5</text>
<text transform="translate(1155.00,367.70) scale(1,1.04)" text-anchor="end" font-size="33.8" fill="#000" font-weight="normal" >0.0</text>
<text transform="translate(1559.30,545.90) scale(1,1.02)" text-anchor="middle" font-size="36.7" fill="#000" font-weight="normal" >Time (µs)</text>
<text transform="translate(1087.80,259.90) rotate(-90) scale(1,1.0)" text-anchor="middle" font-size="37.0" fill="#000" font-weight="normal" >Normalized Amplitude</text>
<line x1="1747.7" y1="78.8" x2="1824" y2="78.8" stroke="#515151" stroke-width="3.4"/>
<text x="1832.00" y="90.70" text-anchor="start" font-size="34.6" fill="#000" font-weight="normal" >10MHz</text>
<line x1="1743.2" y1="120.5" x2="1819.5" y2="120.5" stroke="#F14040" stroke-width="3.4"/>
<text x="1827.80" y="132.60" text-anchor="start" font-size="34.6" fill="#000" font-weight="normal" >8MHz</text>
<line x1="1743.2" y1="162.3" x2="1819.5" y2="162.3" stroke="#1A6FDF" stroke-width="3.4"/>
<text x="1827.80" y="174.20" text-anchor="start" font-size="34.6" fill="#000" font-weight="normal" >6MHz</text>
<line x1="1743.2" y1="204.4" x2="1819.5" y2="204.4" stroke="#37AD6B" stroke-width="3.4"/>
<text x="1827.80" y="215.80" text-anchor="start" font-size="34.6" fill="#000" font-weight="normal" >4MHz</text>
<line x1="1743.2" y1="246.1" x2="1819.5" y2="246.1" stroke="#B177DE" stroke-width="3.4"/>
<text x="1827.80" y="257.30" text-anchor="start" font-size="34.6" fill="#000" font-weight="normal" >2MHz</text>
<text transform="translate(1010.40,36.00) scale(1.045,1.0)" text-anchor="start" font-size="48" fill="#000" font-weight="bold" >(b)</text>
<line x1="140" y1="729.3" x2="946" y2="729.3" stroke="#fafafa" stroke-width="2"/>
<rect x="137.3" y="763.3" width="759.3" height="504.3" fill="#c8c8c8" stroke="#969696" stroke-width="1.5"/>
<path d="M136.8,763.3 V754 H156.5 Q158.5,754 158.5,756 V763.3 Z" fill="#aaaaee" stroke="#8c8cf0" stroke-width="0.8"/>
<path d="M136.8,1267.6 V1276.6 H156.5 Q158.5,1276.6 158.5,1274.6 V1267.6 Z" fill="#aaaaee" stroke="#8c8cf0" stroke-width="0.8"/>
<path d="M134.2,789.7 A23.6,23.6 0 0 0 154.5,778.1" fill="none" stroke="#3f6fca" stroke-width="2.0" stroke-linecap="butt"/>
<path d="M134.2,810.6 A35.9,35.9 0 0 0 166.3,790.8" fill="none" stroke="#3f6fca" stroke-width="2.0" stroke-linecap="butt"/>
<path d="M137.6,830.7 A47.6,47.6 0 0 0 177.5,809.1" fill="none" stroke="#3f6fca" stroke-width="2.0" stroke-linecap="butt"/>
<path d="M139.3,1210.8 A45,45 0 0 0 175.7,1192.3" fill="none" stroke="#3f6fca" stroke-width="2.0" stroke-linecap="butt"/>
<path d="M136.9,1232.7 A35,35 0 0 0 161.8,1222.2" fill="none" stroke="#3f6fca" stroke-width="2.0" stroke-linecap="butt"/>
<path d="M137.9,1249.7 A24,24 0 0 0 153.4,1243.7" fill="none" stroke="#3f6fca" stroke-width="2.0" stroke-linecap="butt"/>
<line x1="137.3" y1="710.5" x2="137.3" y2="1330.6" stroke="#000" stroke-width="3" stroke-dasharray="12.5 9.2 3.0 9.07" stroke-dashoffset="0"/>
<text transform="translate(187.37,815.80) scale(1,1.03)" text-anchor="start" font-size="36.7" fill="#000" font-weight="normal" >Transmitted signal</text>
<text transform="translate(190.57,1233.70) scale(1,1.03)" text-anchor="start" font-size="36.7" fill="#000" font-weight="normal" >received signal</text>
<text transform="translate(48.84,735.60) scale(1.045,1.0)" text-anchor="start" font-size="48" fill="#000" font-weight="bold" >(c)</text>
<path d="M1167.3,755.6H1955.9 M1167.3,1254.5H1955.9 M1167.30,1254.50v3.4 M1167.30,755.60v3.4 M1202.19,1254.50v6.5 M1202.19,755.60v6.5 M1237.09,1254.50v3.4 M1237.09,755.60v3.4 M1271.98,1254.50v6.5 M1271.98,755.60v6.5 M1306.88,1254.50v3.4 M1306.88,755.60v3.4 M1341.77,1254.50v6.5 M1341.77,755.60v6.5 M1376.66,1254.50v3.4 M1376.66,755.60v3.4 M1411.56,1254.50v6.5 M1411.56,755.60v6.5 M1446.45,1254.50v3.4 M1446.45,755.60v3.4 M1481.34,1254.50v6.5 M1481.34,755.60v6.5 M1516.24,1254.50v3.4 M1516.24,755.60v3.4 M1551.13,1254.50v6.5 M1551.13,755.60v6.5 M1586.03,1254.50v3.4 M1586.03,755.60v3.4 M1620.92,1254.50v6.5 M1620.92,755.60v6.5 M1655.81,1254.50v3.4 M1655.81,755.60v3.4 M1690.71,1254.50v6.5 M1690.71,755.60v6.5 M1725.60,1254.50v3.4 M1725.60,755.60v3.4 M1760.49,1254.50v6.5 M1760.49,755.60v6.5 M1795.39,1254.50v3.4 M1795.39,755.60v3.4 M1830.28,1254.50v6.5 M1830.28,755.60v6.5 M1865.18,1254.50v3.4 M1865.18,755.60v3.4 M1900.07,1254.50v6.5 M1900.07,755.60v6.5 M1934.96,1254.50v3.4 M1934.96,755.60v3.4" stroke="#000" stroke-width="1.6" fill="none"/>
<path d="M1167.3,755.6V1254.5 M1167.30,1254.50h-3.3 M1167.30,1223.32h-6.2 M1167.30,1192.14h-3.3 M1167.30,1160.96h-6.2 M1167.30,1129.78h-3.3 M1167.30,1098.59h-6.2 M1167.30,1067.41h-3.3 M1167.30,1036.23h-6.2 M1167.30,1005.05h-3.3 M1167.30,973.87h-6.2 M1167.30,942.69h-3.3 M1167.30,911.51h-6.2 M1167.30,880.33h-3.3 M1167.30,849.14h-6.2 M1167.30,817.96h-3.3 M1167.30,786.78h-6.2" stroke="#ff0000" stroke-width="1.6" fill="none"/>
<path d="M1955.9,755.6V1254.5 M1955.90,1254.50h-3.3 M1955.90,1223.32h-6.2 M1955.90,1192.14h-3.3 M1955.90,1160.96h-6.2 M1955.90,1129.78h-3.3 M1955.90,1098.59h-6.2 M1955.90,1067.41h-3.3 M1955.90,1036.23h-6.2 M1955.90,1005.05h-3.3 M1955.90,973.87h-6.2 M1955.90,942.69h-3.3 M1955.90,911.51h-6.2 M1955.90,880.33h-3.3 M1955.90,849.14h-6.2 M1955.90,817.96h-3.3 M1955.90,786.78h-6.2" stroke="#0000ff" stroke-width="1.6" fill="none"/>
<path d="M1223.10,1036.74L1268.53,920.36 M1281.30,913.34L1367.34,930.25 M1386.15,931.61L1541.64,923.83 M1560.63,923.22L1890.57,918.50" fill="none" stroke="#ff0000" stroke-width="1.9"/>
<rect x="1213.44" y="1039.39" width="12.4" height="12.4" fill="#ff0000"/>
<rect x="1265.78" y="905.31" width="12.4" height="12.4" fill="#ff0000"/>
<rect x="1370.46" y="925.89" width="12.4" height="12.4" fill="#ff0000"/>
<rect x="1544.93" y="917.16" width="12.4" height="12.4" fill="#ff0000"/>
<rect x="1893.87" y="912.17" width="12.4" height="12.4" fill="#ff0000"/>
<path d="M1225.91,1173.15L1265.71,1127.87 M1280.42,1116.36L1368.23,1070.85 M1385.57,1063.18L1542.22,1005.23 M1560.33,999.56L1890.87,914.50" fill="none" stroke="#0000ff" stroke-width="1.9"/>
<rect x="1213.44" y="1174.09" width="12.4" height="12.4" fill="#0000ff"/>
<rect x="1265.78" y="1114.53" width="12.4" height="12.4" fill="#0000ff"/>
<rect x="1370.46" y="1060.28" width="12.4" height="12.4" fill="#0000ff"/>
<rect x="1544.93" y="995.73" width="12.4" height="12.4" fill="#0000ff"/>
<rect x="1893.87" y="905.93" width="12.4" height="12.4" fill="#0000ff"/>
<text transform="translate(1202.19,1293.20) scale(1,1.04)" text-anchor="middle" font-size="33.8" fill="#000" font-weight="normal" >0</text>
<text transform="translate(1271.98,1293.20) scale(1,1.04)" text-anchor="middle" font-size="33.8" fill="#000" font-weight="normal" >1</text>
<text transform="translate(1341.77,1293.20) scale(1,1.04)" text-anchor="middle" font-size="33.8" fill="#000" font-weight="normal" >2</text>
<text transform="translate(1411.56,1293.20) scale(1,1.04)" text-anchor="middle" font-size="33.8" fill="#000" font-weight="normal" >3</text>
<text transform="translate(1481.34,1293.20) scale(1,1.04)" text-anchor="middle" font-size="33.8" fill="#000" font-weight="normal" >4</text>
<text transform="translate(1551.13,1293.20) scale(1,1.04)" text-anchor="middle" font-size="33.8" fill="#000" font-weight="normal" >5</text>
<text transform="translate(1620.92,1293.20) scale(1,1.04)" text-anchor="middle" font-size="33.8" fill="#000" font-weight="normal" >6</text>
<text transform="translate(1690.71,1293.20) scale(1,1.04)" text-anchor="middle" font-size="33.8" fill="#000" font-weight="normal" >7</text>
<text transform="translate(1760.49,1293.20) scale(1,1.04)" text-anchor="middle" font-size="33.8" fill="#000" font-weight="normal" >8</text>
<text transform="translate(1830.28,1293.20) scale(1,1.04)" text-anchor="middle" font-size="33.8" fill="#000" font-weight="normal" >9</text>
<text transform="translate(1900.07,1293.20) scale(1,1.04)" text-anchor="middle" font-size="33.8" fill="#000" font-weight="normal" >10</text>
<text transform="translate(1155.60,1233.92) scale(1,1.04)" text-anchor="end" font-size="33.8" fill="#ff0000" font-weight="normal" >0.0</text>
<text transform="translate(1964.10,1233.92) scale(1,1.04)" text-anchor="start" font-size="33.8" fill="#0000ff" font-weight="normal" >0.0</text>
<text transform="translate(1155.60,1171.56) scale(1,1.04)" text-anchor="end" font-size="33.8" fill="#ff0000" font-weight="normal" >0.2</text>
<text transform="translate(1964.10,1171.56) scale(1,1.04)" text-anchor="start" font-size="33.8" fill="#0000ff" font-weight="normal" >0.2</text>
<text transform="translate(1155.60,1109.19) scale(1,1.04)" text-anchor="end" font-size="33.8" fill="#ff0000" font-weight="normal" >0.4</text>
<text transform="translate(1964.10,1109.19) scale(1,1.04)" text-anchor="start" font-size="33.8" fill="#0000ff" font-weight="normal" >0.4</text>
<text transform="translate(1155.60,1046.83) scale(1,1.04)" text-anchor="end" font-size="33.8" fill="#ff0000" font-weight="normal" >0.6</text>
<text transform="translate(1964.10,1046.83) scale(1,1.04)" text-anchor="start" font-size="33.8" fill="#0000ff" font-weight="normal" >0.6</text>
<text transform="translate(1155.60,984.47) scale(1,1.04)" text-anchor="end" font-size="33.8" fill="#ff0000" font-weight="normal" >0.8</text>
<text transform="translate(1964.10,984.47) scale(1,1.04)" text-anchor="start" font-size="33.8" fill="#0000ff" font-weight="normal" >0.8</text>
<text transform="translate(1155.60,922.11) scale(1,1.04)" text-anchor="end" font-size="33.8" fill="#ff0000" font-weight="normal" >1.0</text>
<text transform="translate(1964.10,922.11) scale(1,1.04)" text-anchor="start" font-size="33.8" fill="#0000ff" font-weight="normal" >1.0</text>
<text transform="translate(1155.60,859.74) scale(1,1.04)" text-anchor="end" font-size="33.8" fill="#ff0000" font-weight="normal" >1.2</text>
<text transform="translate(1964.10,859.74) scale(1,1.04)" text-anchor="start" font-size="33.8" fill="#0000ff" font-weight="normal" >1.2</text>
<text transform="translate(1155.60,797.38) scale(1,1.04)" text-anchor="end" font-size="33.8" fill="#ff0000" font-weight="normal" >1.4</text>
<text transform="translate(1964.10,797.38) scale(1,1.04)" text-anchor="start" font-size="33.8" fill="#0000ff" font-weight="normal" >1.4</text>
<path d="M1180.6,783.9H1209.4 M1228.4,783.9H1257" stroke="#ff0000" stroke-width="1.9" fill="none"/>
<rect x="1212.70" y="777.70" width="12.4" height="12.4" fill="#ff0000"/>
<path d="M1180.6,825.6H1209.4 M1228.4,825.6H1257" stroke="#0000ff" stroke-width="1.9" fill="none"/>
<rect x="1212.70" y="819.40" width="12.4" height="12.4" fill="#0000ff"/>
<text transform="translate(1266.09,794.60) scale(1,1.02)" text-anchor="start" font-size="34.3" fill="#000" font-weight="normal" >peak value of echo signals</text>
<text transform="translate(1266.09,836.50) scale(1,1.02)" text-anchor="start" font-size="34.3" fill="#000" font-weight="normal" >peak value of pulse compression signals</text>
<text transform="translate(1567.10,1328.50) scale(1,1.02)" text-anchor="middle" font-size="36.7" fill="#000" font-weight="normal" >Pulse width (µs)</text>
<text transform="translate(1087.20,997.90) rotate(-90) scale(1,1.0)" text-anchor="middle" font-size="37.0" fill="#000" font-weight="normal" >Normalized Amplitude</text>
<text transform="translate(1010.34,746.20) scale(1.045,1.0)" text-anchor="start" font-size="48" fill="#000" font-weight="bold" >(d)</text>
</svg></body></html>
